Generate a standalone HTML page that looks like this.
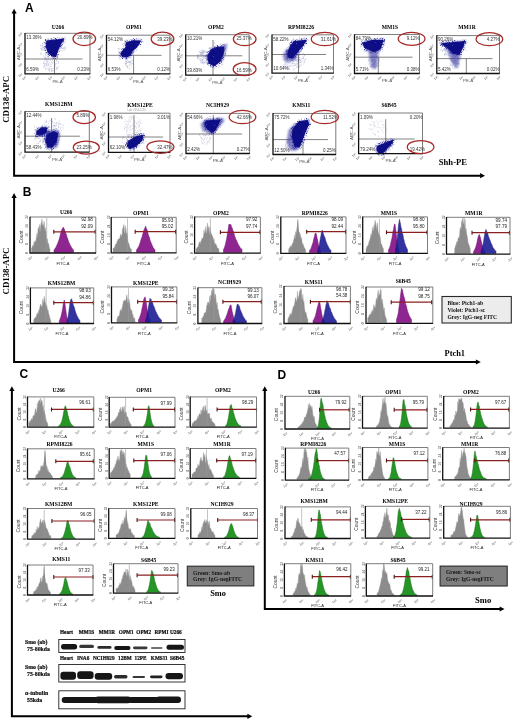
<!DOCTYPE html><html><head><meta charset="utf-8"><style>html,body{margin:0;padding:0;background:#fff;width:520px;height:720px;overflow:hidden}svg{display:block;filter:blur(0.4px)}</style></head><body><svg width="520" height="720" viewBox="0 0 520 720"><defs><filter id="b0" x="-20%" y="-20%" width="140%" height="140%"><feGaussianBlur stdDeviation="0.35"/></filter><filter id="spk1" x="-20%" y="-20%" width="140%" height="140%"><feTurbulence type="fractalNoise" baseFrequency="0.9" numOctaves="1" seed="4" result="n"/><feColorMatrix in="n" type="matrix" values="0 0 0 0 0  0 0 0 0 0  0 0 0 0 0  7 0 0 0 -3.6" result="m"/><feComposite in="SourceGraphic" in2="m" operator="in"/></filter><filter id="spk2" x="-20%" y="-20%" width="140%" height="140%"><feTurbulence type="fractalNoise" baseFrequency="0.9" numOctaves="1" seed="9" result="n"/><feColorMatrix in="n" type="matrix" values="0 0 0 0 0  0 0 0 0 0  0 0 0 0 0  7 0 0 0 -0.9" result="m"/><feComposite in="SourceGraphic" in2="m" operator="in"/></filter><filter id="b2" x="-30%" y="-50%" width="160%" height="200%"><feGaussianBlur stdDeviation="0.55"/></filter><filter id="b1" x="-30%" y="-30%" width="160%" height="160%"><feGaussianBlur stdDeviation="0.9"/></filter></defs><rect width="520" height="720" fill="#fff"/><text transform="translate(25.1 12.4) scale(1 1)" font-size="12" font-family="Liberation Sans" font-weight="bold">A</text><text transform="translate(22.8 195.5) scale(1 1)" font-size="12" font-family="Liberation Sans" font-weight="bold">B</text><text transform="translate(19.5 377.6) scale(1 1)" font-size="12" font-family="Liberation Sans" font-weight="bold">C</text><text transform="translate(277.4 378.7) scale(1 1)" font-size="12" font-family="Liberation Sans" font-weight="bold">D</text><path d="M14.1 12.7V175.7H481" fill="none" stroke="#000" stroke-width="2.0"/><path d="M11.5 13.6L14.1 8.7L16.7 13.6Z" fill="#000"/><path d="M480.1 173.1L485 175.7L480.1 178.3Z" fill="#000"/><path d="M14.1 197.1V362H476.8" fill="none" stroke="#000" stroke-width="2.0"/><path d="M11.5 198L14.1 193.1L16.7 198Z" fill="#000"/><path d="M475.9 359.4L480.8 362L475.9 364.6Z" fill="#000"/><path d="M11.9 390.2V716.3H248.3" fill="none" stroke="#000" stroke-width="2.0"/><path d="M9.3 391.1L11.9 386.2L14.5 391.1Z" fill="#000"/><path d="M247.4 713.7L252.3 716.3L247.4 718.9Z" fill="#000"/><path d="M264.8 390.2V609H500.5" fill="none" stroke="#000" stroke-width="2.0"/><path d="M262.2 391.1L264.8 386.2L267.4 391.1Z" fill="#000"/><path d="M499.6 606.4L504.5 609L499.6 611.6Z" fill="#000"/><text x="9.4" y="99.4" font-size="8.8" text-anchor="middle" font-family="Liberation Serif" font-weight="bold" fill="#000" transform="rotate(-90 9.4 99.4)">CD138-APC</text><text x="9.1" y="271" font-size="8.8" text-anchor="middle" font-family="Liberation Serif" font-weight="bold" fill="#000" transform="rotate(-90 9.1 271)">CD138-APC</text><text x="452.9" y="165.2" font-size="8.6" text-anchor="middle" font-family="Liberation Serif" font-weight="bold" fill="#000" >Shh-PE</text><text x="454.8" y="355.8" font-size="8.4" text-anchor="middle" font-family="Liberation Serif" font-weight="bold" fill="#000" >Ptch1</text><text x="218" y="595.8" font-size="8.3" text-anchor="middle" font-family="Liberation Serif" font-weight="bold" fill="#000" >Smo</text><text x="483.1" y="603" font-size="8.6" text-anchor="middle" font-family="Liberation Serif" font-weight="bold" fill="#000" >Smo</text><text x="58" y="28.7" font-size="5.6" text-anchor="middle" font-family="Liberation Serif" font-weight="bold" fill="#000" >U266</text><path d="M25 59H82.5M54.5 59V73.8" stroke="#5a5a5a" stroke-width="0.75" fill="none"/><path d="M48.2 58.4h0.01M53.4 57.2h0.01M51.6 61.9h0.01M43.9 64.1h0.01M43.6 62.9h0.01M49.8 69.2h0.01M45 59.6h0.01M53 71.2h0.01M52.2 62.3h0.01M56.7 60.6h0.01M47.9 69.1h0.01M45.9 65.3h0.01M53.2 62h0.01M51.8 57h0.01M53.9 62.8h0.01M48 65.4h0.01M50.3 60.8h0.01M55.7 67.2h0.01M46.9 65.2h0.01M51.4 70h0.01M54.7 60.6h0.01M49.7 68.1h0.01M45.4 63.8h0.01M43.6 66.7h0.01M55.2 65.2h0.01M57 61h0.01M54.1 65.5h0.01M52.3 63.3h0.01M50.6 66.6h0.01M44 67.2h0.01M56.2 60.6h0.01M49.2 66.7h0.01M43.4 63.4h0.01M45.1 60h0.01M49.3 69.9h0.01M44.3 63.2h0.01M51.8 70.1h0.01M56.1 69.8h0.01M47.5 62.6h0.01M48.7 70.1h0.01M45.8 59.7h0.01M46.7 63.8h0.01M52.4 60.2h0.01M48.9 65.1h0.01M58.2 67h0.01M51.2 65.9h0.01M53.8 56.9h0.01M57.4 68.5h0.01M57 68.8h0.01M49.3 62.4h0.01M44.7 66.1h0.01M46.3 58.6h0.01M48.4 56.8h0.01M44.6 61.8h0.01M52.8 58.4h0.01M47 61.6h0.01M48.8 58h0.01M50.5 63.7h0.01M48.5 60.2h0.01M56.3 58.6h0.01M51.5 58.3h0.01M51.7 56.4h0.01M51.4 71.7h0.01M56.8 67.1h0.01M47.2 61.9h0.01M45.7 68.4h0.01M51.5 68.5h0.01M48.3 59.6h0.01M56.6 68.9h0.01M56.1 67.8h0.01M46.6 64.3h0.01M48.7 56.5h0.01M47.1 67.1h0.01M58.3 63.2h0.01M58.3 61.8h0.01M46.5 59.6h0.01M46.1 59.3h0.01M53 70.4h0.01M56.4 63.7h0.01M53.4 68.8h0.01M44.4 66.6h0.01M57.6 68.5h0.01M55 63.6h0.01M45.9 68.6h0.01M48.3 68.8h0.01M58.5 62.3h0.01M49.4 71.1h0.01M54.6 58.7h0.01M45.3 69.2h0.01M48.6 64.8h0.01M58.5 66.4h0.01M51.4 70.9h0.01M49.9 69.9h0.01M56.2 59.4h0.01M47 60.7h0.01M46.8 65.4h0.01M47.1 62.7h0.01M48.7 63.3h0.01M52.3 70.5h0.01M49.7 70.7h0.01M51 64.5h0.01M51.4 56.3h0.01M50 58.9h0.01M45.8 63.6h0.01M54.6 64.9h0.01M48.2 64.3h0.01M51.9 68.5h0.01M44.7 65h0.01M47 60.4h0.01M55.4 64.1h0.01" stroke="#6a6aa8" stroke-width="0.7" stroke-linecap="round" opacity="0.5"/><path d="M45.6 54.7h0.01M49.1 49h0.01M46.1 50.1h0.01M45.1 53.5h0.01M44.5 50.6h0.01M44.8 57.9h0.01M47 56.8h0.01M45.6 58h0.01M48.4 43.5h0.01M41.2 49h0.01M40.7 45.3h0.01M40.7 53.1h0.01M47.8 57.1h0.01M41.5 53.9h0.01M46.6 43.6h0.01M44 49.8h0.01M41.6 48.8h0.01M45.2 47.1h0.01M42 46.7h0.01M45.5 48.9h0.01M46.2 50.2h0.01M41 45.8h0.01M42.7 43.3h0.01M44.2 57.4h0.01M48.2 45.7h0.01M45.7 53.6h0.01M46.9 48.7h0.01M46.3 55.4h0.01M44.5 47.1h0.01M45.5 57.7h0.01M42.7 43.3h0.01M45.3 45.3h0.01M43.1 46.5h0.01M47.6 46.2h0.01M45 44.2h0.01M47.3 50.9h0.01M41.9 49.5h0.01M48.2 48.8h0.01M45 56h0.01M43.9 50.1h0.01M43.4 56h0.01M47.1 52.4h0.01M44 47.3h0.01M40.7 54.3h0.01M42.6 43.9h0.01M48.7 53.1h0.01M42.8 45.4h0.01M42.9 49.3h0.01M41.6 49h0.01M49.7 50.8h0.01M43.1 47.4h0.01M44.7 50h0.01M42 50.1h0.01M40.9 48.2h0.01M43 45.2h0.01M45.9 50.5h0.01M47.5 52.8h0.01M47.2 56.8h0.01M43.9 46.9h0.01M47.2 52.6h0.01" stroke="#4a4aa0" stroke-width="0.7" stroke-linecap="round" opacity="0.45"/><path d="M65.7 47.5h0.01M63.8 49.7h0.01M56.7 46.3h0.01M61.1 50h0.01M64.7 49.9h0.01M62 50.7h0.01M63.2 48.3h0.01M56.6 44.3h0.01M61.7 47.5h0.01M62.5 48.2h0.01M60.9 40h0.01M64.6 49h0.01M61 46.4h0.01M62.9 40.8h0.01M63.8 43h0.01M55.9 43.2h0.01M63.8 42.5h0.01M60.9 44.6h0.01M60.7 48.2h0.01M64.2 47.4h0.01M62.7 40.9h0.01M56.8 43h0.01M63.9 43.7h0.01M61.8 40.1h0.01M55.7 43.2h0.01M63.1 48.3h0.01M63.1 43.5h0.01M61.2 45.6h0.01M60.6 41.4h0.01M65.7 42.4h0.01M55.2 45.5h0.01M60.4 43.2h0.01M57.5 47h0.01M56.7 46.3h0.01M64.8 46.1h0.01M65.6 48.4h0.01M57.8 50.8h0.01M60.8 40.3h0.01M55 45.9h0.01M60.4 43.6h0.01" stroke="#4a4aa0" stroke-width="0.7" stroke-linecap="round" opacity="0.45"/><path d="M47 41 L56 40 L63 39.4 L61 43 L58 49 L55.5 56.5 L52.5 56 L48.5 52.5 L46.5 47Z" fill="#3a3aa6" stroke="#3a3aa6" stroke-width="5" stroke-linejoin="round" filter="url(#spk1)"/><path d="M45.9 44h0.01M52.2 39.6h0.01M59.6 38.2h0.01M62.6 41.2h0.01M61.1 42.8h0.01M54.6 40.1h0.01M57.2 51.8h0.01M51.4 40.3h0.01M47 40.9h0.01M53.7 39.9h0.01M62.5 39h0.01M56.7 57.6h0.01M55.1 57.9h0.01M48.1 51.8h0.01M47.5 51.1h0.01M47.4 50.7h0.01M45.1 41.2h0.01M60.8 43.6h0.01M47.7 51h0.01M64.8 39h0.01M49.4 53.4h0.01M59.6 47.9h0.01M52.2 57.7h0.01M63.2 39.3h0.01M55.3 39.4h0.01M60.5 46.3h0.01M56.6 54.2h0.01M61.5 44.1h0.01M45.9 47.8h0.01M58.1 51.4h0.01M54.4 57.9h0.01M58.1 55.1h0.01M43.7 42.9h0.01M57.5 50.9h0.01M47.7 52.1h0.01M47.7 39.2h0.01M48.4 53.8h0.01M62.3 42.5h0.01M56.1 55.4h0.01M57.4 52.4h0.01M47.1 40.2h0.01M55.2 39.1h0.01M57 54.4h0.01M45.5 47.5h0.01M45.9 46.6h0.01M46 41h0.01M48.8 40.5h0.01M50.9 38.9h0.01M56.5 38.9h0.01M54.2 57.3h0.01M46.5 44.7h0.01M45.5 45.6h0.01M56.5 54.1h0.01M52.8 56.5h0.01M60.6 39.3h0.01M46.3 42.7h0.01M54.9 40.1h0.01M57.9 50.5h0.01M57.5 55.6h0.01M46.7 42.1h0.01M61.9 41.5h0.01M62.2 39.4h0.01M58.6 49.6h0.01M61.5 42.6h0.01M59.7 46.6h0.01M51.4 39.6h0.01M53.1 40.2h0.01M51.5 56.3h0.01M46.5 42.8h0.01M57.7 55.8h0.01M50.9 57.6h0.01M63.6 41.8h0.01M47 49.3h0.01M46.7 44.5h0.01M51.1 38.8h0.01M53 57.2h0.01M49.1 53.1h0.01M47.1 48.9h0.01M48.1 54.4h0.01M65.1 39.5h0.01M52.3 57.1h0.01M54.4 57.8h0.01M49.2 39.8h0.01M58.5 49.1h0.01M60.1 45.4h0.01M48.4 40.4h0.01M58.3 49.2h0.01M57.5 52.4h0.01M62.5 38.5h0.01M59.5 46.7h0.01M53.8 56.5h0.01M61.4 38.4h0.01M51.5 55.5h0.01M48.6 54h0.01M61.8 42.9h0.01M58.7 39.5h0.01M45.4 47.1h0.01M51.5 40.4h0.01M53.2 56.1h0.01M63 41.2h0.01M59.9 45.2h0.01M61.2 42.7h0.01M48.9 54.8h0.01M49.2 40.7h0.01M56.1 55.7h0.01M59.9 46.8h0.01M47.3 53.1h0.01M62.6 38.6h0.01M63.1 38.8h0.01M61.8 47h0.01M57.1 55.5h0.01M59.4 46.6h0.01M62 42.6h0.01M47.3 40.9h0.01M54.1 57.2h0.01M46.8 41.2h0.01M47.5 52h0.01M45.9 41.4h0.01M64.9 38h0.01M58.5 48.3h0.01M60.5 44.4h0.01M61.3 38.6h0.01M59.8 46.4h0.01M54.5 40.1h0.01M56.3 38.9h0.01M61.4 46.4h0.01M60.5 38.7h0.01M50.9 40.1h0.01M51.8 56.5h0.01M65.1 40.6h0.01M54 37.7h0.01M47.4 50.1h0.01M46.5 40.9h0.01M54.9 40h0.01M57 39h0.01M52.4 40h0.01M62.6 39.4h0.01M62.2 39.1h0.01M46.8 39.9h0.01M61.8 48.3h0.01M56.5 53.7h0.01M50.3 54.4h0.01M47.8 51.8h0.01M46 52.5h0.01M48.6 55.9h0.01M62.5 38.4h0.01M61.8 41.7h0.01M55.6 56.9h0.01M56.9 56.1h0.01M57.8 51.8h0.01M62.1 39.4h0.01M62.7 41.5h0.01M50.7 54.6h0.01M46.3 43.1h0.01M53.1 39.3h0.01M45.3 43.5h0.01M56.8 53.5h0.01M61.4 44.8h0.01M46.6 48.2h0.01M53.3 56.2h0.01M45.1 50.8h0.01M46.4 42.7h0.01M52 39.1h0.01M56.2 57.1h0.01M60.2 44.7h0.01M53.5 57.3h0.01M57.1 57.1h0.01M54.7 40.1h0.01M60.1 44.8h0.01M63.7 39.8h0.01M46.3 49.7h0.01M46.3 48.9h0.01M52.3 40.2h0.01M64.4 38.6h0.01M61.3 43.1h0.01M62.5 39.4h0.01M49.4 54h0.01M48.2 40.1h0.01M48.2 56.6h0.01M48.2 53.1h0.01M61.4 43.3h0.01M56.7 39.7h0.01M49.2 40.7h0.01M55.6 56.3h0.01M46.1 48.7h0.01M63.6 38.6h0.01M51.9 55.6h0.01M62.5 42.3h0.01M58.8 50h0.01M52.6 59.2h0.01M45.5 45.9h0.01M57.1 54.9h0.01M60.2 45.3h0.01M63 41.5h0.01M60 46.9h0.01M57.8 51.4h0.01M46.7 43.1h0.01M61.7 39.3h0.01M59.2 49h0.01M59.9 46.3h0.01M48.9 40.7h0.01M46.8 41.5h0.01M61.7 38.6h0.01M65.3 36.7h0.01M54.5 56.7h0.01M45.5 44.1h0.01M49.8 53.8h0.01M51 39h0.01M56.2 56.7h0.01M53.3 40h0.01M46.5 45.5h0.01M50.4 55.4h0.01M48 51.2h0.01M50.1 38.5h0.01M61.9 38.6h0.01M47.9 51.9h0.01M43 47.8h0.01M60.6 47.8h0.01M55.6 39.7h0.01M46.2 47.9h0.01M46.5 41.4h0.01M64 41.1h0.01M45.4 40.8h0.01M48 51.8h0.01M59.2 50.1h0.01M51.2 40.4h0.01M46.2 47h0.01M46.4 47.5h0.01M58.8 48.5h0.01M57.3 54h0.01M45.1 44.4h0.01M58.4 51.8h0.01M54.2 38.9h0.01M58.4 39.1h0.01M48.5 40h0.01M57.4 51.9h0.01M58.4 49.3h0.01M62.5 40.5h0.01M59.9 47.9h0.01M47.9 53h0.01M54.3 56.9h0.01M58.7 47.8h0.01M55 39.8h0.01M50.1 54.1h0.01M58.8 39.6h0.01M46.7 43.5h0.01M47.3 50.8h0.01M49.9 54.3h0.01M58 49.1h0.01M56.5 53.8h0.01M49.2 40h0.01M59.2 39.3h0.01M62.6 37.4h0.01M48.6 52.6h0.01M58.5 49.2h0.01M51.8 55.6h0.01M46.3 53.6h0.01M53.7 56.6h0.01M47.4 50.9h0.01M53.5 56.9h0.01" stroke="#3a3aa0" stroke-width="0.6" stroke-linecap="round" opacity="0.5"/><path d="M47 41 L56 40 L63 39.4 L61 43 L58 49 L55.5 56.5 L52.5 56 L48.5 52.5 L46.5 47Z" fill="#0c0c86" stroke="#0c0c86" stroke-width="1.2" stroke-linejoin="round" filter="url(#spk2)"/><path d="M25 33.3H90V73.8" fill="none" stroke="#6e6e6e" stroke-width="0.9"/><path d="M25 33V73.8H90.3" fill="none" stroke="#111" stroke-width="1.3"/><text x="22.8" y="74.8" font-size="2.9" text-anchor="end" font-family="Liberation Sans" fill="#3a3a3a" transform="rotate(-35 22.8 74.8)">10<tspan font-size="2" dy="-1.1">1</tspan></text><text x="22.8" y="64.7" font-size="2.9" text-anchor="end" font-family="Liberation Sans" fill="#3a3a3a" transform="rotate(-35 22.8 64.7)">10<tspan font-size="2" dy="-1.1">2</tspan></text><text x="22.8" y="54.5" font-size="2.9" text-anchor="end" font-family="Liberation Sans" fill="#3a3a3a" transform="rotate(-35 22.8 54.5)">10<tspan font-size="2" dy="-1.1">3</tspan></text><text x="22.8" y="44.4" font-size="2.9" text-anchor="end" font-family="Liberation Sans" fill="#3a3a3a" transform="rotate(-35 22.8 44.4)">10<tspan font-size="2" dy="-1.1">4</tspan></text><text x="22.8" y="34.3" font-size="2.9" text-anchor="end" font-family="Liberation Sans" fill="#3a3a3a" transform="rotate(-35 22.8 34.3)">10<tspan font-size="2" dy="-1.1">5</tspan></text><text x="26.6" y="78" font-size="2.9" text-anchor="end" font-family="Liberation Sans" fill="#3a3a3a" transform="rotate(-35 26.6 78)">10<tspan font-size="2" dy="-1.1">0</tspan></text><text x="39.6" y="78" font-size="2.9" text-anchor="end" font-family="Liberation Sans" fill="#3a3a3a" transform="rotate(-35 39.6 78)">10<tspan font-size="2" dy="-1.1">1</tspan></text><text x="52.6" y="78" font-size="2.9" text-anchor="end" font-family="Liberation Sans" fill="#3a3a3a" transform="rotate(-35 52.6 78)">10<tspan font-size="2" dy="-1.1">2</tspan></text><text x="65.6" y="78" font-size="2.9" text-anchor="end" font-family="Liberation Sans" fill="#3a3a3a" transform="rotate(-35 65.6 78)">10<tspan font-size="2" dy="-1.1">3</tspan></text><text x="78.6" y="78" font-size="2.9" text-anchor="end" font-family="Liberation Sans" fill="#3a3a3a" transform="rotate(-35 78.6 78)">10<tspan font-size="2" dy="-1.1">4</tspan></text><text x="91.6" y="78" font-size="2.9" text-anchor="end" font-family="Liberation Sans" fill="#3a3a3a" transform="rotate(-35 91.6 78)">10<tspan font-size="2" dy="-1.1">5</tspan></text><text x="19.8" y="53.5" font-size="4.4" text-anchor="middle" font-family="Liberation Sans" fill="#555" transform="rotate(-90 19.8 53.5)">APC-A</text><text x="57.5" y="82.6" font-size="4.4" text-anchor="middle" font-family="Liberation Sans" fill="#555">PE-A</text><text x="26.3" y="39" font-size="4.5" text-anchor="start" font-family="Liberation Sans" fill="#333" >13.36%</text><text x="77.2" y="39" font-size="4.5" text-anchor="start" font-family="Liberation Sans" fill="#333" >20.89%</text><text x="26.3" y="70.8" font-size="4.5" text-anchor="start" font-family="Liberation Sans" fill="#333" >6.59%</text><text x="77.2" y="70.8" font-size="4.5" text-anchor="start" font-family="Liberation Sans" fill="#333" >0.23%</text><ellipse cx="84.3" cy="38.8" rx="11.3" ry="6.7" fill="none" stroke="#a82828" stroke-width="1.25"/><text x="134" y="29" font-size="5.6" text-anchor="middle" font-family="Liberation Serif" font-weight="bold" fill="#000" >OPM1</text><path d="M106.5 55.3H161.5M133.6 55.3V73.8" stroke="#5a5a5a" stroke-width="0.75" fill="none"/><path d="M131.2 64.1h0.01M131.2 57.1h0.01M125.7 62.3h0.01M129.9 64.6h0.01M126.4 63h0.01M130.4 61.2h0.01M128.3 61.5h0.01M127.2 57.4h0.01M132.2 60.1h0.01M132 62.9h0.01M130.7 61.3h0.01M126.9 62.9h0.01M127.5 66.6h0.01M125.3 63.9h0.01M127.7 60.9h0.01M129.3 68.8h0.01M129.2 62.9h0.01M126.6 66h0.01M128.9 65.7h0.01M132.4 63.7h0.01M130.6 62.7h0.01M126 61.4h0.01M132.8 60.3h0.01M126.1 61.1h0.01M125.5 63.5h0.01M126.8 58h0.01M130.1 68h0.01M129.7 61.8h0.01M128.4 55.2h0.01M127.8 62.3h0.01M127.7 66.8h0.01M131.5 66.1h0.01M128.9 62h0.01M128.9 61.3h0.01M128.2 61.9h0.01M125.8 65.5h0.01M129.2 57.3h0.01M126.5 61.7h0.01M127.1 66.1h0.01M127.7 68h0.01M127.5 66.9h0.01M125.8 64.4h0.01M128.9 58.1h0.01M126 58.4h0.01M130.9 63.1h0.01M126 59h0.01M131 61.6h0.01M126.7 58.6h0.01M126.5 63.8h0.01M129.8 62.3h0.01" stroke="#4a4aa0" stroke-width="0.7" stroke-linecap="round" opacity="0.45"/><path d="M130.4 48.5h0.01M123 50.7h0.01M125.8 42.2h0.01M130 46.9h0.01M131.4 50.7h0.01M133.3 49.3h0.01M127.5 55.6h0.01M130.8 45.4h0.01M132.9 50.6h0.01M133.2 49.7h0.01M129.9 49.5h0.01M129.9 47.2h0.01M120 48.9h0.01M122.2 44.2h0.01M132 49.9h0.01M130 53.1h0.01M125 47.2h0.01M124.9 45.7h0.01M130.5 54.2h0.01M122.8 51.4h0.01M129 52.4h0.01M129.5 45.1h0.01M130.2 53.5h0.01M124.9 44.4h0.01M124 48.5h0.01M126.4 44.7h0.01M119 50.1h0.01M129.5 51.1h0.01M124.3 53.7h0.01M118.3 48.9h0.01M126.4 43.6h0.01M126.4 40.1h0.01M128.5 48.1h0.01M126.6 53.4h0.01M128.3 55.1h0.01M128.9 54.6h0.01M123.1 54.7h0.01M130.1 46.3h0.01M126.4 52.5h0.01M118.9 48.6h0.01M127.1 51.5h0.01M123.5 49.7h0.01M129.8 46.1h0.01M128.9 54.5h0.01M123.9 48.4h0.01M125.7 53.4h0.01M122.3 44.6h0.01M124.3 50.4h0.01M126 51.7h0.01M124.6 40.4h0.01" stroke="#4a4aa0" stroke-width="0.7" stroke-linecap="round" opacity="0.45"/><path d="M127 42.5 L133 41 L140 41 L138.5 44.5 L134.5 48.5 L132 51 L130 55 L126.5 57 L122.5 56.5 L121 53.5 L123.5 50 L126.5 47.5 L126 44.5Z" fill="#3a3aa6" stroke="#3a3aa6" stroke-width="5" stroke-linejoin="round" filter="url(#spk1)"/><path d="M140.9 40.4h0.01M118.8 51.8h0.01M138 46.1h0.01M137.3 47.1h0.01M128.1 57.3h0.01M137.2 46h0.01M125.4 43h0.01M136.5 40.2h0.01M135.6 40.9h0.01M134.7 48.9h0.01M130.1 41.5h0.01M140.6 44.8h0.01M121.5 52.4h0.01M120.2 52.8h0.01M126 58.1h0.01M132 51.3h0.01M126.1 45.9h0.01M136.3 47h0.01M131.7 53.4h0.01M140.7 39.1h0.01M140.9 44.7h0.01M137.4 46.3h0.01M124.8 42.1h0.01M126 58.3h0.01M128.9 41.8h0.01M134.1 49.3h0.01M124.7 56.9h0.01M142 40.8h0.01M126.3 47.4h0.01M124 48.5h0.01M141.7 42.5h0.01M121.4 55.3h0.01M131.1 55.5h0.01M141.9 41.8h0.01M131.9 52.7h0.01M127.5 58h0.01M126.5 42.6h0.01M131.9 41.1h0.01M126.5 41.4h0.01M137.2 45.9h0.01M135.5 47.6h0.01M129.2 55.7h0.01M137.2 46.2h0.01M129.5 56.2h0.01M127.4 42.1h0.01M131.6 53.1h0.01M143.5 42.1h0.01M126.3 58.8h0.01M134.1 40.4h0.01M140 41.5h0.01M132.8 51.5h0.01M129.5 56.5h0.01M131.3 41.3h0.01M134.1 51.8h0.01M127.4 42.1h0.01M121.6 54.9h0.01M139.4 40.4h0.01M123.3 48.9h0.01M125.1 48.6h0.01M128 56.3h0.01M128.8 56h0.01M129.8 40.6h0.01M130.8 53.6h0.01M126.8 42.6h0.01M135.7 47.5h0.01M137.9 45.3h0.01M139.2 38.6h0.01M128.5 41.8h0.01M121 55.9h0.01M131.4 54h0.01M125.4 59.9h0.01M121.3 52.3h0.01M134.2 50h0.01M122.7 50.4h0.01M136 48.2h0.01M136 47.1h0.01M137.8 40.7h0.01M135.1 40.6h0.01M133.7 49.5h0.01M126.8 42.4h0.01M125.5 45.1h0.01M127.2 41h0.01M123.7 57.4h0.01M136.2 38.8h0.01M125 57.7h0.01M137.4 40.9h0.01M134.7 40.1h0.01M136.6 40.6h0.01M131.9 51.3h0.01M133.2 38.6h0.01M120 59.3h0.01M125.8 42.6h0.01M125 57.5h0.01M130.7 57.4h0.01M136.6 50h0.01M120.1 53.6h0.01M137.1 40.8h0.01M140.5 41.6h0.01M125.3 45.2h0.01M122.6 48.8h0.01M135.8 40.5h0.01M126.8 42.3h0.01M136 47.3h0.01M133.2 40.1h0.01M131 55.6h0.01M135.5 40.4h0.01M119.4 53.8h0.01M124 48.4h0.01M118.4 54.1h0.01M131.8 53.8h0.01M124.1 58.7h0.01M127 57.7h0.01M135.1 40.4h0.01M121.6 57.9h0.01M132.5 53.5h0.01M119.7 56.4h0.01M136.9 46.6h0.01M130.5 41.5h0.01M126.3 47.5h0.01M130.1 56h0.01M128.4 41.3h0.01M125.9 43.7h0.01M135.6 40.2h0.01M121.1 53.7h0.01M126.4 57h0.01M126.1 45.3h0.01M139.9 41h0.01M131.4 40.3h0.01M133.2 54.2h0.01M120.6 55.6h0.01M128.1 41.8h0.01M122.4 50.8h0.01M139.3 42.9h0.01M129 41.5h0.01M139.8 42.5h0.01M122.1 51.8h0.01M131 55.2h0.01M122 48.7h0.01M138.5 44.8h0.01M133.6 49.7h0.01M137.6 45.6h0.01M135.7 41h0.01M120.3 53.6h0.01M123.2 50.4h0.01M127.5 59.2h0.01M134.4 49h0.01M125.4 46.8h0.01M126 44.8h0.01M132.6 40.6h0.01M137.1 40.2h0.01M137 40.9h0.01M126.1 43.6h0.01M135.5 48.1h0.01M121.6 49.8h0.01M136 48h0.01M134.2 40.6h0.01M130.6 57.3h0.01M119.8 58.6h0.01M127.7 42h0.01M129.3 57.2h0.01M126.2 43.8h0.01M121.6 54.9h0.01M128.7 41.7h0.01M135 51.4h0.01M134.5 40.2h0.01M126.3 57.4h0.01M121.1 53.9h0.01M120.1 52.6h0.01M131.8 55.4h0.01M139.2 44.3h0.01M119 57.4h0.01M130 40.9h0.01M125.8 58.4h0.01M129.6 40.6h0.01M140.1 40.3h0.01M128.8 56h0.01M126.1 57.7h0.01M127.7 42.1h0.01M134.4 48.9h0.01M138.3 41h0.01M130.6 54.6h0.01M139.9 40h0.01M123.2 44h0.01M139.8 42.7h0.01M139.2 44.5h0.01M132.5 53.7h0.01M126.4 43h0.01M135.4 47.8h0.01M125.5 47.3h0.01M128.6 56h0.01M132.2 50.8h0.01M127.8 56.8h0.01M126.2 43.8h0.01M135.6 40.8h0.01M138 45.7h0.01M124.4 49h0.01M134.9 41h0.01M132 54.7h0.01M138.9 45.2h0.01M131.3 53.7h0.01M140.1 40.8h0.01M120.8 55.7h0.01M131.5 40.2h0.01M133.6 40.6h0.01M131.2 53.3h0.01M119.9 53.6h0.01M121.8 51.8h0.01M122.7 57.6h0.01M136.2 46.8h0.01M132.7 39.6h0.01M130.5 41.4h0.01M122.2 56h0.01M130.5 55.4h0.01M122.9 49.1h0.01M126 41.3h0.01M133.6 51.7h0.01M132.5 40.9h0.01M140 41.4h0.01M121.6 56.1h0.01M140.7 40.8h0.01M132.6 51.4h0.01M136 39.8h0.01M128.7 41.9h0.01M121.6 55.5h0.01M126 40.3h0.01M133 40.7h0.01M125.2 47.2h0.01M120.6 54.4h0.01M124 49.1h0.01M125.4 46.9h0.01M126.5 57h0.01M132 51.9h0.01M120.4 54h0.01M125.3 45.8h0.01M127.3 56.6h0.01M125.9 57.3h0.01M120.6 54.5h0.01M125.6 43.9h0.01M140.5 40.4h0.01M126.1 57h0.01M133.5 52.5h0.01M125.4 44.2h0.01M127.2 42h0.01M133.7 50.5h0.01M124.8 48.3h0.01M129.9 56.2h0.01M132.3 52.6h0.01M135.9 47.1h0.01M132.9 39.5h0.01M120.7 53.7h0.01M133.5 49.7h0.01M135.4 49.1h0.01M136.9 39.9h0.01M125.8 46h0.01M133.6 40.6h0.01M132.9 50.2h0.01M120.9 52.4h0.01M140.3 40.3h0.01M137 47h0.01M132 54.1h0.01" stroke="#3a3aa0" stroke-width="0.6" stroke-linecap="round" opacity="0.5"/><path d="M127 42.5 L133 41 L140 41 L138.5 44.5 L134.5 48.5 L132 51 L130 55 L126.5 57 L122.5 56.5 L121 53.5 L123.5 50 L126.5 47.5 L126 44.5Z" fill="#0c0c86" stroke="#0c0c86" stroke-width="1.2" stroke-linejoin="round" filter="url(#spk2)"/><path d="M106.5 35.2H170V73.8" fill="none" stroke="#6e6e6e" stroke-width="0.9"/><path d="M106.5 34.9V73.8H170.3" fill="none" stroke="#111" stroke-width="1.3"/><text x="104.3" y="74.8" font-size="2.9" text-anchor="end" font-family="Liberation Sans" fill="#3a3a3a" transform="rotate(-35 104.3 74.8)">10<tspan font-size="2" dy="-1.1">1</tspan></text><text x="104.3" y="65.2" font-size="2.9" text-anchor="end" font-family="Liberation Sans" fill="#3a3a3a" transform="rotate(-35 104.3 65.2)">10<tspan font-size="2" dy="-1.1">2</tspan></text><text x="104.3" y="55.5" font-size="2.9" text-anchor="end" font-family="Liberation Sans" fill="#3a3a3a" transform="rotate(-35 104.3 55.5)">10<tspan font-size="2" dy="-1.1">3</tspan></text><text x="104.3" y="45.9" font-size="2.9" text-anchor="end" font-family="Liberation Sans" fill="#3a3a3a" transform="rotate(-35 104.3 45.9)">10<tspan font-size="2" dy="-1.1">4</tspan></text><text x="104.3" y="36.2" font-size="2.9" text-anchor="end" font-family="Liberation Sans" fill="#3a3a3a" transform="rotate(-35 104.3 36.2)">10<tspan font-size="2" dy="-1.1">5</tspan></text><text x="108.1" y="78" font-size="2.9" text-anchor="end" font-family="Liberation Sans" fill="#3a3a3a" transform="rotate(-35 108.1 78)">10<tspan font-size="2" dy="-1.1">0</tspan></text><text x="120.8" y="78" font-size="2.9" text-anchor="end" font-family="Liberation Sans" fill="#3a3a3a" transform="rotate(-35 120.8 78)">10<tspan font-size="2" dy="-1.1">1</tspan></text><text x="133.5" y="78" font-size="2.9" text-anchor="end" font-family="Liberation Sans" fill="#3a3a3a" transform="rotate(-35 133.5 78)">10<tspan font-size="2" dy="-1.1">2</tspan></text><text x="146.2" y="78" font-size="2.9" text-anchor="end" font-family="Liberation Sans" fill="#3a3a3a" transform="rotate(-35 146.2 78)">10<tspan font-size="2" dy="-1.1">3</tspan></text><text x="158.9" y="78" font-size="2.9" text-anchor="end" font-family="Liberation Sans" fill="#3a3a3a" transform="rotate(-35 158.9 78)">10<tspan font-size="2" dy="-1.1">4</tspan></text><text x="171.6" y="78" font-size="2.9" text-anchor="end" font-family="Liberation Sans" fill="#3a3a3a" transform="rotate(-35 171.6 78)">10<tspan font-size="2" dy="-1.1">5</tspan></text><text x="101.3" y="54.5" font-size="4.4" text-anchor="middle" font-family="Liberation Sans" fill="#555" transform="rotate(-90 101.3 54.5)">APC-A</text><text x="138.2" y="82.6" font-size="4.4" text-anchor="middle" font-family="Liberation Sans" fill="#555">PE-A</text><text x="107.8" y="40.9" font-size="4.5" text-anchor="start" font-family="Liberation Sans" fill="#333" >54.12%</text><text x="157.2" y="40.9" font-size="4.5" text-anchor="start" font-family="Liberation Sans" fill="#333" >39.23%</text><text x="107.8" y="70.8" font-size="4.5" text-anchor="start" font-family="Liberation Sans" fill="#333" >6.53%</text><text x="157.2" y="70.8" font-size="4.5" text-anchor="start" font-family="Liberation Sans" fill="#333" >0.12%</text><ellipse cx="162.5" cy="38.9" rx="11.3" ry="6.7" fill="none" stroke="#a82828" stroke-width="1.25"/><text x="216" y="28.7" font-size="5.6" text-anchor="middle" font-family="Liberation Serif" font-weight="bold" fill="#000" >OPM2</text><path d="M185.7 55.8H242.3M213 40V75.1" stroke="#5a5a5a" stroke-width="0.75" fill="none"/><path d="M201.6 54.5h0.01M197.1 56.1h0.01M203.3 57h0.01M205.7 56.3h0.01M202.7 52.5h0.01M201.9 53.2h0.01M202.2 59.2h0.01M202.8 53.2h0.01M206 51.9h0.01M199.4 52.5h0.01M203.7 50.5h0.01M203.1 56.9h0.01M206.5 52.6h0.01M206 51.1h0.01M203.2 55.9h0.01M201.5 56.8h0.01M201 59.9h0.01M202.1 54.2h0.01M204.9 61.6h0.01M206.4 62.6h0.01M208.1 57.7h0.01M202.2 51.7h0.01M202.9 52.2h0.01M200.5 52.5h0.01M206.9 58.2h0.01M202.1 55.3h0.01M200.6 52.7h0.01M206.8 54.5h0.01M201.9 62h0.01M204.1 50.6h0.01M204.4 51.4h0.01M203 53.4h0.01M206.3 57.9h0.01M202.4 60.6h0.01M207.9 55.8h0.01M205.4 52.1h0.01M204.8 55.4h0.01M201.8 52.1h0.01M203.3 63.9h0.01M206.1 62.3h0.01M202.5 52.6h0.01M197.5 57.9h0.01M201.9 59.5h0.01M200.7 54h0.01M204.6 62.7h0.01M202.4 60.8h0.01M197.3 57.1h0.01M206.3 56.1h0.01M198 58.9h0.01M208.7 55.2h0.01M198.6 57.4h0.01M204.6 56.7h0.01M197.9 55.2h0.01M202.8 54.2h0.01M202.7 59.5h0.01M204.5 57.7h0.01M201.5 53.4h0.01M205.4 56.7h0.01M199.5 51.4h0.01M207.5 61.3h0.01M202.2 62.8h0.01M197.8 56.4h0.01M207.4 57.5h0.01M206.6 60.9h0.01M203.7 55.8h0.01M203.8 62.6h0.01M201 50.9h0.01M203.5 51.4h0.01M201.3 52.5h0.01M197.6 55.7h0.01M199.8 54.8h0.01M201.1 61.2h0.01M201.9 52.3h0.01M204.1 56.8h0.01M197.9 56.6h0.01M200.5 53.6h0.01M202.9 62.5h0.01M202.1 62.1h0.01M203.1 54.3h0.01M200.8 62.6h0.01M208.1 53.4h0.01M204 54.7h0.01M199.9 60.2h0.01M206.3 52.1h0.01M200.9 54.5h0.01M200.4 60.7h0.01M202.2 63.6h0.01M206.4 58.7h0.01M201.9 50.4h0.01M202.8 50.1h0.01M198.1 57.2h0.01M207.8 55.6h0.01M203.1 51.8h0.01M204.4 62.7h0.01M199.9 56.5h0.01M202.7 62.8h0.01M205.6 58.3h0.01M199.1 59.4h0.01M203 59.6h0.01M200.9 55.7h0.01M203.1 61h0.01M203.3 52.9h0.01M202.8 58h0.01M197.6 58.2h0.01M203.7 59h0.01M205.1 60.6h0.01M198 54.4h0.01M200.3 58.9h0.01M207.7 55.1h0.01M200 57.6h0.01" stroke="#4a4aa0" stroke-width="0.7" stroke-linecap="round" opacity="0.45"/><path d="M222.9 62.1h0.01M210.4 66.6h0.01M208.2 58.7h0.01M209.1 48.4h0.01M211.4 61.4h0.01M218.8 49.5h0.01M212 67.3h0.01M216.9 64h0.01M221.3 52.9h0.01M221.2 61.3h0.01M211.7 61.2h0.01M220.8 57.2h0.01M215.8 50.4h0.01M221.2 65h0.01M214.3 48.4h0.01M223.3 57.9h0.01M216.7 61.9h0.01M216.3 59.4h0.01M211.9 58.5h0.01M209.3 61.4h0.01M219.2 56.8h0.01M220.1 57.7h0.01M209.1 52.8h0.01M211.3 54.1h0.01M211.8 50.3h0.01M207.4 56.5h0.01M206.4 55.8h0.01M207.8 56.5h0.01M207.6 51.4h0.01M215.1 64.1h0.01M220.3 49.1h0.01M211.1 58.4h0.01M219.6 66.2h0.01M215.8 49h0.01M205.7 58.6h0.01M222.5 51.6h0.01M218.9 62.5h0.01M214.8 51h0.01M207.1 60.3h0.01M208 59.6h0.01M209.9 48.2h0.01M214.5 63.2h0.01M220.2 52.9h0.01M211.5 57.9h0.01M215.8 47.7h0.01M219.8 47.9h0.01M216.1 49.1h0.01M207 57.3h0.01M214.9 55.7h0.01M219.6 58.3h0.01M213.4 65.3h0.01M209.2 57.6h0.01M209 58.5h0.01M219 47.8h0.01M206.8 57.1h0.01M217.2 50.3h0.01M211.8 66.7h0.01M217.9 49.8h0.01M217.3 51.9h0.01M209.7 62.1h0.01" stroke="#4a4aa0" stroke-width="0.7" stroke-linecap="round" opacity="0.45"/><path d="M223 46 L227 44 L225 52 L221 62Z" fill="#3a3aa2" stroke="#3a3aa2" stroke-width="1" stroke-linejoin="round" opacity="0.62" filter="url(#b1)"/><path d="M211 50 L217 47.5 L223.5 47 L223 54 L220 61 L214 65.5 L209 63 L208 56Z" fill="#3a3aa6" stroke="#3a3aa6" stroke-width="5" stroke-linejoin="round" filter="url(#spk1)"/><path d="M213.1 46.5h0.01M222.4 57.1h0.01M224.5 45.8h0.01M215.8 64.2h0.01M222 59.7h0.01M206.2 56.5h0.01M207.5 56.8h0.01M207.6 55.3h0.01M210.1 50.6h0.01M214.3 65.7h0.01M224.4 48.8h0.01M216.9 47.3h0.01M212.2 48.9h0.01M208.1 59.4h0.01M216.5 63.7h0.01M206.4 55h0.01M210.8 64.6h0.01M223.3 53.6h0.01M221.9 45.7h0.01M210.7 64.7h0.01M219.5 46.7h0.01M224 56h0.01M223.6 52.2h0.01M214.4 48h0.01M223.9 55.1h0.01M215.1 65.4h0.01M210.4 63.9h0.01M215.4 65.8h0.01M221.7 60.9h0.01M208.5 53.9h0.01M217.7 46.9h0.01M224.7 48h0.01M223.4 48.8h0.01M212.3 66.9h0.01M223.7 48.4h0.01M220.1 43.9h0.01M213.6 66.3h0.01M209.9 63.8h0.01M212.6 64.8h0.01M220.5 61.4h0.01M216.8 45.6h0.01M207.5 54.9h0.01M218.5 62.2h0.01M221.6 46.4h0.01M224.5 57.9h0.01M224.4 48.4h0.01M219.4 46.2h0.01M212 49.4h0.01M217.5 63.3h0.01M207.5 57.7h0.01M213.2 48.1h0.01M208.7 63.3h0.01M218.3 46.6h0.01M208.2 60.6h0.01M222.2 58.6h0.01M215.7 47.1h0.01M223.4 46.3h0.01M207.8 59.6h0.01M217.8 47.2h0.01M211 48.3h0.01M219.2 62.2h0.01M223.9 49h0.01M222.4 46.7h0.01M217.5 46.4h0.01M222 60h0.01M220.9 60.6h0.01M217.2 63.6h0.01M208.4 59.8h0.01M223.3 57h0.01M212.4 48.6h0.01M214.9 43.1h0.01M221.5 57.5h0.01M215.2 65.6h0.01M211.6 65.4h0.01M218.6 64.8h0.01M222.6 58.7h0.01M207.7 58.1h0.01M223.7 47.5h0.01M215.9 64.9h0.01M224 45.1h0.01M216.9 64.3h0.01M223.7 57.8h0.01M223.1 56.4h0.01M211.5 48.4h0.01M223.8 59.8h0.01M210.5 65.6h0.01M209.4 47.6h0.01M212.6 49.1h0.01M218 62.9h0.01M223.5 48.6h0.01M208.3 60.3h0.01M221.5 59h0.01M221.6 57.7h0.01M207.4 56.9h0.01M210.8 50.4h0.01M222.7 47h0.01M206.3 60.6h0.01M220.9 59.7h0.01M208.7 62.2h0.01M219.2 47.1h0.01M224.7 48.7h0.01M208.5 54.6h0.01M222.8 55h0.01M208.3 60.5h0.01M211.6 64.9h0.01M207.8 56h0.01M214.4 43.1h0.01M215.2 47h0.01M223.7 50.4h0.01M208.6 54.6h0.01M211.5 65.1h0.01M224.2 45.2h0.01M207.1 62.2h0.01M215.3 64.6h0.01M214.5 48.5h0.01M208.2 58.2h0.01M210.5 49.2h0.01M208.9 64h0.01M223.5 48.8h0.01M220.4 45h0.01M222.8 54.6h0.01M212.7 65.5h0.01M210 64h0.01M215.1 46.7h0.01M214 47.9h0.01M210.6 49.9h0.01M216.3 63.9h0.01M215.6 46.5h0.01M215 47.8h0.01M219.5 62.7h0.01M218.2 67.4h0.01M214.4 48.5h0.01M211 64.9h0.01M216.1 66.3h0.01M208.1 58.3h0.01M221.9 59.3h0.01M215.8 64.2h0.01M213.3 48.8h0.01M216.4 64.2h0.01M208.2 59.3h0.01M218.1 46.4h0.01M224.2 50.7h0.01M207.8 52.4h0.01M216.4 64h0.01M219.4 61.9h0.01M219 61.8h0.01M220.5 60.7h0.01M207.2 58.4h0.01M215.7 46.4h0.01M209.9 65.3h0.01M216.4 63.7h0.01M217.9 63.5h0.01M221.2 58.7h0.01M223.6 54.6h0.01M218.3 62.5h0.01M210.8 49.9h0.01M209.5 50.1h0.01M208.1 56.9h0.01M224.4 51h0.01M223.2 51.2h0.01M224.2 47.5h0.01M215.2 64.6h0.01M222.7 56.2h0.01M221.9 56.7h0.01M217.4 63.9h0.01M205.9 56.6h0.01M208.1 58h0.01M204.2 52.5h0.01M223.8 49.8h0.01M213 65.6h0.01M210.8 66.3h0.01M205.8 63.3h0.01M222.2 57.7h0.01M209.4 52.8h0.01M223.3 51.1h0.01M208.1 53.8h0.01M208.2 57.6h0.01M208.1 57.9h0.01M216.8 63.4h0.01M221 47.1h0.01M207.8 64.2h0.01M216.1 64.3h0.01M223.4 52.9h0.01M224.4 45h0.01M223.6 51.9h0.01M219.7 62.3h0.01M223.4 50.7h0.01M211.8 48.5h0.01M215 46.7h0.01M216.3 47.1h0.01M207.9 56.7h0.01M210.2 67h0.01M215.8 46.9h0.01M222 46.5h0.01M209.2 63.2h0.01M213.5 67h0.01M217.9 62.7h0.01M222.1 46.9h0.01M209.6 63.4h0.01M223.6 50.6h0.01M224 54.7h0.01M209.6 50.4h0.01M208.6 53.7h0.01M209.1 53.6h0.01M208.2 59.8h0.01M223.5 48.4h0.01M208.2 59.3h0.01M215.4 66.9h0.01M208.4 59.9h0.01M209.2 52.8h0.01M217.1 63.7h0.01M222.8 64.4h0.01M221.3 61.5h0.01M214 48.4h0.01M221.9 46.1h0.01M223.4 48.5h0.01M219.4 63.3h0.01M222.2 58.7h0.01M218 62.9h0.01M207.8 59.9h0.01M213.8 48h0.01M220.9 61.1h0.01M209.8 63.5h0.01M211.9 66.5h0.01M214.9 65.4h0.01M221.9 64.3h0.01M211.3 49.8h0.01M221.9 58.2h0.01M223.3 50.3h0.01M214.7 68.1h0.01M206.6 56.5h0.01M222.7 46.5h0.01M217.6 64.4h0.01M206.2 56.3h0.01M208.3 64.1h0.01M206.5 59.5h0.01M211.6 64.4h0.01M214.5 67.3h0.01M222 58.3h0.01M214.9 46.2h0.01M209.8 50.8h0.01M216.4 47.5h0.01M223.6 52h0.01M221.9 57.3h0.01M210.7 48.6h0.01M215.7 47.9h0.01M206.7 58h0.01M208.8 53.7h0.01M221.3 47h0.01M212.7 67.4h0.01M208 56.4h0.01M210.8 65.1h0.01M210.5 63.9h0.01M212.6 49.1h0.01M210.2 51.1h0.01M207.9 60.4h0.01M214.4 48.6h0.01M222.2 46.1h0.01M224.3 47.1h0.01M222 57h0.01" stroke="#3a3aa0" stroke-width="0.6" stroke-linecap="round" opacity="0.5"/><path d="M211 50 L217 47.5 L223.5 47 L223 54 L220 61 L214 65.5 L209 63 L208 56Z" fill="#0c0c86" stroke="#0c0c86" stroke-width="1.2" stroke-linejoin="round" filter="url(#spk2)"/><path d="M185.7 34.7H249.2V75.1" fill="none" stroke="#6e6e6e" stroke-width="0.9"/><path d="M185.7 34.4V75.1H249.5" fill="none" stroke="#111" stroke-width="1.3"/><text x="183.5" y="76.1" font-size="2.9" text-anchor="end" font-family="Liberation Sans" fill="#3a3a3a" transform="rotate(-35 183.5 76.1)">10<tspan font-size="2" dy="-1.1">1</tspan></text><text x="183.5" y="66" font-size="2.9" text-anchor="end" font-family="Liberation Sans" fill="#3a3a3a" transform="rotate(-35 183.5 66)">10<tspan font-size="2" dy="-1.1">2</tspan></text><text x="183.5" y="55.9" font-size="2.9" text-anchor="end" font-family="Liberation Sans" fill="#3a3a3a" transform="rotate(-35 183.5 55.9)">10<tspan font-size="2" dy="-1.1">3</tspan></text><text x="183.5" y="45.8" font-size="2.9" text-anchor="end" font-family="Liberation Sans" fill="#3a3a3a" transform="rotate(-35 183.5 45.8)">10<tspan font-size="2" dy="-1.1">4</tspan></text><text x="183.5" y="35.7" font-size="2.9" text-anchor="end" font-family="Liberation Sans" fill="#3a3a3a" transform="rotate(-35 183.5 35.7)">10<tspan font-size="2" dy="-1.1">5</tspan></text><text x="187.3" y="79.3" font-size="2.9" text-anchor="end" font-family="Liberation Sans" fill="#3a3a3a" transform="rotate(-35 187.3 79.3)">10<tspan font-size="2" dy="-1.1">0</tspan></text><text x="200" y="79.3" font-size="2.9" text-anchor="end" font-family="Liberation Sans" fill="#3a3a3a" transform="rotate(-35 200 79.3)">10<tspan font-size="2" dy="-1.1">1</tspan></text><text x="212.7" y="79.3" font-size="2.9" text-anchor="end" font-family="Liberation Sans" fill="#3a3a3a" transform="rotate(-35 212.7 79.3)">10<tspan font-size="2" dy="-1.1">2</tspan></text><text x="225.4" y="79.3" font-size="2.9" text-anchor="end" font-family="Liberation Sans" fill="#3a3a3a" transform="rotate(-35 225.4 79.3)">10<tspan font-size="2" dy="-1.1">3</tspan></text><text x="238.1" y="79.3" font-size="2.9" text-anchor="end" font-family="Liberation Sans" fill="#3a3a3a" transform="rotate(-35 238.1 79.3)">10<tspan font-size="2" dy="-1.1">4</tspan></text><text x="250.8" y="79.3" font-size="2.9" text-anchor="end" font-family="Liberation Sans" fill="#3a3a3a" transform="rotate(-35 250.8 79.3)">10<tspan font-size="2" dy="-1.1">5</tspan></text><text x="180.5" y="54.9" font-size="4.4" text-anchor="middle" font-family="Liberation Sans" fill="#555" transform="rotate(-90 180.5 54.9)">APC-A</text><text x="217.4" y="83.9" font-size="4.4" text-anchor="middle" font-family="Liberation Sans" fill="#555">PE-A</text><text x="187" y="40.4" font-size="4.5" text-anchor="start" font-family="Liberation Sans" fill="#333" >10.21%</text><text x="236.4" y="40.4" font-size="4.5" text-anchor="start" font-family="Liberation Sans" fill="#333" >25.37%</text><text x="187" y="72.1" font-size="4.5" text-anchor="start" font-family="Liberation Sans" fill="#333" >39.83%</text><text x="236.4" y="72.1" font-size="4.5" text-anchor="start" font-family="Liberation Sans" fill="#333" >16.59%</text><ellipse cx="244.7" cy="39" rx="11.3" ry="6.7" fill="none" stroke="#a82828" stroke-width="1.25"/><ellipse cx="244.6" cy="69.2" rx="11.4" ry="6.5" fill="none" stroke="#a82828" stroke-width="1.25"/><text x="301" y="28.7" font-size="5.6" text-anchor="middle" font-family="Liberation Serif" font-weight="bold" fill="#000" >RPMI8226</text><path d="M272 54.5H326M298.5 54.5V73.2" stroke="#5a5a5a" stroke-width="0.75" fill="none"/><path d="M289.9 65.9h0.01M292.4 54.6h0.01M289.2 68.2h0.01M288.5 62.9h0.01M296.4 57.5h0.01M284.9 59.4h0.01M296.3 59.2h0.01M296 63.7h0.01M289.8 62.7h0.01M293.5 56.6h0.01M282.9 59.8h0.01M293.6 57.2h0.01M298.5 57.1h0.01M293.3 61.3h0.01M295.9 64.2h0.01M290.1 60.1h0.01M289.8 69.7h0.01M293 69.5h0.01M296.5 67.1h0.01M289.6 56.3h0.01M291.3 58.1h0.01M294.3 58.2h0.01M288 64.7h0.01M284.5 67.1h0.01M294.5 65.3h0.01M292.8 60.3h0.01M285.4 66.5h0.01M290.2 66.3h0.01M294.4 56.9h0.01M298.6 67.3h0.01M300.1 64.6h0.01M285.2 57.1h0.01M288.8 67.2h0.01M287.2 61.5h0.01M296.3 55.8h0.01M288.7 58.2h0.01M285.7 63.9h0.01M294.6 68.9h0.01M283.4 64.3h0.01M288.9 54.8h0.01M295.8 60h0.01M298.6 56h0.01M292.3 63.2h0.01M298.1 60.2h0.01M299.9 59.5h0.01M298 59.9h0.01M287.1 67.7h0.01M288.2 56h0.01M286.2 64.6h0.01M294.4 55.2h0.01M300.6 62.5h0.01M294 58.8h0.01M286.5 56.7h0.01M298.4 61.9h0.01M297.1 59.4h0.01M299.9 65.9h0.01M287.8 62.2h0.01M285.9 67h0.01M286.2 58.2h0.01M292.4 57.8h0.01M297 60h0.01M286.2 65.9h0.01M298.9 59.7h0.01M300.1 59.7h0.01M286.3 63.7h0.01M293.4 63.6h0.01M297.1 64.5h0.01M284.4 61.9h0.01M298.1 57.8h0.01M294.2 63.8h0.01M292 64.9h0.01M295.1 65.2h0.01M292.8 54.6h0.01M298 65.9h0.01M286.9 56.8h0.01M299.1 59.9h0.01M292.4 58.6h0.01M287.4 56.1h0.01M292.9 66.8h0.01M298.3 68h0.01M295.7 57h0.01M295.7 60.4h0.01M287.9 57.2h0.01M287.8 68.2h0.01M291 65.2h0.01M285.8 58.8h0.01M289.5 57.5h0.01M292.7 60h0.01M302 62.2h0.01M291.2 58.7h0.01M291.4 59.2h0.01M299.5 66.3h0.01M290.2 61.3h0.01M287.7 66.6h0.01M295.2 65.6h0.01M297.5 65.9h0.01M294.5 59.4h0.01M292.6 63h0.01M295.7 55.3h0.01M298.3 60.4h0.01M296.8 67h0.01M291.1 63.7h0.01M290.3 62h0.01M294.7 56.6h0.01M299.5 67.2h0.01M288.9 66.3h0.01M283.9 59.5h0.01M295.7 57.5h0.01M295 58.8h0.01M291.2 57.1h0.01M289.1 69.3h0.01M293.4 65.9h0.01M295.6 56h0.01M299.3 60.9h0.01M299.6 57.8h0.01M284.3 65.1h0.01M296.5 55.5h0.01M297.2 63.1h0.01M299.2 57.6h0.01M286.7 68.8h0.01" stroke="#4a4aa0" stroke-width="0.7" stroke-linecap="round" opacity="0.45"/><path d="M300 60.8h0.01M299.6 57.3h0.01M299.8 63h0.01M304.3 55.8h0.01M295.4 58.9h0.01M297.2 61.1h0.01M299.4 62.9h0.01M303.1 58.2h0.01M296.7 61.1h0.01M299.5 54.5h0.01M298.4 59.9h0.01M303.7 53.2h0.01M297.8 51.8h0.01M305.4 59.7h0.01M302.9 58.7h0.01M297.3 63.3h0.01M304.3 62.3h0.01M303.9 60.7h0.01M297.4 57.9h0.01M301 51.2h0.01M296.1 57.7h0.01M296 60.3h0.01M301.1 65h0.01M300.6 60.5h0.01M303.2 57.4h0.01M303.7 64.1h0.01M302.4 54.1h0.01M298.8 52.6h0.01M304.5 55.1h0.01M303.2 57.1h0.01M297.9 61.6h0.01M301.2 61.5h0.01M305.5 59.4h0.01M299 59.5h0.01M304.5 61.6h0.01M301.5 59.1h0.01M299.8 59.2h0.01M299.4 55.1h0.01M303.8 58.2h0.01M305.1 59.3h0.01" stroke="#4a4aa0" stroke-width="0.7" stroke-linecap="round" opacity="0.45"/><path d="M286 50 L292 48 L299 52 L294 60 L286 62 L283 56Z" fill="#3a3aa2" stroke="#3a3aa2" stroke-width="1" stroke-linejoin="round" opacity="0.62" filter="url(#b1)"/><path d="M294 41.5 L306 40.5 L303 45 L298 51 L292 58 L288 57 L288 52 L291 46Z" fill="#3a3aa6" stroke="#3a3aa6" stroke-width="5" stroke-linejoin="round" filter="url(#spk1)"/><path d="M305.2 39.5h0.01M301.5 46.9h0.01M301.1 48.5h0.01M296.9 52.4h0.01M302.6 39.3h0.01M288.4 51.1h0.01M301.5 40.3h0.01M296 53.5h0.01M289.9 47.8h0.01M301.3 47.8h0.01M297.3 52.1h0.01M304.5 46.8h0.01M299 49.8h0.01M297 53.4h0.01M288.5 50.7h0.01M300.7 50.7h0.01M298.3 51.6h0.01M301.5 49h0.01M292.3 40h0.01M286.9 51.1h0.01M298.7 50.3h0.01M298.3 51.4h0.01M293.1 57h0.01M300.5 40h0.01M306.3 40.3h0.01M305.6 39.2h0.01M286.7 57.6h0.01M299.1 51.5h0.01M292.9 43.1h0.01M301.7 46.6h0.01M301.3 47.7h0.01M306.9 40.9h0.01M287.3 58.9h0.01M296.9 39.7h0.01M292.5 42.3h0.01M303.7 40.7h0.01M288 56.3h0.01M287.3 53.9h0.01M305.9 40.8h0.01M292.8 43.1h0.01M295 58.7h0.01M287.4 49.5h0.01M295.9 57.3h0.01M294.5 41.1h0.01M296.7 52.6h0.01M300.7 48.3h0.01M287 59h0.01M305.8 40.4h0.01M293.9 56.9h0.01M287 49.8h0.01M303.6 44.7h0.01M291.5 43.9h0.01M289 46.5h0.01M294.2 55.8h0.01M292.9 57.3h0.01M301.7 47.1h0.01M290.7 46h0.01M285.3 59.7h0.01M290.8 45.6h0.01M302 40.3h0.01M294.5 55.2h0.01M287.5 54.4h0.01M303.3 40.4h0.01M306.4 40.6h0.01M306.3 40.4h0.01M287.7 50.1h0.01M304.4 39.4h0.01M295 55.4h0.01M298.2 53.8h0.01M291.2 58.1h0.01M286.9 51.6h0.01M291.9 43.9h0.01M287.6 56.7h0.01M301.3 47h0.01M295.7 54.4h0.01M298.7 40.5h0.01M305.6 41.6h0.01M301.4 48.8h0.01M288.7 48.6h0.01M300.6 48h0.01M287.3 50.1h0.01M294 59.2h0.01M290.2 42.7h0.01M301.3 47.8h0.01M289.8 58h0.01M301.3 40.5h0.01M301.3 48.5h0.01M298 51.3h0.01M293.8 41.7h0.01M301.6 47h0.01M297.7 40.2h0.01M295.2 41.2h0.01M291 60.1h0.01M305.3 42.8h0.01M301.7 40.9h0.01M295.3 54.8h0.01M304.7 42.6h0.01M298.5 51.3h0.01M298.7 50.4h0.01M299.9 40.9h0.01M302.1 46.3h0.01M299.5 37.8h0.01M295.7 57.9h0.01M305 40.6h0.01M297.8 51.9h0.01M290 58.3h0.01M290.5 58.4h0.01M288.9 49.9h0.01M299.4 39.6h0.01M294.6 57.4h0.01M300 51.4h0.01M293.1 40.8h0.01M297.2 52.2h0.01M292.9 57.1h0.01M294.7 40.2h0.01M287.1 53.7h0.01M296.9 52.7h0.01M297.2 52h0.01M288.5 50.9h0.01M286.4 49.7h0.01M292.2 43h0.01M293.3 60.7h0.01M298.1 51.7h0.01M297.1 52.2h0.01M290.4 46.2h0.01M300 40.9h0.01M306.6 42.1h0.01M295.4 54.2h0.01M296.5 53.1h0.01M291.8 58.1h0.01M301.3 48.7h0.01M304.2 39.6h0.01M290.9 45.9h0.01M306 40.5h0.01M294.2 56h0.01M300.7 50h0.01M300.7 40.7h0.01M299 38.9h0.01M291.3 60.3h0.01M297.3 39.8h0.01M292.2 58.2h0.01M300 40.2h0.01M303.5 40.1h0.01M289 47h0.01M293.6 38.2h0.01M286.9 54.4h0.01M287.3 55.9h0.01M298.3 51.4h0.01M302.8 40.2h0.01M301.1 48.6h0.01M289.3 48.6h0.01M302.6 46.4h0.01M294.6 41.1h0.01M291 44.8h0.01M303.4 38.5h0.01M293.1 41.5h0.01M306 40.2h0.01M302.9 45.1h0.01M301 47.5h0.01M296.2 55.3h0.01M287.9 53.4h0.01M304.1 37.4h0.01M306.2 39.7h0.01M288 53.4h0.01M299.2 49.8h0.01M306.1 43.3h0.01M298.7 50.3h0.01M298.4 51.6h0.01M295.9 54.8h0.01M301.2 49.7h0.01M300.7 50.4h0.01M294.3 41.3h0.01M298.7 50.4h0.01M289.7 44.5h0.01M287.3 47.5h0.01M302.9 40.5h0.01M293.8 58.5h0.01M298.4 51.5h0.01M305 42.8h0.01M287.4 56.8h0.01M304.5 43h0.01M294.3 61.1h0.01M298.8 52h0.01M290 47.2h0.01M298.6 40.8h0.01M291.9 41.3h0.01M291.5 58h0.01M289.6 48.5h0.01M289.4 48.2h0.01M293 57h0.01M299.7 40.6h0.01M306.2 41h0.01M301.5 38.5h0.01M302.7 39.1h0.01M287.6 56.4h0.01M305.3 41.8h0.01M296.8 41h0.01M303.7 40.1h0.01M304.9 42.2h0.01M289.8 46.8h0.01M293.6 40.7h0.01M304.3 40.1h0.01M292.3 44h0.01M295 40.4h0.01M299.8 39.4h0.01M291.6 57.9h0.01M291.3 43.1h0.01M286.3 55.6h0.01M301.5 48.6h0.01M304.9 38.6h0.01M303.5 45.9h0.01M301 52h0.01M295.9 55.7h0.01M302.6 39.3h0.01M289.6 46.9h0.01M290.1 58.4h0.01M289.9 46.6h0.01M287.7 55.5h0.01M304.5 39.9h0.01M288.2 50.5h0.01M298.8 54.1h0.01M292.3 57.8h0.01M294.7 54.9h0.01M287.2 53.8h0.01M305.5 40.4h0.01M303.3 44.6h0.01M303.2 44.7h0.01M292.9 41h0.01M287.8 52.7h0.01M287.6 54.6h0.01M288.7 47h0.01M300.3 48.2h0.01M288.5 49.7h0.01M303 40.6h0.01M304.5 43.6h0.01M292.1 44.1h0.01M297.2 41.1h0.01M286.7 54h0.01M289.7 57.4h0.01M288.5 57.1h0.01M287.9 54.3h0.01M289.8 58.2h0.01M287.2 53.6h0.01M287.6 51.2h0.01M295.9 54h0.01M303.1 40.7h0.01M289.8 47.3h0.01M305.5 40.3h0.01M293.3 57h0.01M295.5 54.3h0.01M287.7 52.4h0.01M287.3 54.6h0.01M290.8 44.5h0.01M297.4 40.8h0.01M300.3 41h0.01M293 56.9h0.01M286.7 55.1h0.01M302.1 49.1h0.01M302.8 40.6h0.01M289.3 59h0.01" stroke="#3a3aa0" stroke-width="0.6" stroke-linecap="round" opacity="0.5"/><path d="M294 41.5 L306 40.5 L303 45 L298 51 L292 58 L288 57 L288 52 L291 46Z" fill="#0c0c86" stroke="#0c0c86" stroke-width="1.2" stroke-linejoin="round" filter="url(#spk2)"/><path d="M272 34.8H333.5V73.2" fill="none" stroke="#6e6e6e" stroke-width="0.9"/><path d="M272 34.5V73.2H333.8" fill="none" stroke="#111" stroke-width="1.3"/><text x="269.8" y="74.2" font-size="2.9" text-anchor="end" font-family="Liberation Sans" fill="#3a3a3a" transform="rotate(-35 269.8 74.2)">10<tspan font-size="2" dy="-1.1">1</tspan></text><text x="269.8" y="64.6" font-size="2.9" text-anchor="end" font-family="Liberation Sans" fill="#3a3a3a" transform="rotate(-35 269.8 64.6)">10<tspan font-size="2" dy="-1.1">2</tspan></text><text x="269.8" y="55" font-size="2.9" text-anchor="end" font-family="Liberation Sans" fill="#3a3a3a" transform="rotate(-35 269.8 55)">10<tspan font-size="2" dy="-1.1">3</tspan></text><text x="269.8" y="45.4" font-size="2.9" text-anchor="end" font-family="Liberation Sans" fill="#3a3a3a" transform="rotate(-35 269.8 45.4)">10<tspan font-size="2" dy="-1.1">4</tspan></text><text x="269.8" y="35.8" font-size="2.9" text-anchor="end" font-family="Liberation Sans" fill="#3a3a3a" transform="rotate(-35 269.8 35.8)">10<tspan font-size="2" dy="-1.1">5</tspan></text><text x="273.6" y="77.4" font-size="2.9" text-anchor="end" font-family="Liberation Sans" fill="#3a3a3a" transform="rotate(-35 273.6 77.4)">10<tspan font-size="2" dy="-1.1">0</tspan></text><text x="285.9" y="77.4" font-size="2.9" text-anchor="end" font-family="Liberation Sans" fill="#3a3a3a" transform="rotate(-35 285.9 77.4)">10<tspan font-size="2" dy="-1.1">1</tspan></text><text x="298.2" y="77.4" font-size="2.9" text-anchor="end" font-family="Liberation Sans" fill="#3a3a3a" transform="rotate(-35 298.2 77.4)">10<tspan font-size="2" dy="-1.1">2</tspan></text><text x="310.5" y="77.4" font-size="2.9" text-anchor="end" font-family="Liberation Sans" fill="#3a3a3a" transform="rotate(-35 310.5 77.4)">10<tspan font-size="2" dy="-1.1">3</tspan></text><text x="322.8" y="77.4" font-size="2.9" text-anchor="end" font-family="Liberation Sans" fill="#3a3a3a" transform="rotate(-35 322.8 77.4)">10<tspan font-size="2" dy="-1.1">4</tspan></text><text x="335.1" y="77.4" font-size="2.9" text-anchor="end" font-family="Liberation Sans" fill="#3a3a3a" transform="rotate(-35 335.1 77.4)">10<tspan font-size="2" dy="-1.1">5</tspan></text><text x="266.8" y="54" font-size="4.4" text-anchor="middle" font-family="Liberation Sans" fill="#555" transform="rotate(-90 266.8 54)">APC-A</text><text x="302.8" y="82" font-size="4.4" text-anchor="middle" font-family="Liberation Sans" fill="#555">PE-A</text><text x="273.3" y="40.5" font-size="4.5" text-anchor="start" font-family="Liberation Sans" fill="#333" >58.22%</text><text x="320.7" y="40.5" font-size="4.5" text-anchor="start" font-family="Liberation Sans" fill="#333" >31.61%</text><text x="273.3" y="70.2" font-size="4.5" text-anchor="start" font-family="Liberation Sans" fill="#333" >10.64%</text><text x="320.7" y="70.2" font-size="4.5" text-anchor="start" font-family="Liberation Sans" fill="#333" >1.34%</text><ellipse cx="324.8" cy="39" rx="13.5" ry="6.7" fill="none" stroke="#a82828" stroke-width="1.25"/><text x="390" y="28.7" font-size="5.6" text-anchor="middle" font-family="Liberation Serif" font-weight="bold" fill="#000" >MM1S</text><path d="M354.5 57.2H412.5M378.3 57.2V73.5" stroke="#5a5a5a" stroke-width="0.75" fill="none"/><path d="M378.3 65.7h0.01M379.9 62.2h0.01M376.2 63.9h0.01M377.1 62.8h0.01M371.5 56.2h0.01M369 60.3h0.01M372.9 56.3h0.01M376.6 56.4h0.01M376.6 57h0.01M375.3 55.3h0.01M372 66.4h0.01M375.6 61.9h0.01M378 57.2h0.01M371.6 60.4h0.01M368.2 60.9h0.01M379.3 65.3h0.01M374.8 60.2h0.01M369.1 59.2h0.01M373.7 61h0.01M372.4 66.5h0.01M373.6 59.8h0.01M375.4 68.4h0.01M369.2 64.2h0.01M375.5 62.2h0.01M379.3 59.1h0.01M377.3 66h0.01M371.9 57.4h0.01M368.9 59.1h0.01M377.1 62.7h0.01M372.4 60.5h0.01M376.5 60.6h0.01M371.5 59h0.01M375.8 60.6h0.01M374.5 57.8h0.01M373.4 63.4h0.01M373.2 56.9h0.01M374.9 57.1h0.01M375.2 66.3h0.01M377.3 56.6h0.01M376.2 57h0.01M372.2 64.5h0.01M374.2 67.7h0.01M370.8 66.7h0.01M373.4 55.9h0.01M371.3 64.6h0.01M369.4 64h0.01M370.6 57.6h0.01M374.7 60.8h0.01M375.2 67.2h0.01M378.2 63.6h0.01M374.4 59.4h0.01M379.3 59.3h0.01M374.8 57.7h0.01M369.2 61.9h0.01M374.4 62.8h0.01M377.2 65.6h0.01M371.3 61.5h0.01M375.1 64.6h0.01M369.9 66.3h0.01M373 64.4h0.01M377.7 58.6h0.01M374.4 62.7h0.01M376.5 64.6h0.01M378.5 61.2h0.01M370.4 65.7h0.01M376.3 55.9h0.01M373.6 65.8h0.01M379.2 60.7h0.01M371 66.9h0.01M376.6 66.6h0.01" stroke="#4a4aa0" stroke-width="0.7" stroke-linecap="round" opacity="0.45"/><path d="M366.9 48.9h0.01M367.7 41.4h0.01M366.4 51.7h0.01M370.9 48.9h0.01M368.2 41.5h0.01M365.2 50.5h0.01M362.6 43.3h0.01M368.6 49.5h0.01M360.5 46.8h0.01M366 51.3h0.01M366.2 49.3h0.01M365.4 45.9h0.01M369.9 45.1h0.01M361.8 49.8h0.01M371.6 47.4h0.01M361.8 44.1h0.01M363.7 46.7h0.01M370.7 46.8h0.01M364 47h0.01M367.7 46.2h0.01M362.9 45.4h0.01M361.3 44.8h0.01M365.1 43.7h0.01M369 46h0.01M365.6 51.3h0.01M365.6 50.3h0.01M366.3 49.6h0.01M367.5 43.9h0.01M364.8 51.2h0.01M370.6 44.2h0.01" stroke="#4a4aa0" stroke-width="0.7" stroke-linecap="round" opacity="0.45"/><path d="M368 48 L379 49 L377 60 L376 68 L372 68 L370 58Z" fill="#3a3aa2" stroke="#3a3aa2" stroke-width="1" stroke-linejoin="round" opacity="0.62" filter="url(#b1)"/><path d="M363 43 L372 40.5 L383 40.3 L380 49 L374 51.5 L365 47.5Z" fill="#3a3aa6" stroke="#3a3aa6" stroke-width="5" stroke-linejoin="round" filter="url(#spk1)"/><path d="M366.5 49.4h0.01M365.1 48.6h0.01M373.7 39.9h0.01M364.6 41.5h0.01M381.1 46.6h0.01M371.4 52h0.01M377.8 50.3h0.01M380.7 49.8h0.01M368.1 41.3h0.01M365.3 47.8h0.01M369.9 52.3h0.01M383.5 45.2h0.01M375.3 51h0.01M382.8 51.1h0.01M369.6 41.1h0.01M368.5 50.5h0.01M367.8 41.7h0.01M368.1 49.7h0.01M380.9 47.7h0.01M383.3 38.8h0.01M373.4 39.2h0.01M384.1 42.4h0.01M382.4 39.3h0.01M381.7 46.4h0.01M383.5 41.6h0.01M376.4 50.8h0.01M375.4 39.2h0.01M369.1 39.6h0.01M369.3 49.5h0.01M376 52.7h0.01M373.5 51.4h0.01M378 50h0.01M382.1 38.2h0.01M369.5 40.6h0.01M367 48.4h0.01M370.6 50.5h0.01M370.4 50.4h0.01M379 38.7h0.01M366.8 40.5h0.01M361.7 44.7h0.01M378.8 39.5h0.01M381 37.5h0.01M363.7 46.2h0.01M378.9 50.2h0.01M384.9 41.1h0.01M376.5 39.1h0.01M367.9 49.2h0.01M378.9 39.8h0.01M374.5 40.2h0.01M382.9 42.6h0.01M376.6 50.8h0.01M381.5 44.9h0.01M374.4 52.8h0.01M362.1 42.3h0.01M381.9 43.5h0.01M381.6 48.6h0.01M374.9 40.3h0.01M383.5 43.1h0.01M369.2 40.4h0.01M367.1 41.1h0.01M378.7 50.9h0.01M383.3 41.1h0.01M362.6 42.6h0.01M379.2 39.8h0.01M368 49.6h0.01M379.3 39.1h0.01M364.5 47.7h0.01M368.8 41.1h0.01M380 49.6h0.01M373.7 52.3h0.01M373.1 39.9h0.01M368.4 50.1h0.01M377.6 37.3h0.01M370.5 40.5h0.01M370.6 40.5h0.01M370.7 52.3h0.01M366.4 48.5h0.01M361.1 46.2h0.01M383.3 44h0.01M361.9 43.9h0.01M364.2 41.9h0.01M381.4 48.1h0.01M364.1 45.9h0.01M367.2 41.1h0.01M367.5 49.8h0.01M381.9 44.5h0.01M372.3 53.1h0.01M365 48.4h0.01M373.5 52.5h0.01M364.5 41.3h0.01M364.1 50.6h0.01M377.9 52.6h0.01M382.9 45.9h0.01M381.8 45.2h0.01M378.5 40.1h0.01M363.4 44.8h0.01M363.9 45.3h0.01M363.6 45.3h0.01M375.7 52.1h0.01M383.9 41.4h0.01M373.9 40.2h0.01M380.2 38.7h0.01M371.8 40.5h0.01M362.8 45.1h0.01M362.8 42.6h0.01M363.6 44.3h0.01M367.5 48.9h0.01M384.4 42.3h0.01M380.9 46.5h0.01M379.3 49.9h0.01M381.2 38.3h0.01M381.3 38.7h0.01M383.1 43.9h0.01M376.5 39.3h0.01M374.2 40.3h0.01M369.7 51.1h0.01M367.5 49.1h0.01M371.9 51.3h0.01M364.5 42.5h0.01M364.5 42h0.01M382.3 45.4h0.01M373.6 40.3h0.01M369.1 49.7h0.01M367.8 38h0.01M373.9 40.5h0.01M373.8 39.5h0.01M372 51.7h0.01M374.1 51.9h0.01M364.9 47.5h0.01M369.2 40.6h0.01M378.6 49.7h0.01M365.4 49h0.01M368.1 49h0.01M369.9 50h0.01M373.1 39.4h0.01M372.8 38.2h0.01M376.5 51.3h0.01M375.7 50.9h0.01M379.4 39.2h0.01M376.3 38.9h0.01M367.5 40.7h0.01M375.4 39.3h0.01M364.2 40.8h0.01M380.9 39.6h0.01M364.1 42.3h0.01M373 40.3h0.01M371.7 40.2h0.01M381.2 47.9h0.01M372.3 40.1h0.01M376.4 51.5h0.01M376.5 50.5h0.01M379.9 39.8h0.01M364.9 40.5h0.01M378.2 39.2h0.01M378.8 50.7h0.01M363.5 41.9h0.01M368.8 41.3h0.01M366.9 40.5h0.01M376.4 50.8h0.01M381.5 47.1h0.01M367.9 49.9h0.01M380.3 40.3h0.01M379.5 40.2h0.01M375.7 39.7h0.01M361.1 40.1h0.01M365.2 48.9h0.01M373.6 40h0.01M374.2 39.8h0.01M377.3 40.1h0.01M363.2 44.8h0.01M370.2 40.9h0.01M364.2 47.2h0.01M363.1 44.1h0.01M368.1 49.1h0.01M376.4 39.8h0.01M371.3 50.3h0.01M362.6 42.9h0.01M365.4 42.2h0.01M371.6 40.2h0.01M363.7 46.7h0.01M382.9 40.7h0.01M378.4 40.1h0.01M382.3 39h0.01M374.9 51.1h0.01M375.1 40.3h0.01M375.7 51.1h0.01M366.2 48.8h0.01M368.3 41.2h0.01M374.2 39.8h0.01M376.8 40.1h0.01M381.5 46.6h0.01M382.2 44.2h0.01M383.3 39h0.01M379.6 39.6h0.01M380.2 38.6h0.01M374.7 40.2h0.01M362.7 42.5h0.01M371.6 50.5h0.01M374.3 51.5h0.01M376.7 51.7h0.01M376.7 38.9h0.01M369.1 40.1h0.01M379.5 50h0.01M383.9 41.1h0.01M377.6 50.2h0.01M373.6 39.7h0.01M378.3 50.4h0.01M371.3 51.7h0.01M383 41.7h0.01M370.4 40.4h0.01M382.8 40.3h0.01M379 39.6h0.01M362.4 42.8h0.01M380.9 46.8h0.01M362 42.3h0.01M382 39.8h0.01M363.7 46.6h0.01M369.2 40.6h0.01M377 50.9h0.01M381.8 47.9h0.01M382.7 48.1h0.01M382.3 40.2h0.01M378.5 50.8h0.01M376 40.3h0.01M363.3 44h0.01M375.1 40.2h0.01M383.7 45.3h0.01M380 49.6h0.01M366.1 48.4h0.01M377.7 40h0.01M384.8 45.4h0.01M368.1 48.9h0.01M380.8 46.7h0.01M369.1 49.6h0.01M367.9 50.2h0.01M364.4 42.5h0.01M380.6 49h0.01M376 53.7h0.01M378.9 50.9h0.01M377.4 50.2h0.01M383.8 37.7h0.01M362.1 44.3h0.01M375.7 52h0.01M364 42.3h0.01M380.3 38.7h0.01M363.6 46.9h0.01M377 50.7h0.01M383 40.1h0.01M379.6 39.7h0.01M381.2 49.4h0.01M376.3 39.8h0.01M368.2 40.9h0.01M380.5 47.8h0.01M369.3 49.8h0.01M374 51.6h0.01M362.5 45.3h0.01M363.7 44.5h0.01M376.4 40.3h0.01M368.9 40.3h0.01M369.5 51.3h0.01" stroke="#3a3aa0" stroke-width="0.6" stroke-linecap="round" opacity="0.5"/><path d="M363 43 L372 40.5 L383 40.3 L380 49 L374 51.5 L365 47.5Z" fill="#0c0c86" stroke="#0c0c86" stroke-width="1.2" stroke-linejoin="round" filter="url(#spk2)"/><path d="M354.5 34.5H419.5V73.5" fill="none" stroke="#6e6e6e" stroke-width="0.9"/><path d="M354.5 34.2V73.5H419.8" fill="none" stroke="#111" stroke-width="1.3"/><text x="352.3" y="74.5" font-size="2.9" text-anchor="end" font-family="Liberation Sans" fill="#3a3a3a" transform="rotate(-35 352.3 74.5)">10<tspan font-size="2" dy="-1.1">1</tspan></text><text x="352.3" y="64.8" font-size="2.9" text-anchor="end" font-family="Liberation Sans" fill="#3a3a3a" transform="rotate(-35 352.3 64.8)">10<tspan font-size="2" dy="-1.1">2</tspan></text><text x="352.3" y="55" font-size="2.9" text-anchor="end" font-family="Liberation Sans" fill="#3a3a3a" transform="rotate(-35 352.3 55)">10<tspan font-size="2" dy="-1.1">3</tspan></text><text x="352.3" y="45.2" font-size="2.9" text-anchor="end" font-family="Liberation Sans" fill="#3a3a3a" transform="rotate(-35 352.3 45.2)">10<tspan font-size="2" dy="-1.1">4</tspan></text><text x="352.3" y="35.5" font-size="2.9" text-anchor="end" font-family="Liberation Sans" fill="#3a3a3a" transform="rotate(-35 352.3 35.5)">10<tspan font-size="2" dy="-1.1">5</tspan></text><text x="356.1" y="77.7" font-size="2.9" text-anchor="end" font-family="Liberation Sans" fill="#3a3a3a" transform="rotate(-35 356.1 77.7)">10<tspan font-size="2" dy="-1.1">0</tspan></text><text x="369.1" y="77.7" font-size="2.9" text-anchor="end" font-family="Liberation Sans" fill="#3a3a3a" transform="rotate(-35 369.1 77.7)">10<tspan font-size="2" dy="-1.1">1</tspan></text><text x="382.1" y="77.7" font-size="2.9" text-anchor="end" font-family="Liberation Sans" fill="#3a3a3a" transform="rotate(-35 382.1 77.7)">10<tspan font-size="2" dy="-1.1">2</tspan></text><text x="395.1" y="77.7" font-size="2.9" text-anchor="end" font-family="Liberation Sans" fill="#3a3a3a" transform="rotate(-35 395.1 77.7)">10<tspan font-size="2" dy="-1.1">3</tspan></text><text x="408.1" y="77.7" font-size="2.9" text-anchor="end" font-family="Liberation Sans" fill="#3a3a3a" transform="rotate(-35 408.1 77.7)">10<tspan font-size="2" dy="-1.1">4</tspan></text><text x="421.1" y="77.7" font-size="2.9" text-anchor="end" font-family="Liberation Sans" fill="#3a3a3a" transform="rotate(-35 421.1 77.7)">10<tspan font-size="2" dy="-1.1">5</tspan></text><text x="349.3" y="54" font-size="4.4" text-anchor="middle" font-family="Liberation Sans" fill="#555" transform="rotate(-90 349.3 54)">APC-A</text><text x="387" y="82.3" font-size="4.4" text-anchor="middle" font-family="Liberation Sans" fill="#555">PE-A</text><text x="355.8" y="40.2" font-size="4.5" text-anchor="start" font-family="Liberation Sans" fill="#333" >84.79%</text><text x="406.7" y="40.2" font-size="4.5" text-anchor="start" font-family="Liberation Sans" fill="#333" >9.12%</text><text x="355.8" y="70.5" font-size="4.5" text-anchor="start" font-family="Liberation Sans" fill="#333" >5.71%</text><text x="406.7" y="70.5" font-size="4.5" text-anchor="start" font-family="Liberation Sans" fill="#333" >0.38%</text><ellipse cx="411.6" cy="38.8" rx="13.4" ry="6.5" fill="none" stroke="#a82828" stroke-width="1.25"/><text x="467" y="29" font-size="5.6" text-anchor="middle" font-family="Liberation Serif" font-weight="bold" fill="#000" >MM1R</text><path d="M436.8 58.6H492.5M466.3 58.6V73.5" stroke="#5a5a5a" stroke-width="0.75" fill="none"/><path d="M455.3 65.9h0.01M453.5 58.1h0.01M451.9 58h0.01M454.6 63.6h0.01M458.6 60.2h0.01M452.1 65.2h0.01M454.1 65.2h0.01M458.7 63.9h0.01M452.2 67.7h0.01M455.5 60.4h0.01M454.1 68.5h0.01M453.5 63.9h0.01M451.2 59.5h0.01M457.1 63.6h0.01M453.7 58.8h0.01M452.8 62.4h0.01M455.3 62.4h0.01M454.1 68h0.01M458.6 64.4h0.01M454.8 60.9h0.01M455.2 66.5h0.01M454.8 57.3h0.01M450.8 65.4h0.01M458.2 63.6h0.01M456.8 63.7h0.01M454.4 60.9h0.01M452.8 61h0.01M452.7 58.8h0.01M451.3 61h0.01M456.7 67.6h0.01M457.8 62.2h0.01M451.9 61.3h0.01M450.3 59.7h0.01M455 56.9h0.01M458.1 57.5h0.01M457.1 55.9h0.01M453.3 62.3h0.01M455.8 60.4h0.01M454.2 60.2h0.01M452.1 65.6h0.01M450.5 64.1h0.01M452.1 66h0.01M456.3 55.3h0.01M459.6 63.8h0.01M452.5 55.9h0.01M453.1 60.9h0.01M451.1 61.4h0.01M458.3 58.6h0.01M451.3 60.8h0.01M452.7 56.3h0.01M456 61h0.01M458.5 63.3h0.01M453.5 61.3h0.01M459.1 65.9h0.01M456.1 63h0.01M457.7 67.6h0.01M455.4 55.7h0.01M454.4 66.8h0.01M455 55.8h0.01M455.3 68h0.01M454.8 55.4h0.01M453.6 56.6h0.01M452.1 60.6h0.01M458 58.5h0.01M454.7 55.5h0.01M457.9 60.1h0.01M458.5 63h0.01M454.8 57.3h0.01M457.7 57.4h0.01M451.5 59.3h0.01" stroke="#4a4aa0" stroke-width="0.7" stroke-linecap="round" opacity="0.45"/><path d="M451.2 49.8h0.01M447.1 46.2h0.01M448.7 55.1h0.01M441.5 49.2h0.01M448.9 46.6h0.01M447.7 48.4h0.01M445.8 51.4h0.01M443.8 49.9h0.01M450.5 51.9h0.01M445.3 54.6h0.01M445.9 53.7h0.01M446.8 46.6h0.01M447.5 48.5h0.01M442.5 51.1h0.01M447.1 44.9h0.01M449.5 50.2h0.01M442.9 50.8h0.01M449.5 49.9h0.01M448.6 45.1h0.01M441.4 47.4h0.01M444.8 54.4h0.01M448.1 45.9h0.01M448.8 48.8h0.01M445.4 50.3h0.01M446.8 45.4h0.01M449.7 50.8h0.01M444.3 45.5h0.01M450.8 52.7h0.01M445.4 53.1h0.01M446.7 54.7h0.01M442.9 50.3h0.01M445 50.5h0.01M444.7 55.8h0.01M440.5 50.4h0.01M448.5 45.6h0.01M447.9 45.6h0.01M446.5 48.9h0.01M444.6 54.6h0.01M444.6 46h0.01M444.6 49.5h0.01" stroke="#4a4aa0" stroke-width="0.7" stroke-linecap="round" opacity="0.45"/><path d="M445 44 L452 50 L460 52 L459 60 L457 68 L453 64 L449 55Z" fill="#3a3aa2" stroke="#3a3aa2" stroke-width="1" stroke-linejoin="round" opacity="0.62" filter="url(#b1)"/><path d="M442 43.8 L464.3 41.7 L462.3 47.8 L459 54.5 L453 53.2 L448 47.8Z" fill="#3a3aa6" stroke="#3a3aa6" stroke-width="5" stroke-linejoin="round" filter="url(#spk1)"/><path d="M461.7 49h0.01M451.7 53.8h0.01M463.6 41.4h0.01M459.8 53.6h0.01M462.5 41.4h0.01M454.4 57.8h0.01M462.4 48.4h0.01M455.5 41.6h0.01M441 42.6h0.01M464.6 42.8h0.01M464.2 42.4h0.01M442.8 41.8h0.01M455.7 41.1h0.01M454 53.5h0.01M463.5 41.3h0.01M457.5 42.3h0.01M466 50.4h0.01M448.8 51.1h0.01M453.1 41.5h0.01M455.8 40.4h0.01M463.8 44.7h0.01M464.2 47.4h0.01M444.3 39.2h0.01M463.2 48.3h0.01M446.1 43.3h0.01M446.4 47.3h0.01M464.2 41.1h0.01M442.9 43.2h0.01M449.3 43.1h0.01M462.6 47.7h0.01M460.2 41.3h0.01M449 50.5h0.01M448.1 47.9h0.01M451.9 42.1h0.01M451.2 51.5h0.01M454.1 53.7h0.01M443.9 49.4h0.01M456.9 58.2h0.01M453.9 54.1h0.01M459.9 41.9h0.01M452.6 41.7h0.01M464.3 40.2h0.01M441.3 43.1h0.01M454.7 42.2h0.01M449.2 42h0.01M463 41h0.01M445.6 46.4h0.01M464.6 45.3h0.01M442.7 46.6h0.01M465.7 41.9h0.01M444.6 42.5h0.01M451.1 51.5h0.01M459.8 41h0.01M453.9 53.5h0.01M462.2 48.4h0.01M456.8 41.9h0.01M460.3 54.6h0.01M443.8 46.3h0.01M464.2 41.5h0.01M460.3 52.1h0.01M460.4 40.5h0.01M463.3 41h0.01M441.1 43.3h0.01M453.1 53.6h0.01M463.1 46.1h0.01M453.8 41.7h0.01M450.2 51.7h0.01M455.6 42.3h0.01M449.8 41.9h0.01M455.9 42h0.01M463.8 46.1h0.01M463 46.1h0.01M443.1 42.2h0.01M448.9 42.5h0.01M459.4 54.7h0.01M462.5 47.8h0.01M446.9 42.7h0.01M458.3 40.8h0.01M463.2 45.2h0.01M457.8 40.9h0.01M462.1 51h0.01M447.9 41.1h0.01M453.4 41.2h0.01M462.1 40.8h0.01M456.6 54.9h0.01M456.5 54h0.01M454.8 42.6h0.01M459.7 41.4h0.01M461.2 57.3h0.01M441.4 44h0.01M467.3 42.1h0.01M463.4 41.3h0.01M456.1 42h0.01M461.9 48.9h0.01M447.2 42.7h0.01M461.8 40.4h0.01M442.6 42.6h0.01M452.4 42.8h0.01M448.9 50.8h0.01M464.1 42.6h0.01M466.2 42.5h0.01M461.6 51h0.01M464.1 43.4h0.01M455.8 41.4h0.01M463.9 45.5h0.01M453.6 42.5h0.01M463.2 46.2h0.01M446.8 48.5h0.01M446.4 42.5h0.01M445.2 42.2h0.01M452.6 53.1h0.01M459.3 41.9h0.01M450.7 41h0.01M447 43.3h0.01M448.9 40.3h0.01M440 43.2h0.01M440.7 43.3h0.01M446 46.8h0.01M448 48.4h0.01M444.3 46h0.01M443.3 44.7h0.01M457.7 55.2h0.01M450.4 50.7h0.01M464.3 42.5h0.01M441 44.2h0.01M459.3 54h0.01M445.9 42.4h0.01M451.3 52.1h0.01M464.7 43.8h0.01M446.6 47.5h0.01M450 50.1h0.01M463.9 49.2h0.01M461.5 51.4h0.01M452.1 52.3h0.01M459.4 55.4h0.01M457.3 54.3h0.01M445 46.2h0.01M464.1 42.3h0.01M441.5 45.7h0.01M445.5 42.3h0.01M464.7 43.6h0.01M456.3 55.4h0.01M442 43.5h0.01M461.4 52.8h0.01M461.8 41.8h0.01M453.2 54.3h0.01M453 42.5h0.01M452.3 54.4h0.01M465.1 46h0.01M460.3 52.3h0.01M453.7 42.4h0.01M462.1 48.2h0.01M442.9 46.3h0.01M453.8 42h0.01M444.1 45.9h0.01M464.3 49h0.01M452.8 53.9h0.01M461.6 41.5h0.01M450.9 51.6h0.01M451.2 51.5h0.01M449.4 41h0.01M445.8 46.5h0.01M462.4 49.5h0.01M445.9 42.5h0.01M462.2 48.1h0.01M461 52.1h0.01M455.1 54h0.01M464.3 43.8h0.01M464.1 41.2h0.01M462.5 47.2h0.01M452.2 52.7h0.01M455.8 55.6h0.01M452.1 42.1h0.01M445.6 47.9h0.01M452.8 53.6h0.01M443.7 44.9h0.01M449.4 40.4h0.01M466.4 41.1h0.01M440.4 43.4h0.01M465.8 42.6h0.01M456.4 55.4h0.01M464 43.2h0.01M463 40.9h0.01M449.9 42.5h0.01M462 49.3h0.01M451.9 53.5h0.01M461.5 51.8h0.01M463.1 46.2h0.01M464.2 43.8h0.01M448.2 49.7h0.01M447.4 47.6h0.01M456.7 41.8h0.01M457.4 54.4h0.01M445.7 42.6h0.01M464 40.8h0.01M444.5 46.1h0.01M446.5 42.6h0.01M463.7 43.8h0.01M448.4 48.9h0.01M443 41.2h0.01M459.2 55h0.01M463.3 47.5h0.01M465.1 49h0.01M460 54.4h0.01M453.5 42.1h0.01M455.6 54h0.01M450 49.9h0.01M452.5 42h0.01M455.7 54h0.01M444.1 43.2h0.01M443.3 45.4h0.01M448.3 41h0.01M459.8 55.2h0.01M453.4 41.7h0.01M453.8 42.7h0.01M458.3 42.2h0.01M464.2 43.5h0.01M464.3 44.1h0.01M445.5 42.6h0.01M454.7 53.7h0.01M462.4 39.5h0.01M462.5 41.8h0.01M452.9 42.3h0.01M441.8 45.1h0.01M448.4 48.7h0.01M464.5 42h0.01M450.9 41.5h0.01M448.7 50.6h0.01M456.4 54.8h0.01M446.6 41.8h0.01M445.4 43.1h0.01M445 42.8h0.01M442.4 44.4h0.01M458.3 41.2h0.01M442.7 45.3h0.01M461.7 50.2h0.01M460 41.9h0.01M461.7 49.6h0.01M462.4 48.2h0.01M447.5 47.7h0.01M444.5 43.4h0.01M444.7 43.4h0.01M445.6 43.3h0.01M465 44.6h0.01M460.5 51.7h0.01M457.7 55.7h0.01M454.3 40.4h0.01M460.2 41.9h0.01M455.7 56.2h0.01M463.7 45h0.01M449.5 52.5h0.01M451.6 53h0.01M465 47.8h0.01M464.9 40.3h0.01M457.2 54.4h0.01M456 41.7h0.01M447.3 47.7h0.01M452.7 41.9h0.01M439.8 42.3h0.01M443 45.2h0.01" stroke="#3a3aa0" stroke-width="0.6" stroke-linecap="round" opacity="0.5"/><path d="M442 43.8 L464.3 41.7 L462.3 47.8 L459 54.5 L453 53.2 L448 47.8Z" fill="#0c0c86" stroke="#0c0c86" stroke-width="1.2" stroke-linejoin="round" filter="url(#spk2)"/><path d="M436.8 35.6H499.5V73.5" fill="none" stroke="#6e6e6e" stroke-width="0.9"/><path d="M436.8 35.3V73.5H499.8" fill="none" stroke="#111" stroke-width="1.3"/><text x="434.6" y="74.5" font-size="2.9" text-anchor="end" font-family="Liberation Sans" fill="#3a3a3a" transform="rotate(-35 434.6 74.5)">10<tspan font-size="2" dy="-1.1">1</tspan></text><text x="434.6" y="65" font-size="2.9" text-anchor="end" font-family="Liberation Sans" fill="#3a3a3a" transform="rotate(-35 434.6 65)">10<tspan font-size="2" dy="-1.1">2</tspan></text><text x="434.6" y="55.5" font-size="2.9" text-anchor="end" font-family="Liberation Sans" fill="#3a3a3a" transform="rotate(-35 434.6 55.5)">10<tspan font-size="2" dy="-1.1">3</tspan></text><text x="434.6" y="46.1" font-size="2.9" text-anchor="end" font-family="Liberation Sans" fill="#3a3a3a" transform="rotate(-35 434.6 46.1)">10<tspan font-size="2" dy="-1.1">4</tspan></text><text x="434.6" y="36.6" font-size="2.9" text-anchor="end" font-family="Liberation Sans" fill="#3a3a3a" transform="rotate(-35 434.6 36.6)">10<tspan font-size="2" dy="-1.1">5</tspan></text><text x="438.4" y="77.7" font-size="2.9" text-anchor="end" font-family="Liberation Sans" fill="#3a3a3a" transform="rotate(-35 438.4 77.7)">10<tspan font-size="2" dy="-1.1">0</tspan></text><text x="450.9" y="77.7" font-size="2.9" text-anchor="end" font-family="Liberation Sans" fill="#3a3a3a" transform="rotate(-35 450.9 77.7)">10<tspan font-size="2" dy="-1.1">1</tspan></text><text x="463.5" y="77.7" font-size="2.9" text-anchor="end" font-family="Liberation Sans" fill="#3a3a3a" transform="rotate(-35 463.5 77.7)">10<tspan font-size="2" dy="-1.1">2</tspan></text><text x="476" y="77.7" font-size="2.9" text-anchor="end" font-family="Liberation Sans" fill="#3a3a3a" transform="rotate(-35 476 77.7)">10<tspan font-size="2" dy="-1.1">3</tspan></text><text x="488.6" y="77.7" font-size="2.9" text-anchor="end" font-family="Liberation Sans" fill="#3a3a3a" transform="rotate(-35 488.6 77.7)">10<tspan font-size="2" dy="-1.1">4</tspan></text><text x="501.1" y="77.7" font-size="2.9" text-anchor="end" font-family="Liberation Sans" fill="#3a3a3a" transform="rotate(-35 501.1 77.7)">10<tspan font-size="2" dy="-1.1">5</tspan></text><text x="431.6" y="54.5" font-size="4.4" text-anchor="middle" font-family="Liberation Sans" fill="#555" transform="rotate(-90 431.6 54.5)">APC-A</text><text x="468.1" y="82.3" font-size="4.4" text-anchor="middle" font-family="Liberation Sans" fill="#555">PE-A</text><text x="438.1" y="41.3" font-size="4.5" text-anchor="start" font-family="Liberation Sans" fill="#333" >90.26%</text><text x="486.7" y="41.3" font-size="4.5" text-anchor="start" font-family="Liberation Sans" fill="#333" >4.27%</text><text x="438.1" y="70.5" font-size="4.5" text-anchor="start" font-family="Liberation Sans" fill="#333" >5.42%</text><text x="486.7" y="70.5" font-size="4.5" text-anchor="start" font-family="Liberation Sans" fill="#333" >0.02%</text><ellipse cx="489.4" cy="39.2" rx="13.3" ry="6.5" fill="none" stroke="#a82828" stroke-width="1.25"/><text x="58.8" y="105.7" font-size="5.6" text-anchor="middle" font-family="Liberation Serif" font-weight="bold" fill="#000" >KMS12BM</text><path d="M25 136.2H80M51.6 118V152.2" stroke="#5a5a5a" stroke-width="0.75" fill="none"/><path d="M55 134.7h0.01M44.8 130.6h0.01M61.4 130.6h0.01M46 125.1h0.01M47.3 131.1h0.01M56.8 128.6h0.01M52.9 131.4h0.01M59.3 120.4h0.01M51.1 132.6h0.01M48.7 126.5h0.01M63.3 128.2h0.01M46.2 120.6h0.01M47 122.1h0.01M58.6 132.7h0.01M53.4 125.3h0.01M54.2 122.7h0.01M56.8 134h0.01M54.1 128.1h0.01M57.4 131.6h0.01M54.1 125.5h0.01M45.2 128.4h0.01M60 127.5h0.01M49.7 130h0.01M49.2 131.3h0.01M49.1 126.3h0.01M49.9 127.5h0.01M54 133.3h0.01M55 126.4h0.01M63.2 125.3h0.01M49 127.2h0.01M42.6 126.9h0.01M44.5 124.2h0.01M46.7 125.2h0.01M53 132.2h0.01M49.1 135.4h0.01M58.4 126.6h0.01M46.4 121.5h0.01M48.1 131.6h0.01M61.1 124.1h0.01M48.4 123.5h0.01M55.2 123.3h0.01M57.7 130.8h0.01M53.8 125.9h0.01M45.2 122.3h0.01M57.9 122.6h0.01M52.5 121.5h0.01M58.9 130.4h0.01M54.2 125.1h0.01M46.9 129.5h0.01M60.6 128.9h0.01M60.8 132.8h0.01M57.7 131.6h0.01M62.1 127h0.01M56.3 123.3h0.01M42.7 126h0.01M58.5 124.6h0.01M56.4 125.1h0.01M58.4 124h0.01M59 124.1h0.01M60.6 124.5h0.01M51.4 131.4h0.01M58.7 130.7h0.01M52.2 122.3h0.01M55.4 126h0.01M43.4 129.1h0.01M42.2 126h0.01M49.1 121.6h0.01M45.7 130.4h0.01M48.9 126.3h0.01M45.4 122.3h0.01M59.4 123h0.01M56.3 125.6h0.01M53.1 127.2h0.01M56.6 128.7h0.01M51.4 128h0.01M50.4 120.5h0.01M48.5 131.1h0.01M51.6 126h0.01M54.4 118.8h0.01M51.4 123.9h0.01M52.1 132h0.01M55.6 119.1h0.01M54.7 125.4h0.01M48.4 127h0.01M57.5 133.9h0.01M49.6 132.1h0.01M53.4 129.4h0.01M42.3 125.5h0.01M58.6 127.2h0.01M56.8 122.4h0.01" stroke="#4a4aa0" stroke-width="0.7" stroke-linecap="round" opacity="0.45"/><path d="M41.1 139h0.01M35.4 140h0.01M38.7 138.8h0.01M42.6 142h0.01M40.4 140.7h0.01M39.2 138.7h0.01M39 141.8h0.01M45.2 140.4h0.01M38 143.7h0.01M42.3 140.6h0.01M37 136.6h0.01M44.2 139.3h0.01M38.4 143.4h0.01M43.1 141.4h0.01M38.8 137.8h0.01M37.1 143.1h0.01M42.2 138.3h0.01M37.2 137.9h0.01M43.2 140.3h0.01M40.9 140h0.01M36.3 138.2h0.01M36.3 138.3h0.01M43.3 138.6h0.01M35.7 137.7h0.01M42.8 136.8h0.01M34.3 139.3h0.01M40.6 141.5h0.01M39.4 141.6h0.01M42.5 142.5h0.01M43.7 141.5h0.01" stroke="#4a4aa0" stroke-width="0.7" stroke-linecap="round" opacity="0.45"/><path d="M45 131 L58 130.5 L59 136 L57 147 L47 148Z" fill="#3a3aa2" stroke="#3a3aa2" stroke-width="1" stroke-linejoin="round" opacity="0.62" filter="url(#b1)"/><path d="M37 131.5 L42 127.8 L46.5 128.2 L46 132.5 L41 135 L37 134.5Z" fill="#3a3aa6" stroke="#3a3aa6" stroke-width="5" stroke-linejoin="round" filter="url(#spk1)"/><path d="M36 130.1h0.01M38.8 134.7h0.01M48.1 128.3h0.01M36.7 134.9h0.01M45.6 133h0.01M46.5 131.1h0.01M34.6 129.7h0.01M45.4 133.5h0.01M42.2 127.2h0.01M41.1 136.5h0.01M43.7 127.2h0.01M41.5 127h0.01M47.4 127.5h0.01M38.8 134.9h0.01M46.1 127.8h0.01M36.6 132.2h0.01M42.8 134.1h0.01M40.2 135.2h0.01M36.8 134.6h0.01M39.5 136.4h0.01M35.9 131.8h0.01M43.4 127.8h0.01M35.7 134.7h0.01M38.6 129.2h0.01M47 132.6h0.01M38.4 127.3h0.01M42.8 127.4h0.01M46.2 131.6h0.01M40.2 128.2h0.01M36.6 130.6h0.01M38.4 134.7h0.01M44.6 127h0.01M44.9 127.6h0.01M40 135h0.01M46.6 130.5h0.01M36.3 135.9h0.01M47 130.7h0.01M43.1 134h0.01M46.5 127.1h0.01M45.7 128h0.01M46.4 129.9h0.01M45.3 132.9h0.01M40.2 127.3h0.01M43.2 127.9h0.01M42.7 135h0.01M42.5 134.3h0.01M42.8 134.3h0.01M43 134.6h0.01M38.8 129.7h0.01M44.1 126h0.01M38.2 128.9h0.01M42.3 136.2h0.01M42.1 135.4h0.01M44.7 133.8h0.01M44 127.1h0.01M47.2 130.4h0.01M46.5 130.9h0.01M38.3 128.7h0.01M46 133.5h0.01M47.7 127.5h0.01M36.7 134.4h0.01M37.6 130.6h0.01M44.9 127.6h0.01M50 131.7h0.01M37 131h0.01M38.1 130.4h0.01M41.2 136h0.01M42.1 127.3h0.01M46.4 129.8h0.01M46.6 128.8h0.01M46.5 130.9h0.01M42.5 136.9h0.01M45.5 127.3h0.01M37.3 136.1h0.01M46.7 129h0.01M46.2 133.4h0.01M43.8 127.6h0.01M38.1 129.2h0.01M35.6 135.5h0.01M45 128h0.01M39.4 128.9h0.01M35.6 130.6h0.01M36.8 131.7h0.01M35.2 135.7h0.01M46 132.6h0.01M45.9 126.2h0.01M46.9 127.8h0.01M45.5 128.1h0.01M48.4 132.7h0.01M45.6 128h0.01M47.8 131.5h0.01M43.9 127.8h0.01M46.5 128.6h0.01M37.6 131h0.01M35.1 133h0.01M41.8 127.1h0.01M46.8 133.8h0.01M40.7 135.5h0.01M36.6 134.9h0.01M39.5 135h0.01M47 130.8h0.01M40.4 128.8h0.01M45.4 128.1h0.01M40.3 128.7h0.01M35.7 134.6h0.01M46.9 130.6h0.01M42.2 126.3h0.01M48.2 132h0.01M40 135.8h0.01M43.4 127.8h0.01M38.5 135.5h0.01M40.1 128.8h0.01M36.1 130.1h0.01M46.8 130.5h0.01M36.9 133.6h0.01M48.4 131.4h0.01M46.6 131.1h0.01M46.8 131.7h0.01M46.6 131.3h0.01M36 131.5h0.01M43.9 135.7h0.01M44.2 127.9h0.01M45.5 127.5h0.01M45.4 127.4h0.01M42.1 134.5h0.01M42.4 134.4h0.01M44.4 127.3h0.01M38.4 135h0.01M47.2 130.8h0.01M39 135.1h0.01M36.6 131.3h0.01M36.7 132.6h0.01M46.5 131.7h0.01M38.2 135.5h0.01M46.7 130.8h0.01M40.1 129h0.01M35.2 137.9h0.01M43.4 127.9h0.01M35.2 133.9h0.01M43.6 135h0.01M42 136.4h0.01M43.8 134.5h0.01M45.9 126.5h0.01M40.9 135h0.01M42.8 134.1h0.01M43.5 127.1h0.01M42.7 134.4h0.01M47.4 128.2h0.01M36.7 127.7h0.01M41.9 127.8h0.01M47 131.1h0.01M45.8 126.8h0.01M40.2 136.1h0.01M46.6 128.3h0.01M46.1 132.9h0.01M34.8 132.8h0.01M37.5 137.1h0.01M43.8 127.9h0.01M39.1 135.2h0.01M45.1 133.4h0.01M46.8 133.7h0.01M36.8 133.6h0.01M36.9 130.9h0.01M37.2 129.6h0.01M36.9 134.6h0.01M37 133.8h0.01M37 133.9h0.01M41.2 135.8h0.01M41.7 134.7h0.01M37.8 129.2h0.01M41.8 127.8h0.01M36.9 132.4h0.01M45.8 133.3h0.01M46.9 130.2h0.01M43.5 134.7h0.01M36.1 134.6h0.01M36.6 133.9h0.01M48.8 130.7h0.01M40.7 128.7h0.01M46.7 130.2h0.01M38 130.4h0.01M38.2 129.7h0.01M35.3 134.3h0.01M39 134.9h0.01M40.8 128.5h0.01M41.8 127.7h0.01M38.1 136.6h0.01M39.4 134.8h0.01M39.1 128.7h0.01M37.2 128.6h0.01M39.5 137h0.01M47.1 133.4h0.01M47.7 132.2h0.01M39.6 128.7h0.01M37.4 135.6h0.01M37.9 130.6h0.01M46.2 132.7h0.01M39.3 134.8h0.01M40.6 128.3h0.01M46.7 127.8h0.01M46.8 131.3h0.01M36.5 132.8h0.01M46.1 131.7h0.01M46.6 135.9h0.01M47 133.8h0.01M38.7 135.5h0.01M46.2 127.9h0.01M41.1 128h0.01M43.8 127.8h0.01M40.1 127.9h0.01M36.7 132.4h0.01M36.5 131.2h0.01M38.7 135.6h0.01M43.2 134.8h0.01M42.1 135h0.01M39.5 129.6h0.01M36.8 136.4h0.01M43.1 134.6h0.01M46.8 129.5h0.01M45.9 127.9h0.01M37 133.9h0.01M36.3 130.4h0.01M45.5 133.3h0.01M46.8 130.5h0.01M42.4 134.4h0.01M36.2 136.5h0.01M37.2 135.8h0.01M41.1 128.2h0.01M46.3 133.2h0.01M42.4 127.3h0.01M37.3 135.9h0.01M44.6 133.7h0.01M36.6 129.8h0.01M41.7 134.9h0.01M45.2 133.5h0.01M37.6 129h0.01M42 126.3h0.01M39.3 129h0.01M42.6 127.4h0.01M42 126.7h0.01M39 127.6h0.01M38.3 135.9h0.01M39.2 128.8h0.01M34.4 126.6h0.01M45.3 136h0.01M41.7 127.5h0.01M41.1 135h0.01M45 127.7h0.01M38.4 135h0.01M35.9 130.8h0.01M46.3 132.1h0.01M38.7 129.8h0.01M39.3 127.9h0.01M46.8 132.3h0.01M47.6 131.6h0.01M38.8 130h0.01M34.6 133.5h0.01M36.6 135.3h0.01M46.4 129.7h0.01M45 126.9h0.01" stroke="#3a3aa0" stroke-width="0.6" stroke-linecap="round" opacity="0.5"/><path d="M37 131.5 L42 127.8 L46.5 128.2 L46 132.5 L41 135 L37 134.5Z" fill="#0c0c86" stroke="#0c0c86" stroke-width="1.2" stroke-linejoin="round" filter="url(#spk2)"/><path d="M48 134 L54 132 L57.5 133.5 L56 142 L52 147 L48 147 L46 140Z" fill="#3a3aa6" stroke="#3a3aa6" stroke-width="5" stroke-linejoin="round" filter="url(#spk1)"/><path d="M58 136.8h0.01M46.8 135.5h0.01M47 135.7h0.01M49.7 133.2h0.01M46.2 142.9h0.01M57.1 136h0.01M46.2 138.6h0.01M47.6 133.3h0.01M47.8 146.4h0.01M46.5 143.9h0.01M46.6 143.2h0.01M45.2 139.7h0.01M47 135.9h0.01M56.5 142.1h0.01M46.8 137.1h0.01M59.1 136.9h0.01M49.9 147.6h0.01M43.7 140.2h0.01M54.3 129.9h0.01M57.2 140.2h0.01M48.7 147.2h0.01M49.1 133.1h0.01M46.4 143.7h0.01M43.6 144h0.01M46.9 143.5h0.01M57.9 132.7h0.01M45.3 138.8h0.01M49.9 133.3h0.01M49.3 147.9h0.01M49.9 132.3h0.01M57.7 133.8h0.01M47.4 146.9h0.01M52.1 132.1h0.01M53.4 146.7h0.01M46.9 143.3h0.01M46 138.5h0.01M58.6 135h0.01M57 143.2h0.01M48.9 132.3h0.01M56.3 140.7h0.01M45.3 141.7h0.01M47.7 133.5h0.01M45.3 136.2h0.01M46.5 134.4h0.01M56.2 142.3h0.01M45.7 141.1h0.01M47.6 147.5h0.01M52.9 146.1h0.01M54.2 148.1h0.01M57.5 137h0.01M58.2 144.3h0.01M50 132.3h0.01M56.2 132.7h0.01M55.4 145.6h0.01M49.6 133.4h0.01M46.2 141h0.01M55.1 144.6h0.01M56.9 138.7h0.01M56.6 139h0.01M56 145.6h0.01M57.3 138h0.01M46.8 146.1h0.01M57.9 140.4h0.01M46.6 136.7h0.01M47.2 147.8h0.01M46.1 139.4h0.01M53 145.7h0.01M47 143.8h0.01M49.7 149.2h0.01M46.7 147.7h0.01M52.1 149.7h0.01M56.7 139.1h0.01M48.6 149.4h0.01M48.3 147.2h0.01M47.8 133.6h0.01M56.6 139h0.01M57.5 136.7h0.01M45.3 140.4h0.01M57.7 137.7h0.01M45.7 139.4h0.01M55.1 131.9h0.01M57.1 143.2h0.01M47.2 131.5h0.01M48.4 131.8h0.01M46.5 145.4h0.01M51 148.6h0.01M47 133h0.01M56.3 141.4h0.01M51 132.9h0.01M48 134h0.01M47.6 147.5h0.01M52.3 147.2h0.01M58.6 133.7h0.01M47.6 133.4h0.01M56.6 131.5h0.01M57 143.3h0.01M47.7 134.8h0.01M55.7 143.2h0.01M45 141h0.01M48.2 147.1h0.01M50.8 132h0.01M56.1 132.8h0.01M45.4 141.6h0.01M57.9 134.6h0.01M51 147.7h0.01M57.6 135h0.01M53.1 145.7h0.01M56.2 143.2h0.01M54.3 145.3h0.01M58.1 135.7h0.01M46.2 143.1h0.01M46.8 145.2h0.01M59 140.9h0.01M46.1 144.7h0.01M51.7 132.6h0.01M46.8 135.3h0.01M50.4 133.1h0.01M56.2 141.8h0.01M44.8 148.6h0.01M45.2 138.9h0.01M57.4 134.6h0.01M58.2 136.9h0.01M54.2 131.8h0.01M47.1 146.8h0.01M46.1 137.1h0.01M45.8 138.7h0.01M56.7 143.6h0.01M55.3 144.1h0.01M59.1 135.1h0.01M44.3 139.6h0.01M54.2 144.5h0.01M56.6 143.1h0.01M54.6 144h0.01M46.7 144.6h0.01M56.5 141.4h0.01M58.3 134.3h0.01M53.2 132.1h0.01M57 142h0.01M51 147.2h0.01M56 143.1h0.01M57.1 133h0.01M56.7 138.4h0.01M60.6 136.1h0.01M54.8 132.2h0.01M56.7 141.7h0.01M45.5 146.2h0.01M52.7 148.7h0.01M52 132.1h0.01M55.3 143.6h0.01M48.7 147.7h0.01M54.7 131.3h0.01M45.8 137.9h0.01M55.3 143.2h0.01M57.7 137.9h0.01M52.3 149.2h0.01M46.7 143.7h0.01M59.3 138.9h0.01M45 140.4h0.01M46.5 146.6h0.01M48.4 147.5h0.01M44.4 144.3h0.01M45.9 145.9h0.01M50.9 147.9h0.01M50.6 147.3h0.01M46.3 132.8h0.01M45.2 141.6h0.01M56.3 143.6h0.01M58.7 133.1h0.01M44.4 137.6h0.01M46.9 147.2h0.01M56 142.5h0.01M53.5 145.7h0.01M46.4 149.4h0.01M46.3 138.4h0.01M53.4 147h0.01M46 142.3h0.01M49.3 148h0.01M48.6 129.4h0.01M50.7 132.2h0.01M50.6 148.4h0.01M56 142h0.01M45.4 139.1h0.01M54.8 132h0.01M47.4 134.9h0.01M58.4 136.7h0.01M53.5 146.3h0.01M49.5 133.1h0.01M51.7 132.3h0.01M58.9 139.3h0.01M44.4 139.4h0.01M57.5 139.1h0.01M45.7 140h0.01M57.1 141.9h0.01M57.5 132.3h0.01M43.6 142.4h0.01M56.5 140.7h0.01M46.2 141.4h0.01M55.8 142.4h0.01M51 147.5h0.01M45 139.2h0.01M56.1 129.6h0.01M45.9 139.1h0.01M56.3 142.1h0.01M50.4 148.2h0.01M59.1 134.9h0.01M57 138.6h0.01M58.8 131.4h0.01M45 139.6h0.01M47.1 144.5h0.01M53.2 147.3h0.01M57.5 131.6h0.01M56.3 143.5h0.01M47.1 145.4h0.01M51.5 147.9h0.01M56.1 143.2h0.01M57.7 134.1h0.01M54.1 130.7h0.01M55.3 131h0.01M52.7 146.7h0.01M55.9 142.8h0.01M58.2 136.4h0.01M47.4 135.4h0.01M44 139.3h0.01M49.4 132.8h0.01M53.2 131.4h0.01M51.2 147.9h0.01M59.2 139.2h0.01M50.3 148.1h0.01M47.8 146.6h0.01M47.7 134.6h0.01M49.3 131.2h0.01M55.4 128.2h0.01M48.5 147.5h0.01M53 149h0.01M50 133.2h0.01M47.5 131.6h0.01M56.1 132.8h0.01M47.5 131.6h0.01M49 147.7h0.01M47.7 147.2h0.01M49 132.8h0.01M46.1 139.6h0.01M46 137.6h0.01M47.4 132.9h0.01M57.8 137.2h0.01M52.9 147.2h0.01M58.3 133.4h0.01M56.8 137.6h0.01M44.4 140.1h0.01M58.1 132.3h0.01M49.7 150h0.01M47.6 147.3h0.01M46.2 139h0.01M45.8 137.8h0.01M54.9 132.1h0.01M47.2 135.9h0.01M46.3 137.2h0.01M45.7 143.3h0.01M57.7 133.6h0.01M53.5 148.6h0.01" stroke="#3a3aa0" stroke-width="0.6" stroke-linecap="round" opacity="0.5"/><path d="M48 134 L54 132 L57.5 133.5 L56 142 L52 147 L48 147 L46 140Z" fill="#0c0c86" stroke="#0c0c86" stroke-width="1.2" stroke-linejoin="round" filter="url(#spk2)"/><path d="M25 111.5H89.3V152.2" fill="none" stroke="#6e6e6e" stroke-width="0.9"/><path d="M25 111.2V152.2H89.6" fill="none" stroke="#111" stroke-width="1.3"/><text x="22.8" y="153.2" font-size="2.9" text-anchor="end" font-family="Liberation Sans" fill="#3a3a3a" transform="rotate(-35 22.8 153.2)">10<tspan font-size="2" dy="-1.1">1</tspan></text><text x="22.8" y="143" font-size="2.9" text-anchor="end" font-family="Liberation Sans" fill="#3a3a3a" transform="rotate(-35 22.8 143)">10<tspan font-size="2" dy="-1.1">2</tspan></text><text x="22.8" y="132.8" font-size="2.9" text-anchor="end" font-family="Liberation Sans" fill="#3a3a3a" transform="rotate(-35 22.8 132.8)">10<tspan font-size="2" dy="-1.1">3</tspan></text><text x="22.8" y="122.7" font-size="2.9" text-anchor="end" font-family="Liberation Sans" fill="#3a3a3a" transform="rotate(-35 22.8 122.7)">10<tspan font-size="2" dy="-1.1">4</tspan></text><text x="22.8" y="112.5" font-size="2.9" text-anchor="end" font-family="Liberation Sans" fill="#3a3a3a" transform="rotate(-35 22.8 112.5)">10<tspan font-size="2" dy="-1.1">5</tspan></text><text x="26.6" y="156.4" font-size="2.9" text-anchor="end" font-family="Liberation Sans" fill="#3a3a3a" transform="rotate(-35 26.6 156.4)">10<tspan font-size="2" dy="-1.1">0</tspan></text><text x="39.5" y="156.4" font-size="2.9" text-anchor="end" font-family="Liberation Sans" fill="#3a3a3a" transform="rotate(-35 39.5 156.4)">10<tspan font-size="2" dy="-1.1">1</tspan></text><text x="52.3" y="156.4" font-size="2.9" text-anchor="end" font-family="Liberation Sans" fill="#3a3a3a" transform="rotate(-35 52.3 156.4)">10<tspan font-size="2" dy="-1.1">2</tspan></text><text x="65.2" y="156.4" font-size="2.9" text-anchor="end" font-family="Liberation Sans" fill="#3a3a3a" transform="rotate(-35 65.2 156.4)">10<tspan font-size="2" dy="-1.1">3</tspan></text><text x="78" y="156.4" font-size="2.9" text-anchor="end" font-family="Liberation Sans" fill="#3a3a3a" transform="rotate(-35 78 156.4)">10<tspan font-size="2" dy="-1.1">4</tspan></text><text x="90.9" y="156.4" font-size="2.9" text-anchor="end" font-family="Liberation Sans" fill="#3a3a3a" transform="rotate(-35 90.9 156.4)">10<tspan font-size="2" dy="-1.1">5</tspan></text><text x="19.8" y="131.8" font-size="4.4" text-anchor="middle" font-family="Liberation Sans" fill="#555" transform="rotate(-90 19.8 131.8)">APC-A</text><text x="57.1" y="161" font-size="4.4" text-anchor="middle" font-family="Liberation Sans" fill="#555">PE-A</text><text x="26.3" y="117.2" font-size="4.5" text-anchor="start" font-family="Liberation Sans" fill="#333" >12.44%</text><text x="76.5" y="117.2" font-size="4.5" text-anchor="start" font-family="Liberation Sans" fill="#333" >5.89%</text><text x="26.3" y="149.2" font-size="4.5" text-anchor="start" font-family="Liberation Sans" fill="#333" >58.43%</text><text x="76.5" y="149.2" font-size="4.5" text-anchor="start" font-family="Liberation Sans" fill="#333" >23.25%</text><ellipse cx="84.2" cy="117.2" rx="11.2" ry="6.5" fill="none" stroke="#a82828" stroke-width="1.25"/><ellipse cx="86.3" cy="147.5" rx="13" ry="6.5" fill="none" stroke="#a82828" stroke-width="1.25"/><text x="140" y="106.8" font-size="5.6" text-anchor="middle" font-family="Liberation Serif" font-weight="bold" fill="#000" >KMS12PE</text><path d="M108.5 137H163M134 115V152.3" stroke="#5a5a5a" stroke-width="0.75" fill="none"/><path d="M131.1 116.8h0.01M127.4 127h0.01M135.5 134.9h0.01M133.2 118h0.01M130.3 130.5h0.01M133.9 127.7h0.01M124.1 126.5h0.01M126.7 131.6h0.01M141.1 123.3h0.01M136.8 132.1h0.01M137.7 122.3h0.01M139.3 125.4h0.01M140.8 121.9h0.01M137.2 117.9h0.01M139.4 124.5h0.01M137.9 130.2h0.01M124.9 122.2h0.01M127.3 125.6h0.01M131.7 119.7h0.01M128.7 123.5h0.01M136.8 134.3h0.01M132.6 118.1h0.01M136.6 132.7h0.01M135.1 122h0.01M136.2 135.1h0.01M133.4 117.4h0.01M126.9 121.3h0.01M136.8 123.8h0.01M137 133h0.01M134 126.4h0.01M134.5 130.7h0.01M138.9 133.5h0.01M135.5 132.5h0.01M141.1 128.6h0.01M135.8 126.6h0.01M140.5 131.1h0.01M138.4 125.9h0.01M136.2 132.1h0.01M133.4 128.4h0.01M131 118.7h0.01M127 128.1h0.01M133.3 135.3h0.01M140.5 130.5h0.01M138.6 127h0.01M137.4 132.3h0.01M139.3 126.8h0.01M137.9 130.3h0.01M138.5 127.4h0.01M124.6 129.1h0.01M127 124.5h0.01M127.2 130.4h0.01M129 129.1h0.01M128.7 121.6h0.01M126.2 129.7h0.01M140 132h0.01M138.6 121.7h0.01M139.9 129.6h0.01M132.4 129h0.01M139 122.7h0.01M130.4 127.1h0.01M129.8 122h0.01M134.5 134h0.01M140.6 123.3h0.01M131 125.7h0.01M128.9 119.4h0.01M126.3 126.5h0.01M139.8 120.4h0.01M128.2 127.8h0.01M132.5 133.7h0.01M125.8 120.1h0.01M124.6 128.5h0.01M135 135.5h0.01M136.6 134.3h0.01M136.5 128.3h0.01M125.5 124.6h0.01M139.9 119.7h0.01M140 130h0.01M135.5 130.2h0.01M126.1 127.4h0.01M129.8 134.6h0.01M132.9 133.2h0.01M132 117.7h0.01M132.3 125.7h0.01M131.6 135.6h0.01M133.9 122.3h0.01M129 120.9h0.01M138.5 131.3h0.01M130.5 125.9h0.01M130.4 129.3h0.01M128.4 124.8h0.01M126.8 132h0.01M134.7 125.5h0.01M124.7 128h0.01M129.9 116.8h0.01M129.6 117.9h0.01M134.4 120.3h0.01M127.8 129.7h0.01M126.5 123.8h0.01M137.5 124.1h0.01M127.4 121.7h0.01M136.6 123.5h0.01M132.7 128.5h0.01M125.1 127.2h0.01M129.6 126.8h0.01M138.9 121.9h0.01M130.3 121.3h0.01M136.6 126.9h0.01M131.4 116.4h0.01M133.7 124.2h0.01M135.5 126.9h0.01" stroke="#8a8ab0" stroke-width="0.7" stroke-linecap="round" opacity="0.5"/><path d="M128.7 140.7h0.01M127.6 144.2h0.01M132.8 140.8h0.01M132.7 138h0.01M132.2 138.8h0.01M122.9 137.8h0.01M126.3 138.5h0.01M126.9 143h0.01M129.8 134.7h0.01M129 136.9h0.01M133.3 138.8h0.01M124.1 143.1h0.01M128.3 137h0.01M133.7 141.5h0.01M129 145.8h0.01M129.3 144.5h0.01M126.3 134.4h0.01M127.7 135.6h0.01M130.7 144.9h0.01M129.2 135h0.01M126.7 138.9h0.01M122.5 142.1h0.01M128.5 141h0.01M133.2 139.4h0.01M133.1 140.7h0.01M128.1 141.7h0.01M132.3 139.2h0.01M127.9 134.3h0.01M126.7 142.5h0.01M129.7 143.6h0.01M128.5 136.8h0.01M123.3 137.3h0.01M130.3 135.9h0.01M128.4 135.3h0.01M130.9 144.9h0.01M128.2 137.3h0.01M122.7 138.7h0.01M127.5 141.3h0.01M131.4 135.1h0.01M133 138.8h0.01" stroke="#4a4aa0" stroke-width="0.7" stroke-linecap="round" opacity="0.45"/><path d="M129 141 L137 136.5 L142.5 135.5 L142 140 L135 146.5 L130 148.5 L127.5 146Z" fill="#3a3aa6" stroke="#3a3aa6" stroke-width="5" stroke-linejoin="round" filter="url(#spk1)"/><path d="M127.8 146.9h0.01M137.5 149.9h0.01M130.6 140h0.01M137.6 144.9h0.01M127.7 144.2h0.01M131.9 148.2h0.01M139.2 134.2h0.01M138.8 143.6h0.01M143.8 137.9h0.01M136.8 144.9h0.01M136.7 145.5h0.01M128.4 142.8h0.01M134.5 134.7h0.01M128.1 143.8h0.01M127.9 139.4h0.01M133.2 138h0.01M129.4 148.1h0.01M134.4 147.2h0.01M127.9 142.7h0.01M138.4 135.9h0.01M137.6 135.5h0.01M129.5 148.6h0.01M133.6 138.4h0.01M130.4 139.4h0.01M126.3 144.3h0.01M138.2 146h0.01M134.2 148.7h0.01M141.3 140.7h0.01M139.4 135.8h0.01M134.8 146.8h0.01M132.7 136.9h0.01M141.1 140.9h0.01M130.6 139.8h0.01M143.4 138.7h0.01M139.4 143.2h0.01M137.1 145.2h0.01M131.8 148h0.01M137.4 136h0.01M127.1 142.9h0.01M126.5 144.7h0.01M142.4 140.7h0.01M127.9 144h0.01M126.7 146.7h0.01M128 141.5h0.01M135 137h0.01M141.5 134.7h0.01M127.7 145.2h0.01M136.8 144.9h0.01M128.6 148.3h0.01M136.9 145.1h0.01M127.8 146.6h0.01M134.6 137.6h0.01M142.3 135h0.01M141.9 141.3h0.01M133.6 148.5h0.01M137 136h0.01M132.9 138.5h0.01M142.4 136.4h0.01M130 140.4h0.01M141.1 135.7h0.01M131.5 149.6h0.01M133.7 137.8h0.01M138.9 146.9h0.01M134.6 147.3h0.01M135.8 136h0.01M128 140.8h0.01M127.3 140.7h0.01M135.9 145.8h0.01M136.2 135.7h0.01M139.2 142.9h0.01M131.1 139.5h0.01M138.9 143.6h0.01M141.6 143.2h0.01M128.2 142.7h0.01M127 143.7h0.01M142.3 137.7h0.01M132.2 138.5h0.01M136.2 136.7h0.01M128.2 147.2h0.01M143 140.8h0.01M127.1 143.7h0.01M132.3 148.6h0.01M128.4 143h0.01M127.8 142.8h0.01M141.2 135.7h0.01M140.4 135.6h0.01M143.9 142.8h0.01M131.9 138.2h0.01M137.6 145.7h0.01M127.8 146.3h0.01M128.2 142.3h0.01M145.9 142h0.01M133.9 147.2h0.01M139.4 135.9h0.01M135.7 147.3h0.01M137.8 135.2h0.01M141.5 135.1h0.01M140.8 142h0.01M139.8 142.5h0.01M131.1 139.7h0.01M135.1 146.4h0.01M138 144.4h0.01M137.3 146.7h0.01M141 141h0.01M129.7 148.4h0.01M136.2 136.7h0.01M139.2 134.1h0.01M133.2 136.3h0.01M132.5 136.6h0.01M130.8 138.6h0.01M126.1 146.7h0.01M141.7 134.7h0.01M139 135.7h0.01M128.2 141.8h0.01M142.7 134.5h0.01M142.1 142h0.01M136.9 136.4h0.01M143.7 141.6h0.01M143.8 138.5h0.01M137.6 145.1h0.01M143.9 138.4h0.01M127.3 144.5h0.01M142 135.5h0.01M141.1 141h0.01M133.1 138.6h0.01M127.7 146.7h0.01M137.7 144.4h0.01M135.8 146h0.01M130.5 140h0.01M141.9 142.8h0.01M133.2 147.8h0.01M137.9 143.8h0.01M135.7 137h0.01M142.3 137.3h0.01M139.1 143.5h0.01M127.5 146.7h0.01M132 148.4h0.01M139.6 142.4h0.01M142 134.5h0.01M138.4 134.2h0.01M127.4 145.8h0.01M134.6 136.5h0.01M127.3 144.3h0.01M142 134.1h0.01M129.6 149.5h0.01M139.5 135.5h0.01M129.9 150.6h0.01M142.4 137.2h0.01M133.6 136.4h0.01M143.3 136.7h0.01M127.4 142.4h0.01M130.1 139.1h0.01M135.5 136.3h0.01M139.3 142.5h0.01M126.6 144.7h0.01M129.9 148.5h0.01M141.5 134.7h0.01M139 143.7h0.01M142.5 138.2h0.01M136.8 136.2h0.01M130.5 148.4h0.01M142.9 133.6h0.01M129.3 149.2h0.01M140.4 143.3h0.01M136.6 136.3h0.01M127.5 140.8h0.01M129.4 148.1h0.01M135.1 136.2h0.01M143.2 138.8h0.01M128.7 141.6h0.01M143.4 138.9h0.01M142.3 135h0.01M144.1 134.1h0.01M138.2 135.7h0.01M140.9 133.9h0.01M134.9 136.8h0.01M134.6 137.8h0.01M143.4 139.9h0.01M136.3 136.8h0.01M127.2 142.1h0.01M129.6 148.5h0.01M127.9 140.7h0.01M142.5 136.1h0.01M142.3 139.5h0.01M136.6 145.1h0.01M127.9 143.5h0.01M125.1 146.4h0.01M139.7 143.1h0.01M130.6 148.9h0.01M130 149.7h0.01M143.2 137.6h0.01M129.2 148.2h0.01M136.1 134.9h0.01M137.4 145.2h0.01M128.5 147.2h0.01M132.4 149.4h0.01M127.8 146.5h0.01M130 140.2h0.01M135.4 137.2h0.01M143.4 135.9h0.01M136 146.2h0.01M134.8 136.7h0.01M128.5 141.3h0.01M142.6 136.6h0.01M133.2 148h0.01M136.8 135.9h0.01M140.2 142h0.01M127.7 139.9h0.01M144.1 137h0.01M136.5 145.3h0.01M132.5 138.8h0.01M137.4 135.5h0.01M123.6 148h0.01M129.7 149.3h0.01M137 136.3h0.01M134 138.1h0.01M132.3 148.3h0.01M127.3 140.5h0.01M130.3 138h0.01M138.5 135.2h0.01M138.9 136.1h0.01M128.1 143.2h0.01M131.9 138.7h0.01M143.1 139.1h0.01M126.3 143.2h0.01M131.6 137.8h0.01M126.2 142.2h0.01M129.1 140.9h0.01M141.2 135.5h0.01M129.4 147.9h0.01M127.2 147.2h0.01M135.6 137h0.01M134.8 136.6h0.01M139 135.7h0.01M143.6 134.5h0.01M133 147.7h0.01M137.5 135.9h0.01M139.6 145.6h0.01M127.2 144.8h0.01M134.9 148.4h0.01M131.2 148h0.01M135.3 137.2h0.01M128.8 147.5h0.01M139.8 134.4h0.01M142.6 137.4h0.01M129.8 140.2h0.01M136 147.8h0.01M128.1 141.5h0.01M128.6 152.1h0.01M128.9 140.8h0.01M143.8 143.5h0.01M142.9 138h0.01M136.3 146.2h0.01M124.9 148.8h0.01M134.5 146.7h0.01M128 146.8h0.01M145.7 136.5h0.01M128 144.1h0.01M142.7 138.5h0.01M128.3 141.9h0.01" stroke="#3a3aa0" stroke-width="0.6" stroke-linecap="round" opacity="0.5"/><path d="M129 141 L137 136.5 L142.5 135.5 L142 140 L135 146.5 L130 148.5 L127.5 146Z" fill="#0c0c86" stroke="#0c0c86" stroke-width="1.2" stroke-linejoin="round" filter="url(#spk2)"/><path d="M108.5 113.2H170V152.3" fill="none" stroke="#6e6e6e" stroke-width="0.9"/><path d="M108.5 112.9V152.3H170.3" fill="none" stroke="#111" stroke-width="1.3"/><text x="106.3" y="153.3" font-size="2.9" text-anchor="end" font-family="Liberation Sans" fill="#3a3a3a" transform="rotate(-35 106.3 153.3)">10<tspan font-size="2" dy="-1.1">1</tspan></text><text x="106.3" y="143.5" font-size="2.9" text-anchor="end" font-family="Liberation Sans" fill="#3a3a3a" transform="rotate(-35 106.3 143.5)">10<tspan font-size="2" dy="-1.1">2</tspan></text><text x="106.3" y="133.8" font-size="2.9" text-anchor="end" font-family="Liberation Sans" fill="#3a3a3a" transform="rotate(-35 106.3 133.8)">10<tspan font-size="2" dy="-1.1">3</tspan></text><text x="106.3" y="124" font-size="2.9" text-anchor="end" font-family="Liberation Sans" fill="#3a3a3a" transform="rotate(-35 106.3 124)">10<tspan font-size="2" dy="-1.1">4</tspan></text><text x="106.3" y="114.2" font-size="2.9" text-anchor="end" font-family="Liberation Sans" fill="#3a3a3a" transform="rotate(-35 106.3 114.2)">10<tspan font-size="2" dy="-1.1">5</tspan></text><text x="110.1" y="156.5" font-size="2.9" text-anchor="end" font-family="Liberation Sans" fill="#3a3a3a" transform="rotate(-35 110.1 156.5)">10<tspan font-size="2" dy="-1.1">0</tspan></text><text x="122.4" y="156.5" font-size="2.9" text-anchor="end" font-family="Liberation Sans" fill="#3a3a3a" transform="rotate(-35 122.4 156.5)">10<tspan font-size="2" dy="-1.1">1</tspan></text><text x="134.7" y="156.5" font-size="2.9" text-anchor="end" font-family="Liberation Sans" fill="#3a3a3a" transform="rotate(-35 134.7 156.5)">10<tspan font-size="2" dy="-1.1">2</tspan></text><text x="147" y="156.5" font-size="2.9" text-anchor="end" font-family="Liberation Sans" fill="#3a3a3a" transform="rotate(-35 147 156.5)">10<tspan font-size="2" dy="-1.1">3</tspan></text><text x="159.3" y="156.5" font-size="2.9" text-anchor="end" font-family="Liberation Sans" fill="#3a3a3a" transform="rotate(-35 159.3 156.5)">10<tspan font-size="2" dy="-1.1">4</tspan></text><text x="171.6" y="156.5" font-size="2.9" text-anchor="end" font-family="Liberation Sans" fill="#3a3a3a" transform="rotate(-35 171.6 156.5)">10<tspan font-size="2" dy="-1.1">5</tspan></text><text x="103.3" y="132.8" font-size="4.4" text-anchor="middle" font-family="Liberation Sans" fill="#555" transform="rotate(-90 103.3 132.8)">APC-A</text><text x="139.2" y="161.1" font-size="4.4" text-anchor="middle" font-family="Liberation Sans" fill="#555">PE-A</text><text x="109.8" y="118.9" font-size="4.5" text-anchor="start" font-family="Liberation Sans" fill="#333" >1.96%</text><text x="157.2" y="118.9" font-size="4.5" text-anchor="start" font-family="Liberation Sans" fill="#333" >3.01%</text><text x="109.8" y="149.3" font-size="4.5" text-anchor="start" font-family="Liberation Sans" fill="#333" >62.10%</text><text x="157.2" y="149.3" font-size="4.5" text-anchor="start" font-family="Liberation Sans" fill="#333" >32.47%</text><ellipse cx="160.4" cy="147.1" rx="13.5" ry="6.3" fill="none" stroke="#a82828" stroke-width="1.25"/><text x="217.5" y="106.8" font-size="5.6" text-anchor="middle" font-family="Liberation Serif" font-weight="bold" fill="#000" >NCIH929</text><path d="M186 134H242.2M213.3 115V153.5" stroke="#5a5a5a" stroke-width="0.75" fill="none"/><path d="M203.4 140.4h0.01M206.7 132.6h0.01M206.3 132.1h0.01M205.1 135.3h0.01M204.4 131.1h0.01M203.1 134.1h0.01M204.4 131.5h0.01M202.2 130.3h0.01M208.7 141.3h0.01M204.5 138.9h0.01M202.2 143.1h0.01M206.4 139h0.01M205.1 130.7h0.01M206.8 135.4h0.01M203.9 138.9h0.01M201.4 139.4h0.01M209.8 138.1h0.01M207.2 132.1h0.01M203.2 143.8h0.01M201.5 141.2h0.01M209.6 140.2h0.01M204.3 142.4h0.01M206.4 131h0.01M204.6 135.9h0.01M209.8 133.1h0.01M205.7 135.6h0.01M202.5 143.8h0.01M209.2 142.6h0.01M205.5 137.6h0.01M201.8 138h0.01M207.5 142.2h0.01M199.9 135.4h0.01M207.5 137.6h0.01M206.4 144.1h0.01M205.1 134.4h0.01M206.7 134.1h0.01M201.3 137.4h0.01M200.7 137h0.01M207 143.8h0.01M199.2 135.7h0.01M209.9 137.9h0.01M203.3 132.2h0.01M202.1 133h0.01M210.3 139.6h0.01M201 137.9h0.01M207.5 134h0.01M202.6 130.2h0.01M209.3 133.1h0.01M202.1 131.3h0.01M205.9 142.3h0.01M208.6 135.5h0.01M203.6 135.6h0.01M210.8 137.3h0.01M209.9 138.8h0.01M202.7 139.2h0.01M199.7 133.6h0.01M202.9 134.6h0.01M207.5 131.4h0.01M205.5 135.3h0.01M207.9 141.6h0.01" stroke="#7a7aa8" stroke-width="0.7" stroke-linecap="round" opacity="0.5"/><path d="M201 124 L205 120 L223 118.5 L224 121 L212 134 L203 130Z" fill="#3a3aa2" stroke="#3a3aa2" stroke-width="1" stroke-linejoin="round" opacity="0.62" filter="url(#b1)"/><path d="M206.5 121 L220 120 L218 124 L215 130 L212 132.2 L207 128 L205 123.5Z" fill="#3a3aa6" stroke="#3a3aa6" stroke-width="5" stroke-linejoin="round" filter="url(#spk1)"/><path d="M204.4 128.1h0.01M217.9 125.6h0.01M217.6 127.3h0.01M205.5 120.9h0.01M205.4 125.3h0.01M219.5 121.5h0.01M203.3 125.1h0.01M219.5 121.1h0.01M220.6 126.8h0.01M210 120.2h0.01M219.1 117.7h0.01M213.2 120.1h0.01M213.7 120.1h0.01M215.3 130.4h0.01M205.3 121h0.01M215.7 130.9h0.01M209.7 120.6h0.01M219.6 123h0.01M219.3 119.6h0.01M214.8 131.4h0.01M206.7 128.6h0.01M215.4 131.2h0.01M204.6 130.7h0.01M205 121.7h0.01M209 131.3h0.01M209.3 120.5h0.01M206.7 129.1h0.01M204 124.8h0.01M210.6 119.4h0.01M205.6 121.8h0.01M219.8 123.9h0.01M218.2 124.8h0.01M217.4 128.9h0.01M213.9 130.9h0.01M211.1 120.3h0.01M209.5 133h0.01M217.7 119.4h0.01M220 120.2h0.01M220.4 120.6h0.01M205.7 126.1h0.01M214 132.8h0.01M215.6 131.9h0.01M206 121.2h0.01M206.2 127.1h0.01M211 133h0.01M209.9 116.4h0.01M205.9 120.6h0.01M208.3 119.4h0.01M215.7 120.1h0.01M212.2 120.1h0.01M203.9 123.3h0.01M209.7 120.7h0.01M220 120h0.01M219.4 121.2h0.01M209.3 120.3h0.01M215.1 130.9h0.01M213.2 120.3h0.01M213.6 131.6h0.01M210.7 120.6h0.01M210.9 120.3h0.01M214.7 130.6h0.01M221 120h0.01M214.9 120.3h0.01M214.7 130.4h0.01M209.4 130.5h0.01M205.2 125.7h0.01M216.2 129h0.01M204.8 123h0.01M218 118.9h0.01M206.9 129h0.01M206.5 120.8h0.01M209.2 120.7h0.01M216.9 129h0.01M209 130.2h0.01M219.6 118.2h0.01M209.1 130.3h0.01M209.2 131.2h0.01M210.9 120.5h0.01M213.8 132h0.01M219 122.9h0.01M216.8 127h0.01M205.1 122.3h0.01M204.3 124h0.01M216.7 128h0.01M216.3 128.8h0.01M217.1 126.8h0.01M216.1 120.3h0.01M218.7 123.4h0.01M217 126.2h0.01M219 119.3h0.01M209.4 130.9h0.01M217 118.9h0.01M206.1 120.7h0.01M208 130h0.01M208.1 120.6h0.01M211.8 133h0.01M209.8 118.7h0.01M215.4 130.1h0.01M219.9 123.3h0.01M219.4 122.4h0.01M213.1 120.4h0.01M215.7 129.3h0.01M216.2 128.1h0.01M205.2 124.9h0.01M216 130.5h0.01M220.2 119.5h0.01M218.6 120h0.01M220.2 122.8h0.01M221.7 122.1h0.01M219.7 122.1h0.01M212.2 133.6h0.01M212.4 132h0.01M218.9 122.1h0.01M213.9 131.6h0.01M208.6 119.2h0.01M220 119.8h0.01M206.9 120.3h0.01M219.8 125h0.01M206.1 120.5h0.01M217.8 119.3h0.01M207.5 117.6h0.01M220.2 120.1h0.01M206 128.3h0.01M218.6 127.6h0.01M210.9 132.3h0.01M205.1 122.6h0.01M221.2 118.9h0.01M216.9 126.2h0.01M204.8 122.8h0.01M222.3 121.9h0.01M212.7 120h0.01M206.7 127.8h0.01M220.6 120.5h0.01M220.8 119.4h0.01M221.8 119.7h0.01M209.9 130.5h0.01M212.8 132.3h0.01M220.5 118.9h0.01M204.8 124.7h0.01M214.6 120.4h0.01M215.7 119.6h0.01M203.5 122.5h0.01M215.2 129.8h0.01M216.8 127.5h0.01M216.9 120.1h0.01M204.9 119.9h0.01M218.9 119.9h0.01M219.3 124.6h0.01M213 133.5h0.01M216.7 118.4h0.01M213.2 132.2h0.01M213.2 120.1h0.01M209.2 129.9h0.01M216.6 128.9h0.01M216.9 127.1h0.01M205.7 126.8h0.01M217 118.7h0.01M216.6 129.5h0.01M211.7 120.4h0.01M219 122.7h0.01M206.6 129.2h0.01M208.9 129.7h0.01M209.2 129.9h0.01M210.2 116.3h0.01M214.9 130.6h0.01M214 120.2h0.01M212.1 132.2h0.01M217.2 125.6h0.01M217.5 125.8h0.01M213.4 119h0.01M205.6 126.6h0.01M218.1 126.3h0.01M206.9 128.6h0.01M203.8 123.1h0.01M204.2 124.2h0.01M209.6 131.7h0.01M205.2 126.5h0.01M205.7 122.1h0.01M219.3 124.8h0.01M205.8 126h0.01M205 125.2h0.01M209 130.8h0.01M216.1 128.3h0.01M211.9 132.1h0.01M213.9 119.9h0.01M208.1 132h0.01M206.8 129h0.01M215.4 130.3h0.01M204.3 120.7h0.01M211.5 132.4h0.01M212.2 118.8h0.01M206 125.8h0.01M218.7 118.5h0.01M219.9 125.2h0.01M217.4 119.5h0.01M216.8 127.7h0.01M221.6 118.9h0.01M215.7 129.4h0.01M209.3 134.1h0.01M206.9 128.1h0.01M217.3 117.9h0.01M204.9 126h0.01M205.7 119.8h0.01M214.5 119.8h0.01M206.2 127.4h0.01M213 119.7h0.01M218.6 120h0.01M213.5 120h0.01M219 123.9h0.01M218.7 122.6h0.01M217.5 126.6h0.01M205.5 126.9h0.01M215 119.9h0.01M212.7 119.7h0.01M212.6 120.3h0.01M215.6 119.8h0.01M209.1 120h0.01M213.2 119.9h0.01M213.8 131.4h0.01M212.6 120.1h0.01M215.4 129.4h0.01M206.9 119.4h0.01M215.2 120h0.01M213.3 118.2h0.01M205.2 125.5h0.01M205.4 127.8h0.01M212.5 132.2h0.01M205.5 128.6h0.01M218.7 126.1h0.01M216.4 128.5h0.01M205.8 127.8h0.01M205.6 125.4h0.01M220.3 122.2h0.01M212.9 134h0.01M207.1 120.8h0.01M207.9 128.9h0.01M212.4 132.1h0.01M220.9 122h0.01M215.8 129.1h0.01M205.3 120.9h0.01M210.9 120.4h0.01M219 123.9h0.01M213 132h0.01M219.2 121.6h0.01M206.8 128.6h0.01M205 122h0.01M209.4 130.3h0.01M205.6 121.2h0.01M204.6 122.2h0.01M204.1 122.1h0.01M221.3 119.4h0.01M207.8 129.3h0.01M212.5 133.4h0.01M217.2 126.1h0.01M216.5 130.4h0.01M219.4 122.2h0.01M213.1 132.6h0.01M216.1 129h0.01M204.5 123.3h0.01M219.2 118.9h0.01" stroke="#3a3aa0" stroke-width="0.6" stroke-linecap="round" opacity="0.5"/><path d="M206.5 121 L220 120 L218 124 L215 130 L212 132.2 L207 128 L205 123.5Z" fill="#0c0c86" stroke="#0c0c86" stroke-width="1.2" stroke-linejoin="round" filter="url(#spk2)"/><path d="M186 113.4H249.6V153.5" fill="none" stroke="#6e6e6e" stroke-width="0.9"/><path d="M186 113.1V153.5H249.9" fill="none" stroke="#111" stroke-width="1.3"/><text x="183.8" y="154.5" font-size="2.9" text-anchor="end" font-family="Liberation Sans" fill="#3a3a3a" transform="rotate(-35 183.8 154.5)">10<tspan font-size="2" dy="-1.1">1</tspan></text><text x="183.8" y="144.5" font-size="2.9" text-anchor="end" font-family="Liberation Sans" fill="#3a3a3a" transform="rotate(-35 183.8 144.5)">10<tspan font-size="2" dy="-1.1">2</tspan></text><text x="183.8" y="134.4" font-size="2.9" text-anchor="end" font-family="Liberation Sans" fill="#3a3a3a" transform="rotate(-35 183.8 134.4)">10<tspan font-size="2" dy="-1.1">3</tspan></text><text x="183.8" y="124.4" font-size="2.9" text-anchor="end" font-family="Liberation Sans" fill="#3a3a3a" transform="rotate(-35 183.8 124.4)">10<tspan font-size="2" dy="-1.1">4</tspan></text><text x="183.8" y="114.4" font-size="2.9" text-anchor="end" font-family="Liberation Sans" fill="#3a3a3a" transform="rotate(-35 183.8 114.4)">10<tspan font-size="2" dy="-1.1">5</tspan></text><text x="187.6" y="157.7" font-size="2.9" text-anchor="end" font-family="Liberation Sans" fill="#3a3a3a" transform="rotate(-35 187.6 157.7)">10<tspan font-size="2" dy="-1.1">0</tspan></text><text x="200.3" y="157.7" font-size="2.9" text-anchor="end" font-family="Liberation Sans" fill="#3a3a3a" transform="rotate(-35 200.3 157.7)">10<tspan font-size="2" dy="-1.1">1</tspan></text><text x="213" y="157.7" font-size="2.9" text-anchor="end" font-family="Liberation Sans" fill="#3a3a3a" transform="rotate(-35 213 157.7)">10<tspan font-size="2" dy="-1.1">2</tspan></text><text x="225.8" y="157.7" font-size="2.9" text-anchor="end" font-family="Liberation Sans" fill="#3a3a3a" transform="rotate(-35 225.8 157.7)">10<tspan font-size="2" dy="-1.1">3</tspan></text><text x="238.5" y="157.7" font-size="2.9" text-anchor="end" font-family="Liberation Sans" fill="#3a3a3a" transform="rotate(-35 238.5 157.7)">10<tspan font-size="2" dy="-1.1">4</tspan></text><text x="251.2" y="157.7" font-size="2.9" text-anchor="end" font-family="Liberation Sans" fill="#3a3a3a" transform="rotate(-35 251.2 157.7)">10<tspan font-size="2" dy="-1.1">5</tspan></text><text x="180.8" y="133.4" font-size="4.4" text-anchor="middle" font-family="Liberation Sans" fill="#555" transform="rotate(-90 180.8 133.4)">APC-A</text><text x="217.8" y="162.3" font-size="4.4" text-anchor="middle" font-family="Liberation Sans" fill="#555">PE-A</text><text x="187.3" y="119.1" font-size="4.5" text-anchor="start" font-family="Liberation Sans" fill="#333" >54.66%</text><text x="236.8" y="119.1" font-size="4.5" text-anchor="start" font-family="Liberation Sans" fill="#333" >42.66%</text><text x="187.3" y="150.5" font-size="4.5" text-anchor="start" font-family="Liberation Sans" fill="#333" >2.42%</text><text x="236.8" y="150.5" font-size="4.5" text-anchor="start" font-family="Liberation Sans" fill="#333" >0.27%</text><ellipse cx="242.5" cy="117" rx="13.3" ry="6.7" fill="none" stroke="#a82828" stroke-width="1.25"/><text x="301.3" y="106.8" font-size="5.6" text-anchor="middle" font-family="Liberation Serif" font-weight="bold" fill="#000" >KMS11</text><path d="M273 139.6H328M303 139.6V154.5" stroke="#5a5a5a" stroke-width="0.75" fill="none"/><path d="M294.1 144h0.01M292.3 141.4h0.01M294 149h0.01M289.8 149.7h0.01M295.4 148.9h0.01M295 138.3h0.01M296.8 143h0.01M293.3 144.8h0.01M293.9 142.3h0.01M295.1 148.6h0.01M287.3 142.8h0.01M288.8 143.1h0.01M286.4 147.6h0.01M295.9 144.8h0.01M285.5 145.4h0.01M291 142.7h0.01M289.4 145h0.01M286.2 143.9h0.01M290.1 142.4h0.01M288.9 142.4h0.01M285.3 144.8h0.01M288.6 138.9h0.01M289.4 142.8h0.01M294.4 145.7h0.01M294.1 149.2h0.01M288.6 139.6h0.01M296.8 148.9h0.01M291.1 140.5h0.01M297 140.4h0.01M292.6 149h0.01M298.6 145.3h0.01M287.7 147.4h0.01M289.8 141.3h0.01M292 147.6h0.01M290.8 145.6h0.01M290.7 144.6h0.01M287.7 140.2h0.01M291.2 149.2h0.01M288.3 149.1h0.01M291.2 138.9h0.01M286 146.4h0.01M296.1 144.8h0.01M293.3 149.8h0.01M296 140h0.01M295.4 142.5h0.01M289.2 146.1h0.01M292.3 142.5h0.01M288 139.7h0.01M289 145.3h0.01M288.3 141.2h0.01M288 145.6h0.01M297.9 144h0.01M288.4 141.2h0.01M294.4 143.3h0.01M289.5 144.6h0.01M287.6 141.4h0.01M297.9 140.2h0.01M293.7 147.6h0.01M297.4 146.4h0.01M293 147.3h0.01M287.6 142.8h0.01M292.3 146.1h0.01M294.6 139.8h0.01M293.9 145.7h0.01M297.7 145.8h0.01M291.2 138.8h0.01M290.8 142.1h0.01M286.9 141.9h0.01M292.2 142.6h0.01M296.2 139h0.01M287.7 147.6h0.01M290.3 138.2h0.01M289.2 140.9h0.01M291.1 137.2h0.01M292.8 143.7h0.01M295.9 144.8h0.01M292.2 147.9h0.01M295.7 143.4h0.01M294.1 146.8h0.01M285.8 146.7h0.01" stroke="#4a4aa0" stroke-width="0.7" stroke-linecap="round" opacity="0.45"/><path d="M289 130 L295 124 L300 140 L297 150 L290 150 L287 142Z" fill="#3a3aa2" stroke="#3a3aa2" stroke-width="1" stroke-linejoin="round" opacity="0.62" filter="url(#b1)"/><path d="M299.5 121.5 L307.5 120.5 L308.5 124 L305 132 L302 140 L299 147 L295 146.5 L292.5 137 L293 129.5Z" fill="#3a3aa6" stroke="#3a3aa6" stroke-width="5" stroke-linejoin="round" filter="url(#spk1)"/><path d="M306.6 132.3h0.01M301.8 118.7h0.01M304.6 118.9h0.01M304.9 135.8h0.01M308.8 122.4h0.01M300.2 146.6h0.01M306.8 127.9h0.01M310.9 123.6h0.01M291.9 133.7h0.01M298.4 147h0.01M303.8 135.3h0.01M295.2 147.7h0.01M298.8 148h0.01M301.4 144.8h0.01M293.5 127.4h0.01M295.1 125.6h0.01M302.5 138.9h0.01M292.2 138.4h0.01M292.6 133.9h0.01M296.7 147.7h0.01M309 124.5h0.01M292.2 131.8h0.01M303.2 142.5h0.01M292.8 138.5h0.01M292.6 130.3h0.01M291.8 137h0.01M298.7 122.3h0.01M308.2 130.8h0.01M301.7 120.5h0.01M293.5 145.4h0.01M299.6 146.8h0.01M293.7 142.3h0.01M292.2 137.6h0.01M298.6 122.1h0.01M293.6 128.3h0.01M304.3 135.3h0.01M304.7 137.1h0.01M297.6 122.7h0.01M293.7 144.3h0.01M307.5 127.4h0.01M291.8 133.6h0.01M303.5 137.6h0.01M297.4 147.3h0.01M306.3 130.9h0.01M305.7 131.4h0.01M297.8 149.7h0.01M304.2 138h0.01M294.1 144.2h0.01M294.1 126.7h0.01M300.2 146.8h0.01M293.1 123.8h0.01M303.3 120.9h0.01M309.5 120.7h0.01M306.7 119.2h0.01M295.4 123.3h0.01M292.8 139.7h0.01M298.4 147.3h0.01M291.3 135h0.01M301.6 141.4h0.01M297.3 124.2h0.01M300.7 144.3h0.01M301.2 143.6h0.01M302.6 141.2h0.01M292.7 147.1h0.01M300.8 145.2h0.01M304.1 134.9h0.01M299.3 121.4h0.01M308.8 119.5h0.01M294.3 150.1h0.01M305.1 133.9h0.01M303.4 137h0.01M305.1 134.2h0.01M304.6 133.2h0.01M308.9 125.2h0.01M295 126.8h0.01M295.8 147.2h0.01M298.4 147.2h0.01M299.4 121.3h0.01M309.4 123.2h0.01M302.9 120.9h0.01M292.3 131.8h0.01M307.2 128.3h0.01M291.7 134h0.01M300.7 144.9h0.01M308.1 120.5h0.01M300.5 144.5h0.01M306 135.5h0.01M308.9 123.2h0.01M301.4 148.2h0.01M297.4 122.9h0.01M306.9 128.7h0.01M298.3 122.3h0.01M306.3 133.2h0.01M297.9 122.5h0.01M292.1 134.8h0.01M299.8 121.3h0.01M304.6 136.8h0.01M307 127.6h0.01M294.1 126h0.01M309 122.2h0.01M295.7 124.9h0.01M292.3 139.1h0.01M305.4 131.3h0.01M304.4 134.1h0.01M299.4 119.9h0.01M300.6 144.9h0.01M297.6 146.9h0.01M292.2 130.6h0.01M299.7 147.2h0.01M293.4 148.6h0.01M297.5 146.9h0.01M308.7 128.5h0.01M292.9 127.9h0.01M307.9 120.8h0.01M291.7 135.7h0.01M301.5 143h0.01M295.8 147.4h0.01M293.2 129.1h0.01M304.1 135.7h0.01M309.6 122.1h0.01M302.2 139.9h0.01M295.6 126h0.01M296 125.6h0.01M293.9 144.8h0.01M306.2 119.2h0.01M293.9 144.9h0.01M306.2 130.8h0.01M296.5 124.5h0.01M291.1 136.7h0.01M292.6 132.4h0.01M302.5 138.6h0.01M303.7 120.9h0.01M290.1 131.2h0.01M306.4 128.9h0.01M292.4 137.8h0.01M300 145.7h0.01M304.2 137.5h0.01M291.5 128h0.01M292.2 138.2h0.01M301.1 143h0.01M299.3 148.6h0.01M293.7 126.7h0.01M308 126.2h0.01M292.4 135.9h0.01M301.4 145h0.01M298.8 122.1h0.01M307.9 129.2h0.01M308.9 128.2h0.01M292.8 132.2h0.01M308.1 121.2h0.01M299.3 146.4h0.01M304.9 134.7h0.01M292.6 133.2h0.01M300.3 145.8h0.01M303.2 137h0.01M307.1 130.3h0.01M292.4 131.8h0.01M292.7 138.9h0.01M300.7 148h0.01M309.5 125.1h0.01M306.5 128.7h0.01M304.1 142.4h0.01M292.4 137.8h0.01M299.5 145.8h0.01M307.1 127.5h0.01M301.3 146.6h0.01M307 136.7h0.01M308.5 123.9h0.01M304.1 120.8h0.01M297.3 147.6h0.01M302.6 138.7h0.01M309.3 121.4h0.01M292.9 140h0.01M291.1 136.7h0.01M292.1 132.7h0.01M292.7 134.5h0.01M302.4 140.4h0.01M304.1 141.8h0.01M300.2 149h0.01M299.3 146.7h0.01M307.5 120.3h0.01M304.7 134.4h0.01M298.1 147.1h0.01M310.6 124.8h0.01M300.1 145.5h0.01M298.9 121.7h0.01M308.9 122.7h0.01M292.6 129.6h0.01M305.6 131.4h0.01M302.8 138.5h0.01M300.9 143h0.01M299.3 147.1h0.01M293.9 128.2h0.01M298.2 122.4h0.01M305.2 120.5h0.01M291.5 128h0.01M305.4 131.6h0.01M300.8 121h0.01M309.7 123.3h0.01M307.1 128.3h0.01M292.9 139h0.01M292.6 129.5h0.01M303.4 136.7h0.01M307.1 129.1h0.01M292.2 135h0.01M300.5 144.5h0.01M306.7 118.4h0.01M290.5 138.4h0.01M292.6 138.9h0.01M301.5 145.6h0.01M299.9 148.5h0.01M308.6 121.1h0.01M306.7 119.1h0.01M290.1 135.1h0.01M290.8 128.4h0.01M300.1 121.1h0.01M307.8 121.1h0.01M295.1 125.6h0.01M305.5 120.7h0.01M302.9 140.4h0.01M308.7 128.3h0.01M308.6 128.3h0.01M300.8 146h0.01M293.5 141.2h0.01M310 119.6h0.01M310.5 123.7h0.01M292.7 133.1h0.01M293.1 146.7h0.01M304.1 135.3h0.01M308.3 121.3h0.01M307.8 119.5h0.01M300 146.6h0.01M292.7 139.2h0.01M307.2 119.2h0.01M292.7 133.3h0.01M302.3 142.6h0.01M292.3 145.4h0.01M298 123.1h0.01M292 137.8h0.01M298.4 122.5h0.01M291.7 137.4h0.01M294.1 147.6h0.01M294.6 146.1h0.01M306.3 133.2h0.01M301.5 147.8h0.01M304.1 138.2h0.01M300.3 144.2h0.01M305.9 132.7h0.01M304.7 132.8h0.01M304.2 135.3h0.01M304.7 119.5h0.01M291.4 128.8h0.01M308.9 123.8h0.01M307.3 130.6h0.01M297.6 123.4h0.01M291.3 138.1h0.01M291.5 131.4h0.01M299.5 121.4h0.01M294.5 145.9h0.01M300.3 144.2h0.01" stroke="#3a3aa0" stroke-width="0.6" stroke-linecap="round" opacity="0.5"/><path d="M299.5 121.5 L307.5 120.5 L308.5 124 L305 132 L302 140 L299 147 L295 146.5 L292.5 137 L293 129.5Z" fill="#0c0c86" stroke="#0c0c86" stroke-width="1.2" stroke-linejoin="round" filter="url(#spk2)"/><path d="M273 113.4H335.8V154.5" fill="none" stroke="#6e6e6e" stroke-width="0.9"/><path d="M273 113.1V154.5H336.1" fill="none" stroke="#111" stroke-width="1.3"/><text x="270.8" y="155.5" font-size="2.9" text-anchor="end" font-family="Liberation Sans" fill="#3a3a3a" transform="rotate(-35 270.8 155.5)">10<tspan font-size="2" dy="-1.1">1</tspan></text><text x="270.8" y="145.2" font-size="2.9" text-anchor="end" font-family="Liberation Sans" fill="#3a3a3a" transform="rotate(-35 270.8 145.2)">10<tspan font-size="2" dy="-1.1">2</tspan></text><text x="270.8" y="134.9" font-size="2.9" text-anchor="end" font-family="Liberation Sans" fill="#3a3a3a" transform="rotate(-35 270.8 134.9)">10<tspan font-size="2" dy="-1.1">3</tspan></text><text x="270.8" y="124.7" font-size="2.9" text-anchor="end" font-family="Liberation Sans" fill="#3a3a3a" transform="rotate(-35 270.8 124.7)">10<tspan font-size="2" dy="-1.1">4</tspan></text><text x="270.8" y="114.4" font-size="2.9" text-anchor="end" font-family="Liberation Sans" fill="#3a3a3a" transform="rotate(-35 270.8 114.4)">10<tspan font-size="2" dy="-1.1">5</tspan></text><text x="274.6" y="158.7" font-size="2.9" text-anchor="end" font-family="Liberation Sans" fill="#3a3a3a" transform="rotate(-35 274.6 158.7)">10<tspan font-size="2" dy="-1.1">0</tspan></text><text x="287.2" y="158.7" font-size="2.9" text-anchor="end" font-family="Liberation Sans" fill="#3a3a3a" transform="rotate(-35 287.2 158.7)">10<tspan font-size="2" dy="-1.1">1</tspan></text><text x="299.7" y="158.7" font-size="2.9" text-anchor="end" font-family="Liberation Sans" fill="#3a3a3a" transform="rotate(-35 299.7 158.7)">10<tspan font-size="2" dy="-1.1">2</tspan></text><text x="312.3" y="158.7" font-size="2.9" text-anchor="end" font-family="Liberation Sans" fill="#3a3a3a" transform="rotate(-35 312.3 158.7)">10<tspan font-size="2" dy="-1.1">3</tspan></text><text x="324.8" y="158.7" font-size="2.9" text-anchor="end" font-family="Liberation Sans" fill="#3a3a3a" transform="rotate(-35 324.8 158.7)">10<tspan font-size="2" dy="-1.1">4</tspan></text><text x="337.4" y="158.7" font-size="2.9" text-anchor="end" font-family="Liberation Sans" fill="#3a3a3a" transform="rotate(-35 337.4 158.7)">10<tspan font-size="2" dy="-1.1">5</tspan></text><text x="267.8" y="133.9" font-size="4.4" text-anchor="middle" font-family="Liberation Sans" fill="#555" transform="rotate(-90 267.8 133.9)">APC-A</text><text x="304.4" y="163.3" font-size="4.4" text-anchor="middle" font-family="Liberation Sans" fill="#555">PE-A</text><text x="274.3" y="119.1" font-size="4.5" text-anchor="start" font-family="Liberation Sans" fill="#333" >75.72%</text><text x="323" y="119.1" font-size="4.5" text-anchor="start" font-family="Liberation Sans" fill="#333" >11.52%</text><text x="274.3" y="151.5" font-size="4.5" text-anchor="start" font-family="Liberation Sans" fill="#333" >12.50%</text><text x="323" y="151.5" font-size="4.5" text-anchor="start" font-family="Liberation Sans" fill="#333" >0.25%</text><ellipse cx="324.8" cy="117" rx="13.6" ry="6.7" fill="none" stroke="#a82828" stroke-width="1.25"/><text x="389" y="106.8" font-size="5.6" text-anchor="middle" font-family="Liberation Serif" font-weight="bold" fill="#000" >S6B45</text><path d="M358.6 139H414.6M385.7 119.2V153.6" stroke="#5a5a5a" stroke-width="0.75" fill="none"/><path d="M373.8 122.4h0.01M377.1 127.3h0.01M382.6 124.7h0.01M370.8 125h0.01M369.2 128.8h0.01M371.1 125.2h0.01M383.7 132.5h0.01M385.8 130.6h0.01M383.6 127.9h0.01M374.5 127h0.01M381.1 120h0.01M371.8 130.3h0.01M369.9 124.5h0.01M386 131.7h0.01M374.9 134.3h0.01M369.8 129h0.01M375.1 125.8h0.01M372.9 128.8h0.01M382.4 130.8h0.01M384 125.1h0.01M375.1 135.6h0.01M386.4 128.9h0.01M377.8 131.5h0.01M385.8 124.2h0.01M372.2 121.4h0.01M381.3 130h0.01M379.4 127.7h0.01M385.4 126.8h0.01M374.9 125.8h0.01M378.4 125.7h0.01M377.9 127.4h0.01M382.4 121.7h0.01M378.5 122.4h0.01M378.1 131.4h0.01M376.7 120.9h0.01M383.6 125.2h0.01M371.3 129.4h0.01M374 134h0.01M373.2 124.5h0.01M377.4 123.6h0.01M374.8 121.9h0.01M380 121.4h0.01M385.2 126.6h0.01M372.5 133h0.01M378.5 136.3h0.01M378.2 132h0.01M374 125.4h0.01M374.4 123.4h0.01M382.2 127.8h0.01M375.2 134.6h0.01" stroke="#8a8ab0" stroke-width="0.7" stroke-linecap="round" opacity="0.5"/><path d="M389.8 146.6h0.01M391.6 146h0.01M388.2 149.2h0.01M387.7 146.6h0.01M386.7 147.8h0.01M390.7 143.4h0.01M390.6 142.5h0.01M388.7 143.5h0.01M383.5 148.8h0.01M390.1 144.9h0.01M391.2 143.3h0.01M391.9 145h0.01M387.1 144.2h0.01M394.2 144.7h0.01M385 149.5h0.01M388.6 145h0.01M387.4 147.6h0.01M384.6 148.8h0.01M386.5 143.7h0.01M383.2 146.8h0.01M387.4 143.2h0.01M388.5 146.1h0.01M382.7 147.1h0.01M389.3 148.5h0.01M385.2 143.7h0.01M391.4 145.8h0.01M386.6 144.6h0.01M388.4 149.9h0.01M388 143.6h0.01M391.6 146.6h0.01" stroke="#4a4aa0" stroke-width="0.7" stroke-linecap="round" opacity="0.45"/><path d="M377.5 146.5 L388 142 L392.5 140.5 L391 144 L385 150 L382.5 153 L379 153 L377 150Z" fill="#3a3aa6" stroke="#3a3aa6" stroke-width="5" stroke-linejoin="round" filter="url(#spk1)"/><path d="M393.3 144.5h0.01M376.2 147.9h0.01M384.7 152.3h0.01M377.3 151.1h0.01M392.1 141.9h0.01M379.4 153.1h0.01M390.6 141h0.01M388.4 140.6h0.01M376.3 150.9h0.01M382.1 144.4h0.01M378.9 145h0.01M378.8 154.7h0.01M380.9 153.1h0.01M376.5 147.1h0.01M374.7 147.8h0.01M392.6 141.5h0.01M375.6 149.5h0.01M380 153.7h0.01M384.3 155.5h0.01M385.6 149.8h0.01M388.6 149.1h0.01M388 141.7h0.01M393.1 140.8h0.01M388.9 149.3h0.01M383.9 151.8h0.01M390.9 145h0.01M376.8 143.1h0.01M380.9 155.4h0.01M392.1 142.3h0.01M380 145.1h0.01M388.8 147.5h0.01M379.4 153.5h0.01M375.4 145.3h0.01M383.1 141.4h0.01M387.2 140.3h0.01M376.9 145.9h0.01M389 146.2h0.01M377.3 146.5h0.01M382.2 144.1h0.01M375.5 146.2h0.01M378.6 152.9h0.01M376.6 148.7h0.01M387.4 140.7h0.01M379.6 145h0.01M382.7 153.4h0.01M384.2 141.6h0.01M390.4 138.7h0.01M392.8 140.1h0.01M394.7 139.7h0.01M385.5 151.7h0.01M376.6 148.9h0.01M385.3 142.5h0.01M379 145.8h0.01M385.6 151.8h0.01M388.4 141.4h0.01M392.7 144.9h0.01M390.1 140.4h0.01M389.2 149h0.01M385.8 142.8h0.01M389.8 140.9h0.01M392.1 138.9h0.01M377.1 152.1h0.01M385.4 141.4h0.01M388.1 149.4h0.01M390.4 144.8h0.01M391.9 140.6h0.01M384 143.7h0.01M385.9 150.7h0.01M376.7 147.2h0.01M375.5 146.8h0.01M380 142.2h0.01M379.5 143.9h0.01M375.1 150.7h0.01M384.4 151.8h0.01M375.2 144.9h0.01M385.7 142.9h0.01M378.4 146.1h0.01M378.5 144.3h0.01M383.3 152.4h0.01M382 153.3h0.01M385.1 149.9h0.01M392.7 139.6h0.01M383.5 141.2h0.01M388.4 139.9h0.01M377.3 145.3h0.01M375.6 150.9h0.01M392.9 140h0.01M381.6 153.1h0.01M386.7 141.5h0.01M383 142.3h0.01M386.8 148.3h0.01M381.5 153.3h0.01M381.6 154.1h0.01M381.1 153.6h0.01M386.5 148.7h0.01M377.3 153.9h0.01M376.2 148.7h0.01M383.6 153.3h0.01M380.4 143.7h0.01M376.2 146.1h0.01M377.1 151h0.01M385.4 142.1h0.01M394 142.7h0.01M386.2 142.2h0.01M385.1 143.2h0.01M386.7 142.1h0.01M377.2 148h0.01M378.1 145.5h0.01M385.1 143.1h0.01M392.4 141.2h0.01M388.6 146.6h0.01M385.8 153.6h0.01M385.6 142.8h0.01M376.2 151.9h0.01M392.4 147.8h0.01M384.8 150.5h0.01M379.7 144.5h0.01M376.6 148.2h0.01M390.7 145.7h0.01M383.1 152.6h0.01M385.5 140.8h0.01M387.1 140.7h0.01M387.3 148.8h0.01M387.4 141.7h0.01M380.2 154.6h0.01M382.3 154.6h0.01M388.2 141.8h0.01M378.6 153.5h0.01M381.4 144.4h0.01M384.6 154.8h0.01M393.2 142.1h0.01M391.6 140.6h0.01M382.8 143.9h0.01M392.2 140.5h0.01M389.7 141.4h0.01M384.9 150.5h0.01M383.4 154.2h0.01M396.4 139.9h0.01M382 154.7h0.01M377.4 146.1h0.01M386.2 142.6h0.01M380.3 145h0.01M389.7 145.7h0.01M383.7 153h0.01M381.5 143.8h0.01M392.6 141h0.01M392.2 141.3h0.01M387.4 148h0.01M384.2 152.5h0.01M376.9 153.8h0.01M386.5 151h0.01M382.1 144h0.01M385.9 150h0.01M393.4 140.3h0.01M384.1 153.9h0.01M389.7 141.4h0.01M392.2 140.5h0.01M382.7 155.4h0.01M391.6 143.4h0.01M389.3 146.7h0.01M382.5 153.3h0.01M377.9 151.8h0.01M390.5 144.9h0.01M386.6 149h0.01M376.7 151.9h0.01M381.6 143.6h0.01M383.4 143.9h0.01M377.7 153.4h0.01M392.1 144.9h0.01M378.9 153.1h0.01M377.9 152h0.01M381.1 143.5h0.01M381.3 142.6h0.01M379.9 144.9h0.01M376.2 151.9h0.01M375.2 149.3h0.01M378.2 152.6h0.01M391.6 138.5h0.01M392.8 141h0.01M381.5 155.3h0.01M382.1 142.4h0.01M392.5 142.3h0.01M376.7 148.1h0.01M385.4 142.6h0.01M390 141.1h0.01M387.8 148h0.01M377.9 154.5h0.01M385.2 152h0.01M389.9 145.3h0.01M383.4 154.5h0.01M382.7 144.1h0.01M377.8 146.1h0.01M390.9 140.4h0.01M376.4 146.3h0.01M374.8 146.1h0.01M376 150.6h0.01M383.9 151.3h0.01M380.4 142h0.01M383 152.7h0.01M378.1 144.4h0.01M382.4 153.8h0.01M378 146.1h0.01M379.8 144.4h0.01M386.7 138.6h0.01M376.9 150.3h0.01M377.3 152.1h0.01M377.3 147.1h0.01M379.4 153.2h0.01M389.1 141.4h0.01M377.9 153.9h0.01M392.3 143.2h0.01M389.5 145.5h0.01M388.4 147.1h0.01M390.3 140.4h0.01M377.1 150.2h0.01M390.5 141h0.01M385.3 142.2h0.01M387.8 141.7h0.01M394.2 140.7h0.01M377.4 146.2h0.01M380.7 144.8h0.01M390.9 140.8h0.01M385.6 149.9h0.01M379.5 153.7h0.01M377.1 150.5h0.01M385 141.9h0.01M388.3 147.1h0.01M391.4 140.8h0.01M386.3 142.5h0.01M387.6 147.5h0.01M384 151.2h0.01M391.2 139.9h0.01M387.5 148.5h0.01M391.7 142.7h0.01M390.1 150.2h0.01M376.2 148.4h0.01M377.1 149.1h0.01M383.9 141.5h0.01M385.2 142.8h0.01M391.1 146.5h0.01M388.5 147.2h0.01M386.1 142.1h0.01M383 144h0.01M392.3 141.1h0.01M387.2 148.6h0.01M386.4 142.5h0.01M385.1 142.9h0.01M383.3 155.8h0.01M376.7 148.8h0.01M377.3 146.8h0.01M385.5 151.3h0.01M377.5 152.7h0.01M387.1 141.5h0.01M382.2 142.1h0.01M385 142.7h0.01M380.5 145.1h0.01M388.7 140.7h0.01M386.2 142.7h0.01M388.6 148.5h0.01M388.8 147.1h0.01" stroke="#3a3aa0" stroke-width="0.6" stroke-linecap="round" opacity="0.5"/><path d="M377.5 146.5 L388 142 L392.5 140.5 L391 144 L385 150 L382.5 153 L379 153 L377 150Z" fill="#0c0c86" stroke="#0c0c86" stroke-width="1.2" stroke-linejoin="round" filter="url(#spk2)"/><path d="M358.6 113H422.5V153.6" fill="none" stroke="#6e6e6e" stroke-width="0.9"/><path d="M358.6 112.7V153.6H422.8" fill="none" stroke="#111" stroke-width="1.3"/><text x="356.4" y="154.6" font-size="2.9" text-anchor="end" font-family="Liberation Sans" fill="#3a3a3a" transform="rotate(-35 356.4 154.6)">10<tspan font-size="2" dy="-1.1">1</tspan></text><text x="356.4" y="144.4" font-size="2.9" text-anchor="end" font-family="Liberation Sans" fill="#3a3a3a" transform="rotate(-35 356.4 144.4)">10<tspan font-size="2" dy="-1.1">2</tspan></text><text x="356.4" y="134.3" font-size="2.9" text-anchor="end" font-family="Liberation Sans" fill="#3a3a3a" transform="rotate(-35 356.4 134.3)">10<tspan font-size="2" dy="-1.1">3</tspan></text><text x="356.4" y="124.2" font-size="2.9" text-anchor="end" font-family="Liberation Sans" fill="#3a3a3a" transform="rotate(-35 356.4 124.2)">10<tspan font-size="2" dy="-1.1">4</tspan></text><text x="356.4" y="114" font-size="2.9" text-anchor="end" font-family="Liberation Sans" fill="#3a3a3a" transform="rotate(-35 356.4 114)">10<tspan font-size="2" dy="-1.1">5</tspan></text><text x="360.2" y="157.8" font-size="2.9" text-anchor="end" font-family="Liberation Sans" fill="#3a3a3a" transform="rotate(-35 360.2 157.8)">10<tspan font-size="2" dy="-1.1">0</tspan></text><text x="373" y="157.8" font-size="2.9" text-anchor="end" font-family="Liberation Sans" fill="#3a3a3a" transform="rotate(-35 373 157.8)">10<tspan font-size="2" dy="-1.1">1</tspan></text><text x="385.8" y="157.8" font-size="2.9" text-anchor="end" font-family="Liberation Sans" fill="#3a3a3a" transform="rotate(-35 385.8 157.8)">10<tspan font-size="2" dy="-1.1">2</tspan></text><text x="398.5" y="157.8" font-size="2.9" text-anchor="end" font-family="Liberation Sans" fill="#3a3a3a" transform="rotate(-35 398.5 157.8)">10<tspan font-size="2" dy="-1.1">3</tspan></text><text x="411.3" y="157.8" font-size="2.9" text-anchor="end" font-family="Liberation Sans" fill="#3a3a3a" transform="rotate(-35 411.3 157.8)">10<tspan font-size="2" dy="-1.1">4</tspan></text><text x="424.1" y="157.8" font-size="2.9" text-anchor="end" font-family="Liberation Sans" fill="#3a3a3a" transform="rotate(-35 424.1 157.8)">10<tspan font-size="2" dy="-1.1">5</tspan></text><text x="353.4" y="133.3" font-size="4.4" text-anchor="middle" font-family="Liberation Sans" fill="#555" transform="rotate(-90 353.4 133.3)">APC-A</text><text x="390.6" y="162.4" font-size="4.4" text-anchor="middle" font-family="Liberation Sans" fill="#555">PE-A</text><text x="359.9" y="118.7" font-size="4.5" text-anchor="start" font-family="Liberation Sans" fill="#333" >1.09%</text><text x="409.7" y="118.7" font-size="4.5" text-anchor="start" font-family="Liberation Sans" fill="#333" >0.20%</text><text x="359.9" y="150.6" font-size="4.5" text-anchor="start" font-family="Liberation Sans" fill="#333" >79.24%</text><text x="409.7" y="150.6" font-size="4.5" text-anchor="start" font-family="Liberation Sans" fill="#333" >19.42%</text><ellipse cx="420.6" cy="147" rx="13.3" ry="6.5" fill="none" stroke="#a82828" stroke-width="1.25"/><text x="127.6" y="110.6" font-size="2.6" text-anchor="start" font-family="Liberation Sans" fill="#9a9a9a" >Lab: 2014-1120</text><text x="66.2" y="214.4" font-size="5.6" text-anchor="middle" font-family="Liberation Serif" font-weight="bold" fill="#000" >U266</text><path d="M31.5 252.4 L31.5 248 L32 247.7 L32.5 245.4 L33 245.4 L33.5 246.2 L34 241.7 L34.5 242.9 L35 240.7 L35.5 242.3 L36 239.8 L36.5 236.6 L37 233.1 L37.5 236.9 L38 229.6 L38.5 227.8 L39 227 L39.5 224.5 L40 231.9 L40.5 227 L41 223.5 L41.5 221.9 L42 219 L42.5 225.4 L43 224.4 L43.5 226.8 L44 221.2 L44.5 224.8 L45 231.5 L45.5 227.7 L46 231.7 L46.5 238 L47 241.1 L47.5 238.7 L48 244.2 L48.5 243.1 L49 245.5 L49.5 248.3 L50 249.4 L50 252.4Z" fill="#8c8c8c" stroke="#a0a0a0" stroke-width="0.4" stroke-linejoin="round"/><path d="M46.7 218V252.4" stroke="#9a9a9a" stroke-width="0.6"/><path d="M54 252.4 L54 249.9 L54.5 249.4 L55 248.6 L55.5 247.8 L56 247.2 L56.5 245.9 L57 244.8 L57.5 244.1 L58 242.4 L58.5 241.2 L59 239.8 L59.5 238 L60 236.2 L60.5 233.6 L61 232.4 L61.5 229.9 L62 229.3 L62.5 228.9 L63 227.3 L63.5 227.6 L64 228.3 L64.5 229.8 L65 231 L65.5 232.5 L66 233.7 L66.5 234.7 L67 237.2 L67.5 238.3 L68 239.6 L68.5 241.4 L69 242.6 L69.5 243.3 L70 244.9 L70.5 245.4 L71 246.5 L71.5 247.5 L72 248 L72.5 248.9 L73 249.5 L73.5 249.8 L73.5 252.4Z" fill="#8a1a8c" stroke="#6a006a" stroke-width="0.5" opacity="0.95"/><path d="M53.8 231.8H95.2" stroke="#8b2020" stroke-width="1.2"/><path d="M53.8 229.8V233.8M95.2 229.8V233.8" stroke="#5a1010" stroke-width="1.1"/><path d="M30 217H95.8V253" fill="none" stroke="#6e6e6e" stroke-width="0.9"/><path d="M30 216.7V253H96.1" fill="none" stroke="#111" stroke-width="1.3"/><text x="28.4" y="253" font-size="3.2" text-anchor="middle" font-family="Liberation Sans" fill="#444" transform="rotate(-90 28.4 253)">0</text><text x="28.4" y="244" font-size="3.2" text-anchor="middle" font-family="Liberation Sans" fill="#444" transform="rotate(-90 28.4 244)">8</text><text x="28.4" y="235" font-size="3.2" text-anchor="middle" font-family="Liberation Sans" fill="#444" transform="rotate(-90 28.4 235)">16</text><text x="28.4" y="226" font-size="3.2" text-anchor="middle" font-family="Liberation Sans" fill="#444" transform="rotate(-90 28.4 226)">24</text><text x="28.4" y="217" font-size="3.2" text-anchor="middle" font-family="Liberation Sans" fill="#444" transform="rotate(-90 28.4 217)">32</text><text x="30.6" y="259.4" font-size="3.1" text-anchor="middle" font-family="Liberation Sans" fill="#444" transform="rotate(-20 30.6 259.4)">10<tspan font-size="2.2" dy="-1.2">0</tspan></text><text x="47.1" y="259.4" font-size="3.1" text-anchor="middle" font-family="Liberation Sans" fill="#444" transform="rotate(-20 47.1 259.4)">10<tspan font-size="2.2" dy="-1.2">1</tspan></text><text x="63.5" y="259.4" font-size="3.1" text-anchor="middle" font-family="Liberation Sans" fill="#444" transform="rotate(-20 63.5 259.4)">10<tspan font-size="2.2" dy="-1.2">2</tspan></text><text x="79.9" y="259.4" font-size="3.1" text-anchor="middle" font-family="Liberation Sans" fill="#444" transform="rotate(-20 79.9 259.4)">10<tspan font-size="2.2" dy="-1.2">3</tspan></text><text x="96.4" y="259.4" font-size="3.1" text-anchor="middle" font-family="Liberation Sans" fill="#444" transform="rotate(-20 96.4 259.4)">10<tspan font-size="2.2" dy="-1.2">4</tspan></text><text x="23" y="237" font-size="4.9" text-anchor="middle" font-family="Liberation Sans" fill="#333" transform="rotate(-90 23 237)">Count</text><text x="62.9" y="264.6" font-size="4" text-anchor="middle" font-family="Liberation Sans" fill="#222">FITC-A</text><text x="92.8" y="221.3" font-size="4.6" text-anchor="end" font-family="Liberation Sans" fill="#222" >92.98</text><text x="92.8" y="227.7" font-size="4.6" text-anchor="end" font-family="Liberation Sans" fill="#222" >92.09</text><text x="141" y="215.4" font-size="5.6" text-anchor="middle" font-family="Liberation Serif" font-weight="bold" fill="#000" >OPM1</text><path d="M113 252.3 L113 248.5 L113.5 248 L114 248.6 L114.5 246.4 L115 247.1 L115.5 244.1 L116 244 L116.5 243.8 L117 241.2 L117.5 241.1 L118 239 L118.5 239.3 L119 238.9 L119.5 238.3 L120 237.2 L120.5 234.2 L121 234.5 L121.5 236.7 L122 234.4 L122.5 228.6 L123 228.3 L123.5 225.7 L124 224.5 L124.5 232.8 L125 232.7 L125.5 225.8 L126 229 L126.5 234.7 L127 232.7 L127.5 236 L128 242.3 L128.5 242.8 L129 243.7 L129.5 246.1 L130 247.5 L130.5 248.4 L131 249.1 L131.5 249.4 L131.5 252.3Z" fill="#8c8c8c" stroke="#a0a0a0" stroke-width="0.4" stroke-linejoin="round"/><path d="M127.5 218.3V252.3" stroke="#9a9a9a" stroke-width="0.6"/><path d="M136.5 252.3 L136.5 249.8 L137 249.2 L137.5 248.6 L138 247.7 L138.5 247 L139 245.7 L139.5 244.7 L140 242.9 L140.5 241.6 L141 239.8 L141.5 238 L142 237.2 L142.5 235.1 L143 233.4 L143.5 231.1 L144 229.9 L144.5 228.8 L145 227.7 L145.5 226.2 L146 227.3 L146.5 229 L147 229.6 L147.5 231.4 L148 233.6 L148.5 235.6 L149 236.6 L149.5 237.6 L150 240.4 L150.5 241 L151 242.7 L151.5 243.7 L152 245 L152.5 246.1 L153 247.3 L153.5 248.1 L154 248.8 L154.5 249.2 L155 249.9 L155 252.3Z" fill="#8a1a8c" stroke="#6a006a" stroke-width="0.5" opacity="0.95"/><path d="M135.2 231.7H175.6" stroke="#8b2020" stroke-width="1.2"/><path d="M135.2 229.7V233.7M175.6 229.7V233.7" stroke="#5a1010" stroke-width="1.1"/><path d="M111.2 217.3H176.2V252.9" fill="none" stroke="#6e6e6e" stroke-width="0.9"/><path d="M111.2 217V252.9H176.5" fill="none" stroke="#111" stroke-width="1.3"/><text x="109.6" y="252.9" font-size="3.2" text-anchor="middle" font-family="Liberation Sans" fill="#444" transform="rotate(-90 109.6 252.9)">0</text><text x="109.6" y="244" font-size="3.2" text-anchor="middle" font-family="Liberation Sans" fill="#444" transform="rotate(-90 109.6 244)">8</text><text x="109.6" y="235.1" font-size="3.2" text-anchor="middle" font-family="Liberation Sans" fill="#444" transform="rotate(-90 109.6 235.1)">16</text><text x="109.6" y="226.2" font-size="3.2" text-anchor="middle" font-family="Liberation Sans" fill="#444" transform="rotate(-90 109.6 226.2)">24</text><text x="109.6" y="217.3" font-size="3.2" text-anchor="middle" font-family="Liberation Sans" fill="#444" transform="rotate(-90 109.6 217.3)">32</text><text x="111.8" y="259.3" font-size="3.1" text-anchor="middle" font-family="Liberation Sans" fill="#444" transform="rotate(-20 111.8 259.3)">10<tspan font-size="2.2" dy="-1.2">0</tspan></text><text x="128.1" y="259.3" font-size="3.1" text-anchor="middle" font-family="Liberation Sans" fill="#444" transform="rotate(-20 128.1 259.3)">10<tspan font-size="2.2" dy="-1.2">1</tspan></text><text x="144.3" y="259.3" font-size="3.1" text-anchor="middle" font-family="Liberation Sans" fill="#444" transform="rotate(-20 144.3 259.3)">10<tspan font-size="2.2" dy="-1.2">2</tspan></text><text x="160.5" y="259.3" font-size="3.1" text-anchor="middle" font-family="Liberation Sans" fill="#444" transform="rotate(-20 160.5 259.3)">10<tspan font-size="2.2" dy="-1.2">3</tspan></text><text x="176.8" y="259.3" font-size="3.1" text-anchor="middle" font-family="Liberation Sans" fill="#444" transform="rotate(-20 176.8 259.3)">10<tspan font-size="2.2" dy="-1.2">4</tspan></text><text x="104.2" y="237.1" font-size="4.9" text-anchor="middle" font-family="Liberation Sans" fill="#333" transform="rotate(-90 104.2 237.1)">Count</text><text x="143.7" y="264.5" font-size="4" text-anchor="middle" font-family="Liberation Sans" fill="#222">FITC-A</text><text x="173.2" y="221.6" font-size="4.6" text-anchor="end" font-family="Liberation Sans" fill="#222" >95.93</text><text x="173.2" y="228" font-size="4.6" text-anchor="end" font-family="Liberation Sans" fill="#222" >95.02</text><text x="221" y="214.9" font-size="5.6" text-anchor="middle" font-family="Liberation Serif" font-weight="bold" fill="#000" >OPM2</text><path d="M196 252.5 L196 248.6 L196.5 248.9 L197 247.6 L197.5 247.1 L198 247.3 L198.5 245.3 L199 243.3 L199.5 242.1 L200 241.5 L200.5 243.9 L201 240.6 L201.5 240.7 L202 237.8 L202.5 238.6 L203 238.2 L203.5 235.5 L204 229.9 L204.5 233.3 L205 232.3 L205.5 226.7 L206 233.1 L206.5 232.9 L207 226.4 L207.5 222.9 L208 231.3 L208.5 226.3 L209 228 L209.5 234.9 L210 227 L210.5 231.3 L211 233.3 L211.5 234.1 L212 234.8 L212.5 236.5 L213 237.2 L213.5 240.6 L214 238.7 L214.5 242.4 L215 244.4 L215.5 243.4 L216 244.3 L216.5 245.2 L217 247.1 L217.5 248.1 L218 248.1 L218.5 248.6 L219 250 L219 252.5Z" fill="#8c8c8c" stroke="#a0a0a0" stroke-width="0.4" stroke-linejoin="round"/><path d="M210.4 218.3V252.5" stroke="#9a9a9a" stroke-width="0.6"/><path d="M223.5 252.5 L223.5 249.4 L224 248.5 L224.5 247.3 L225 245.8 L225.5 244 L226 241.7 L226.5 239.4 L227 236.6 L227.5 233.1 L228 231.1 L228.5 226.9 L229 224.1 L229.5 224.4 L230 224.5 L230.5 224.5 L231 224.7 L231.5 227.2 L232 227.4 L232.5 229.3 L233 230.5 L233.5 231.4 L234 233.5 L234.5 235.5 L235 236.9 L235.5 238.2 L236 239.5 L236.5 240.2 L237 241.4 L237.5 242.8 L238 244 L238.5 244.6 L239 245.8 L239.5 246.3 L240 247.4 L240.5 247.9 L241 248.4 L241.5 248.9 L242 249.5 L242 252.5Z" fill="#8a1a8c" stroke="#6a006a" stroke-width="0.5" opacity="0.95"/><path d="M220.4 232.3H260" stroke="#8b2020" stroke-width="1.2"/><path d="M220.4 230.3V234.3M260 230.3V234.3" stroke="#5a1010" stroke-width="1.1"/><path d="M194.6 216.9H260.4V253.1" fill="none" stroke="#6e6e6e" stroke-width="0.9"/><path d="M194.6 216.6V253.1H260.7" fill="none" stroke="#111" stroke-width="1.3"/><text x="193" y="253.1" font-size="3.2" text-anchor="middle" font-family="Liberation Sans" fill="#444" transform="rotate(-90 193 253.1)">0</text><text x="193" y="244.1" font-size="3.2" text-anchor="middle" font-family="Liberation Sans" fill="#444" transform="rotate(-90 193 244.1)">8</text><text x="193" y="235" font-size="3.2" text-anchor="middle" font-family="Liberation Sans" fill="#444" transform="rotate(-90 193 235)">16</text><text x="193" y="225.9" font-size="3.2" text-anchor="middle" font-family="Liberation Sans" fill="#444" transform="rotate(-90 193 225.9)">24</text><text x="193" y="216.9" font-size="3.2" text-anchor="middle" font-family="Liberation Sans" fill="#444" transform="rotate(-90 193 216.9)">32</text><text x="195.2" y="259.5" font-size="3.1" text-anchor="middle" font-family="Liberation Sans" fill="#444" transform="rotate(-20 195.2 259.5)">10<tspan font-size="2.2" dy="-1.2">0</tspan></text><text x="211.6" y="259.5" font-size="3.1" text-anchor="middle" font-family="Liberation Sans" fill="#444" transform="rotate(-20 211.6 259.5)">10<tspan font-size="2.2" dy="-1.2">1</tspan></text><text x="228.1" y="259.5" font-size="3.1" text-anchor="middle" font-family="Liberation Sans" fill="#444" transform="rotate(-20 228.1 259.5)">10<tspan font-size="2.2" dy="-1.2">2</tspan></text><text x="244.5" y="259.5" font-size="3.1" text-anchor="middle" font-family="Liberation Sans" fill="#444" transform="rotate(-20 244.5 259.5)">10<tspan font-size="2.2" dy="-1.2">3</tspan></text><text x="261" y="259.5" font-size="3.1" text-anchor="middle" font-family="Liberation Sans" fill="#444" transform="rotate(-20 261 259.5)">10<tspan font-size="2.2" dy="-1.2">4</tspan></text><text x="187.6" y="237" font-size="4.9" text-anchor="middle" font-family="Liberation Sans" fill="#333" transform="rotate(-90 187.6 237)">Count</text><text x="227.5" y="264.7" font-size="4" text-anchor="middle" font-family="Liberation Sans" fill="#222">FITC-A</text><text x="257.4" y="221.2" font-size="4.6" text-anchor="end" font-family="Liberation Sans" fill="#222" >97.92</text><text x="257.4" y="227.6" font-size="4.6" text-anchor="end" font-family="Liberation Sans" fill="#222" >97.74</text><text x="314.8" y="214.9" font-size="5.6" text-anchor="middle" font-family="Liberation Serif" font-weight="bold" fill="#000" >RPMI8226</text><path d="M288.6 252.7 L288.6 249.6 L289.1 248.5 L289.6 247.5 L290.1 247.2 L290.6 245.6 L291.1 246.4 L291.6 246.2 L292.1 244.3 L292.6 243 L293.1 242.7 L293.6 240.2 L294.1 238.4 L294.6 235 L295.1 238.9 L295.6 231.6 L296.1 233.8 L296.6 232.1 L297.1 226.9 L297.6 228 L298.1 229.4 L298.6 230.5 L299.1 232.9 L299.6 232 L300.1 237.9 L300.6 234 L301.1 239.8 L301.6 237.6 L302.1 241.9 L302.6 244.4 L303.1 243.8 L303.6 245.8 L304.1 247.5 L304.6 247.8 L305.1 248.8 L305.6 249.8 L305.8 252.7Z" fill="#8c8c8c" stroke="#a0a0a0" stroke-width="0.4" stroke-linejoin="round"/><path d="M295.6 252.7L297.4 219.5L298.2 219.5L300 252.7Z" fill="#8c8c8c"/><path d="M309.5 252.7 L309.5 250.7 L310 249.9 L310.5 249.2 L311 248.4 L311.5 247 L312 245.3 L312.5 244 L313 242.6 L313.5 240 L314 238.1 L314.5 236.2 L315 233.8 L315.5 233.1 L316 233.2 L316.5 235 L317 237.6 L317.5 239.6 L318 242.3 L318.5 245.2 L319 246.7 L319.5 248.4 L320 249.9 L320.5 250.7 L320.5 252.7Z" fill="#8a1a8c" stroke="#6a006a" stroke-width="0.5" opacity="0.95"/><path d="M317.5 252.7 L317.5 250.5 L318 249.4 L318.5 248.1 L319 245.9 L319.5 243.8 L320 240.6 L320.5 237.5 L321 235.4 L321.5 232.1 L322 230.4 L322.5 230.4 L323 232.4 L323.5 234.3 L324 235.5 L324.5 237.1 L325 237.4 L325.5 240.1 L326 241.4 L326.5 242.7 L327 244 L327.5 245.2 L328 245.9 L328.5 246.9 L329 247.9 L329.5 248.9 L330 249.6 L330.5 249.9 L331 250.5 L331 252.7Z" fill="#1c1c96" stroke="#101070" stroke-width="0.5" opacity="0.9"/><path d="M306.7 231.7H345.6" stroke="#8b2020" stroke-width="1.2"/><path d="M306.7 229.7V233.7M345.6 229.7V233.7" stroke="#5a1010" stroke-width="1.1"/><path d="M280.8 216.9H346V253.3" fill="none" stroke="#6e6e6e" stroke-width="0.9"/><path d="M280.8 216.6V253.3H346.3" fill="none" stroke="#111" stroke-width="1.3"/><text x="279.2" y="253.3" font-size="3.2" text-anchor="middle" font-family="Liberation Sans" fill="#444" transform="rotate(-90 279.2 253.3)">0</text><text x="279.2" y="244.2" font-size="3.2" text-anchor="middle" font-family="Liberation Sans" fill="#444" transform="rotate(-90 279.2 244.2)">8</text><text x="279.2" y="235.1" font-size="3.2" text-anchor="middle" font-family="Liberation Sans" fill="#444" transform="rotate(-90 279.2 235.1)">16</text><text x="279.2" y="226" font-size="3.2" text-anchor="middle" font-family="Liberation Sans" fill="#444" transform="rotate(-90 279.2 226)">24</text><text x="279.2" y="216.9" font-size="3.2" text-anchor="middle" font-family="Liberation Sans" fill="#444" transform="rotate(-90 279.2 216.9)">32</text><text x="281.4" y="259.7" font-size="3.1" text-anchor="middle" font-family="Liberation Sans" fill="#444" transform="rotate(-20 281.4 259.7)">10<tspan font-size="2.2" dy="-1.2">0</tspan></text><text x="297.7" y="259.7" font-size="3.1" text-anchor="middle" font-family="Liberation Sans" fill="#444" transform="rotate(-20 297.7 259.7)">10<tspan font-size="2.2" dy="-1.2">1</tspan></text><text x="314" y="259.7" font-size="3.1" text-anchor="middle" font-family="Liberation Sans" fill="#444" transform="rotate(-20 314 259.7)">10<tspan font-size="2.2" dy="-1.2">2</tspan></text><text x="330.3" y="259.7" font-size="3.1" text-anchor="middle" font-family="Liberation Sans" fill="#444" transform="rotate(-20 330.3 259.7)">10<tspan font-size="2.2" dy="-1.2">3</tspan></text><text x="346.6" y="259.7" font-size="3.1" text-anchor="middle" font-family="Liberation Sans" fill="#444" transform="rotate(-20 346.6 259.7)">10<tspan font-size="2.2" dy="-1.2">4</tspan></text><text x="273.8" y="237.1" font-size="4.9" text-anchor="middle" font-family="Liberation Sans" fill="#333" transform="rotate(-90 273.8 237.1)">Count</text><text x="313.4" y="264.9" font-size="4" text-anchor="middle" font-family="Liberation Sans" fill="#222">FITC-A</text><text x="343" y="221.2" font-size="4.6" text-anchor="end" font-family="Liberation Sans" fill="#222" >98.09</text><text x="343" y="227.6" font-size="4.6" text-anchor="end" font-family="Liberation Sans" fill="#222" >92.44</text><text x="389" y="214.9" font-size="5.6" text-anchor="middle" font-family="Liberation Serif" font-weight="bold" fill="#000" >MM1S</text><path d="M366 252.7 L366 249.2 L366.5 247.8 L367 246 L367.5 246.4 L368 244.8 L368.5 244.6 L369 241.2 L369.5 241 L370 238.8 L370.5 237.3 L371 233.6 L371.5 236.2 L372 232.1 L372.5 227.2 L373 231.4 L373.5 229.5 L374 224.8 L374.5 228 L375 220.2 L375.5 222 L376 224.5 L376.5 229.6 L377 224.4 L377.5 222.6 L378 230.5 L378.5 233 L379 234.4 L379.5 235.6 L380 235.7 L380.5 238.8 L381 243.5 L381.5 244.1 L382 245.3 L382.5 247.2 L383 247.8 L383.5 249.3 L383.5 252.7Z" fill="#8c8c8c" stroke="#a0a0a0" stroke-width="0.4" stroke-linejoin="round"/><path d="M379.5 219V252.7" stroke="#9a9a9a" stroke-width="0.6"/><path d="M388.5 252.7 L388.5 249.8 L389 248.9 L389.5 247.8 L390 246.5 L390.5 244.5 L391 241.9 L391.5 240 L392 238 L392.5 234.8 L393 231.3 L393.5 229.6 L394 226.4 L394.5 224.2 L395 223.9 L395.5 228 L396 231.9 L396.5 236.2 L397 240.7 L397.5 243.9 L398 246.6 L398.5 248.5 L399 249.8 L399 252.7Z" fill="#8a1a8c" stroke="#6a006a" stroke-width="0.5" opacity="0.95"/><path d="M395.5 252.7 L395.5 249.5 L396 247.3 L396.5 244.3 L397 240.7 L397.5 236 L398 230.9 L398.5 224.9 L399 222.4 L399.5 219.3 L400 221.9 L400.5 223.7 L401 227.3 L401.5 228.4 L402 232.1 L402.5 233.5 L403 235.1 L403.5 238.5 L404 239.9 L404.5 242.5 L405 243.7 L405.5 245.4 L406 246.6 L406.5 247.5 L407 248.7 L407.5 249.5 L407.5 252.7Z" fill="#1c1c96" stroke="#101070" stroke-width="0.5" opacity="0.9"/><path d="M386.5 232.3H427" stroke="#8b2020" stroke-width="1.2"/><path d="M386.5 230.3V234.3M427 230.3V234.3" stroke="#5a1010" stroke-width="1.1"/><path d="M362.7 216.9H427.5V253.3" fill="none" stroke="#6e6e6e" stroke-width="0.9"/><path d="M362.7 216.6V253.3H427.8" fill="none" stroke="#111" stroke-width="1.3"/><text x="361.1" y="253.3" font-size="3.2" text-anchor="middle" font-family="Liberation Sans" fill="#444" transform="rotate(-90 361.1 253.3)">0</text><text x="361.1" y="244.2" font-size="3.2" text-anchor="middle" font-family="Liberation Sans" fill="#444" transform="rotate(-90 361.1 244.2)">8</text><text x="361.1" y="235.1" font-size="3.2" text-anchor="middle" font-family="Liberation Sans" fill="#444" transform="rotate(-90 361.1 235.1)">16</text><text x="361.1" y="226" font-size="3.2" text-anchor="middle" font-family="Liberation Sans" fill="#444" transform="rotate(-90 361.1 226)">24</text><text x="361.1" y="216.9" font-size="3.2" text-anchor="middle" font-family="Liberation Sans" fill="#444" transform="rotate(-90 361.1 216.9)">32</text><text x="363.3" y="259.7" font-size="3.1" text-anchor="middle" font-family="Liberation Sans" fill="#444" transform="rotate(-20 363.3 259.7)">10<tspan font-size="2.2" dy="-1.2">0</tspan></text><text x="379.5" y="259.7" font-size="3.1" text-anchor="middle" font-family="Liberation Sans" fill="#444" transform="rotate(-20 379.5 259.7)">10<tspan font-size="2.2" dy="-1.2">1</tspan></text><text x="395.7" y="259.7" font-size="3.1" text-anchor="middle" font-family="Liberation Sans" fill="#444" transform="rotate(-20 395.7 259.7)">10<tspan font-size="2.2" dy="-1.2">2</tspan></text><text x="411.9" y="259.7" font-size="3.1" text-anchor="middle" font-family="Liberation Sans" fill="#444" transform="rotate(-20 411.9 259.7)">10<tspan font-size="2.2" dy="-1.2">3</tspan></text><text x="428.1" y="259.7" font-size="3.1" text-anchor="middle" font-family="Liberation Sans" fill="#444" transform="rotate(-20 428.1 259.7)">10<tspan font-size="2.2" dy="-1.2">4</tspan></text><text x="355.7" y="237.1" font-size="4.9" text-anchor="middle" font-family="Liberation Sans" fill="#333" transform="rotate(-90 355.7 237.1)">Count</text><text x="395.1" y="264.9" font-size="4" text-anchor="middle" font-family="Liberation Sans" fill="#222">FITC-A</text><text x="424.5" y="221.2" font-size="4.6" text-anchor="end" font-family="Liberation Sans" fill="#222" >98.80</text><text x="424.5" y="227.6" font-size="4.6" text-anchor="end" font-family="Liberation Sans" fill="#222" >95.80</text><text x="473.8" y="215.4" font-size="5.6" text-anchor="middle" font-family="Liberation Serif" font-weight="bold" fill="#000" >MM1R</text><path d="M454.6 253.6 L454.6 249 L455.1 247.3 L455.6 245.2 L456.1 245.4 L456.6 241.7 L457.1 242.1 L457.6 242.1 L458.1 238.1 L458.6 237.8 L459.1 237.7 L459.6 234.7 L460.1 227.9 L460.6 227.3 L461.1 229.8 L461.6 220.5 L462.1 223.6 L462.6 217.7 L463.1 222.5 L463.6 223.9 L464.1 217.3 L464.6 227.8 L465.1 219.5 L465.6 230.7 L466.1 228.4 L466.6 233.3 L467.1 235.7 L467.6 238.3 L468.1 242.7 L468.6 244.1 L469.1 244.9 L469.6 246.9 L470.1 247.9 L470.5 253.6Z" fill="#8c8c8c" stroke="#a0a0a0" stroke-width="0.4" stroke-linejoin="round"/><path d="M473.5 253.6 L473.5 251.7 L474 250.9 L474.5 250 L475 248.8 L475.5 247.8 L476 246.2 L476.5 244.2 L477 242.5 L477.5 239.6 L478 237.6 L478.5 236.1 L479 234.5 L479.5 234.8 L480 236.3 L480.5 238 L481 240.3 L481.5 242.3 L482 244.7 L482.5 245.8 L483 247.5 L483.5 249.3 L484 250.1 L484.5 250.9 L485 251.8 L485 253.6Z" fill="#8a1a8c" stroke="#6a006a" stroke-width="0.5" opacity="0.95"/><path d="M481 253.6 L481 251.3 L481.5 250.2 L482 248.8 L482.5 246.6 L483 244.5 L483.5 242.1 L484 238.3 L484.5 235.6 L485 232.6 L485.5 230.7 L486 229.4 L486.5 230.7 L487 232.2 L487.5 232.3 L488 234.7 L488.5 236.3 L489 237.7 L489.5 239.1 L490 240 L490.5 241.8 L491 243 L491.5 244.1 L492 244.8 L492.5 246.5 L493 247.6 L493.5 248.1 L494 249.1 L494.5 249.6 L495 250.4 L495.5 250.7 L496 251.2 L496 253.6Z" fill="#1c1c96" stroke="#101070" stroke-width="0.5" opacity="0.9"/><path d="M472 232.7H509.4" stroke="#8b2020" stroke-width="1.2"/><path d="M472 230.7V234.7M509.4 230.7V234.7" stroke="#5a1010" stroke-width="1.1"/><path d="M446.5 217.3H510V254.2" fill="none" stroke="#6e6e6e" stroke-width="0.9"/><path d="M446.5 217V254.2H510.3" fill="none" stroke="#111" stroke-width="1.3"/><text x="444.9" y="254.2" font-size="3.2" text-anchor="middle" font-family="Liberation Sans" fill="#444" transform="rotate(-90 444.9 254.2)">0</text><text x="444.9" y="245" font-size="3.2" text-anchor="middle" font-family="Liberation Sans" fill="#444" transform="rotate(-90 444.9 245)">8</text><text x="444.9" y="235.8" font-size="3.2" text-anchor="middle" font-family="Liberation Sans" fill="#444" transform="rotate(-90 444.9 235.8)">16</text><text x="444.9" y="226.5" font-size="3.2" text-anchor="middle" font-family="Liberation Sans" fill="#444" transform="rotate(-90 444.9 226.5)">24</text><text x="444.9" y="217.3" font-size="3.2" text-anchor="middle" font-family="Liberation Sans" fill="#444" transform="rotate(-90 444.9 217.3)">32</text><text x="447.1" y="260.6" font-size="3.1" text-anchor="middle" font-family="Liberation Sans" fill="#444" transform="rotate(-20 447.1 260.6)">10<tspan font-size="2.2" dy="-1.2">0</tspan></text><text x="463" y="260.6" font-size="3.1" text-anchor="middle" font-family="Liberation Sans" fill="#444" transform="rotate(-20 463 260.6)">10<tspan font-size="2.2" dy="-1.2">1</tspan></text><text x="478.9" y="260.6" font-size="3.1" text-anchor="middle" font-family="Liberation Sans" fill="#444" transform="rotate(-20 478.9 260.6)">10<tspan font-size="2.2" dy="-1.2">2</tspan></text><text x="494.7" y="260.6" font-size="3.1" text-anchor="middle" font-family="Liberation Sans" fill="#444" transform="rotate(-20 494.7 260.6)">10<tspan font-size="2.2" dy="-1.2">3</tspan></text><text x="510.6" y="260.6" font-size="3.1" text-anchor="middle" font-family="Liberation Sans" fill="#444" transform="rotate(-20 510.6 260.6)">10<tspan font-size="2.2" dy="-1.2">4</tspan></text><text x="439.5" y="237.8" font-size="4.9" text-anchor="middle" font-family="Liberation Sans" fill="#333" transform="rotate(-90 439.5 237.8)">Count</text><text x="478.2" y="265.8" font-size="4" text-anchor="middle" font-family="Liberation Sans" fill="#222">FITC-A</text><text x="507" y="221.6" font-size="4.6" text-anchor="end" font-family="Liberation Sans" fill="#222" >99.74</text><text x="507" y="228" font-size="4.6" text-anchor="end" font-family="Liberation Sans" fill="#222" >97.79</text><text x="61.5" y="284.9" font-size="5.6" text-anchor="middle" font-family="Liberation Serif" font-weight="bold" fill="#000" >KMS12BM</text><path d="M33.7 322.9 L33.7 320 L34.2 318.7 L34.7 318.4 L35.2 317.3 L35.7 317.6 L36.2 316.8 L36.7 313.9 L37.2 315.1 L37.7 312.5 L38.2 314.1 L38.7 310.4 L39.2 310.2 L39.7 307.9 L40.2 305.1 L40.7 304 L41.2 305.9 L41.7 306.3 L42.2 306.5 L42.7 299.1 L43.2 303.5 L43.7 301.5 L44.2 296.2 L44.7 299 L45.2 302.1 L45.7 303.7 L46.2 307.4 L46.7 304.7 L47.2 307.7 L47.7 310.4 L48.2 310.3 L48.7 313.9 L49.2 314.7 L49.7 317.4 L50.2 319.1 L50.7 320.3 L51 322.9Z" fill="#8c8c8c" stroke="#a0a0a0" stroke-width="0.4" stroke-linejoin="round"/><path d="M46.2 288.8V322.9" stroke="#9a9a9a" stroke-width="0.6"/><path d="M59.3 322.9 L59.3 320.7 L59.8 319.7 L60.3 318.3 L60.8 317.2 L61.3 315.1 L61.8 312.9 L62.3 310.4 L62.8 307.7 L63.3 303.7 L63.8 302 L64.3 300.1 L64.8 302.7 L65.3 306.5 L65.8 309.9 L66.3 313.9 L66.8 316.8 L67.3 319 L67.8 320.7 L67.8 322.9Z" fill="#8a1a8c" stroke="#6a006a" stroke-width="0.5" opacity="0.95"/><path d="M67 322.9 L67 320.5 L67.5 319 L68 317.2 L68.5 314 L69 310.6 L69.5 306.6 L70 302.7 L70.5 300.4 L71 299.3 L71.5 298.7 L72 300.4 L72.5 301.4 L73 303.9 L73.5 305.9 L74 306.3 L74.5 308 L75 310.3 L75.5 311.8 L76 313.5 L76.5 314.3 L77 315.9 L77.5 316.5 L78 317.7 L78.5 318.8 L79 319.5 L79.5 320 L80 320.4 L80 322.9Z" fill="#1c1c96" stroke="#101070" stroke-width="0.5" opacity="0.9"/><path d="M53.8 302.7H93.3" stroke="#8b2020" stroke-width="1.2"/><path d="M53.8 300.7V304.7M93.3 300.7V304.7" stroke="#5a1010" stroke-width="1.1"/><path d="M30.4 287.9H93.7V323.5" fill="none" stroke="#6e6e6e" stroke-width="0.9"/><path d="M30.4 287.6V323.5H94" fill="none" stroke="#111" stroke-width="1.3"/><text x="28.8" y="323.5" font-size="3.2" text-anchor="middle" font-family="Liberation Sans" fill="#444" transform="rotate(-90 28.8 323.5)">0</text><text x="28.8" y="314.6" font-size="3.2" text-anchor="middle" font-family="Liberation Sans" fill="#444" transform="rotate(-90 28.8 314.6)">8</text><text x="28.8" y="305.7" font-size="3.2" text-anchor="middle" font-family="Liberation Sans" fill="#444" transform="rotate(-90 28.8 305.7)">16</text><text x="28.8" y="296.8" font-size="3.2" text-anchor="middle" font-family="Liberation Sans" fill="#444" transform="rotate(-90 28.8 296.8)">24</text><text x="28.8" y="287.9" font-size="3.2" text-anchor="middle" font-family="Liberation Sans" fill="#444" transform="rotate(-90 28.8 287.9)">32</text><text x="31" y="329.9" font-size="3.1" text-anchor="middle" font-family="Liberation Sans" fill="#444" transform="rotate(-20 31 329.9)">10<tspan font-size="2.2" dy="-1.2">0</tspan></text><text x="46.8" y="329.9" font-size="3.1" text-anchor="middle" font-family="Liberation Sans" fill="#444" transform="rotate(-20 46.8 329.9)">10<tspan font-size="2.2" dy="-1.2">1</tspan></text><text x="62.6" y="329.9" font-size="3.1" text-anchor="middle" font-family="Liberation Sans" fill="#444" transform="rotate(-20 62.6 329.9)">10<tspan font-size="2.2" dy="-1.2">2</tspan></text><text x="78.5" y="329.9" font-size="3.1" text-anchor="middle" font-family="Liberation Sans" fill="#444" transform="rotate(-20 78.5 329.9)">10<tspan font-size="2.2" dy="-1.2">3</tspan></text><text x="94.3" y="329.9" font-size="3.1" text-anchor="middle" font-family="Liberation Sans" fill="#444" transform="rotate(-20 94.3 329.9)">10<tspan font-size="2.2" dy="-1.2">4</tspan></text><text x="23.4" y="307.7" font-size="4.9" text-anchor="middle" font-family="Liberation Sans" fill="#333" transform="rotate(-90 23.4 307.7)">Count</text><text x="62" y="335.1" font-size="4" text-anchor="middle" font-family="Liberation Sans" fill="#222">FITC-A</text><text x="90.7" y="292.2" font-size="4.6" text-anchor="end" font-family="Liberation Sans" fill="#222" >98.93</text><text x="90.7" y="298.6" font-size="4.6" text-anchor="end" font-family="Liberation Sans" fill="#222" >94.86</text><text x="145.8" y="284.9" font-size="5.6" text-anchor="middle" font-family="Liberation Serif" font-weight="bold" fill="#000" >KMS12PE</text><path d="M116.9 322.3 L116.9 319.3 L117.4 317.9 L117.9 316.2 L118.4 315.7 L118.9 316.5 L119.4 315 L119.9 311.5 L120.4 309.9 L120.9 309.5 L121.4 311.5 L121.9 308.3 L122.4 306.7 L122.9 303.9 L123.4 301 L123.9 301 L124.4 299.7 L124.9 301.6 L125.4 300.2 L125.9 300.3 L126.4 296.6 L126.9 294.7 L127.4 299 L127.9 303.1 L128.4 301.5 L128.9 299 L129.4 301.3 L129.9 303.8 L130.4 309.5 L130.9 308.9 L131.4 311.1 L131.9 310.3 L132.4 314.9 L132.9 314.1 L133.4 317.5 L133.9 318.4 L134.4 317.6 L134.9 319.4 L135.2 322.3Z" fill="#8c8c8c" stroke="#a0a0a0" stroke-width="0.4" stroke-linejoin="round"/><path d="M128.5 288.3V322.3" stroke="#9a9a9a" stroke-width="0.6"/><path d="M138.5 322.3 L138.5 319.8 L139 319 L139.5 317.9 L140 316.4 L140.5 315 L141 313.6 L141.5 311.6 L142 308.5 L142.5 306.6 L143 303.8 L143.5 300.8 L144 298.7 L144.5 298 L145 296.8 L145.5 298.7 L146 301.5 L146.5 304.2 L147 308.6 L147.5 311.4 L148 313.5 L148.5 315.6 L149 317.2 L149.5 318.6 L150 319.8 L150 322.3Z" fill="#8a1a8c" stroke="#6a006a" stroke-width="0.5" opacity="0.95"/><path d="M145.5 322.3 L145.5 320 L146 318.9 L146.5 317.5 L147 315.6 L147.5 312.3 L148 310 L148.5 306.2 L149 304 L149.5 300.7 L150 298.3 L150.5 299.4 L151 298.9 L151.5 301.3 L152 301.9 L152.5 302.3 L153 304.2 L153.5 306.3 L154 306.3 L154.5 308 L155 309.3 L155.5 311.3 L156 311.5 L156.5 312.9 L157 314 L157.5 314.7 L158 315.8 L158.5 316.7 L159 317.5 L159.5 318.1 L160 318.6 L160.5 319.2 L161 319.6 L161.5 320 L161.5 322.3Z" fill="#1c1c96" stroke="#101070" stroke-width="0.5" opacity="0.9"/><path d="M137.7 301.7H176.5" stroke="#8b2020" stroke-width="1.2"/><path d="M137.7 299.7V303.7M176.5 299.7V303.7" stroke="#5a1010" stroke-width="1.1"/><path d="M111.5 286.9H176.9V322.9" fill="none" stroke="#6e6e6e" stroke-width="0.9"/><path d="M111.5 286.6V322.9H177.2" fill="none" stroke="#111" stroke-width="1.3"/><text x="109.9" y="322.9" font-size="3.2" text-anchor="middle" font-family="Liberation Sans" fill="#444" transform="rotate(-90 109.9 322.9)">0</text><text x="109.9" y="313.9" font-size="3.2" text-anchor="middle" font-family="Liberation Sans" fill="#444" transform="rotate(-90 109.9 313.9)">8</text><text x="109.9" y="304.9" font-size="3.2" text-anchor="middle" font-family="Liberation Sans" fill="#444" transform="rotate(-90 109.9 304.9)">16</text><text x="109.9" y="295.9" font-size="3.2" text-anchor="middle" font-family="Liberation Sans" fill="#444" transform="rotate(-90 109.9 295.9)">24</text><text x="109.9" y="286.9" font-size="3.2" text-anchor="middle" font-family="Liberation Sans" fill="#444" transform="rotate(-90 109.9 286.9)">32</text><text x="112.1" y="329.3" font-size="3.1" text-anchor="middle" font-family="Liberation Sans" fill="#444" transform="rotate(-20 112.1 329.3)">10<tspan font-size="2.2" dy="-1.2">0</tspan></text><text x="128.4" y="329.3" font-size="3.1" text-anchor="middle" font-family="Liberation Sans" fill="#444" transform="rotate(-20 128.4 329.3)">10<tspan font-size="2.2" dy="-1.2">1</tspan></text><text x="144.8" y="329.3" font-size="3.1" text-anchor="middle" font-family="Liberation Sans" fill="#444" transform="rotate(-20 144.8 329.3)">10<tspan font-size="2.2" dy="-1.2">2</tspan></text><text x="161.2" y="329.3" font-size="3.1" text-anchor="middle" font-family="Liberation Sans" fill="#444" transform="rotate(-20 161.2 329.3)">10<tspan font-size="2.2" dy="-1.2">3</tspan></text><text x="177.5" y="329.3" font-size="3.1" text-anchor="middle" font-family="Liberation Sans" fill="#444" transform="rotate(-20 177.5 329.3)">10<tspan font-size="2.2" dy="-1.2">4</tspan></text><text x="104.5" y="306.9" font-size="4.9" text-anchor="middle" font-family="Liberation Sans" fill="#333" transform="rotate(-90 104.5 306.9)">Count</text><text x="144.2" y="334.5" font-size="4" text-anchor="middle" font-family="Liberation Sans" fill="#222">FITC-A</text><text x="173.9" y="291.2" font-size="4.6" text-anchor="end" font-family="Liberation Sans" fill="#222" >99.15</text><text x="173.9" y="297.6" font-size="4.6" text-anchor="end" font-family="Liberation Sans" fill="#222" >95.84</text><text x="229.6" y="283.9" font-size="5.6" text-anchor="middle" font-family="Liberation Serif" font-weight="bold" fill="#000" >NCIH929</text><path d="M201.7 322.9 L201.7 318.1 L202.2 318.6 L202.7 317.5 L203.2 315.6 L203.7 316.8 L204.2 312.8 L204.7 313.3 L205.2 312.3 L205.7 313 L206.2 309.8 L206.7 305.6 L207.2 304.7 L207.7 302 L208.2 303.1 L208.7 301.9 L209.2 305.3 L209.7 296.2 L210.2 301.7 L210.7 295 L211.2 296.1 L211.7 290 L212.2 292.6 L212.7 287.7 L213.2 288.7 L213.7 288.2 L214.2 298.8 L214.7 294.5 L215.2 293.9 L215.7 295.1 L216.2 300.8 L216.7 305.3 L217.2 302.5 L217.7 309.6 L218.2 309.3 L218.7 312.2 L219.2 315.3 L219.7 317 L220.2 318.6 L220.7 319.7 L221 322.9Z" fill="#8c8c8c" stroke="#a0a0a0" stroke-width="0.4" stroke-linejoin="round"/><path d="M214.2 289.2V322.9" stroke="#9a9a9a" stroke-width="0.6"/><path d="M223.5 322.9 L223.5 321.2 L224 320.5 L224.5 319.8 L225 319 L225.5 318.2 L226 316.9 L226.5 315.6 L227 314.6 L227.5 312.9 L228 311.1 L228.5 309.4 L229 308.4 L229.5 306.9 L230 305.5 L230.5 304.9 L231 304.9 L231.5 307.7 L232 310.8 L232.5 313 L233 315 L233.5 317.1 L234 318.8 L234.5 320.1 L235 321.1 L235 322.9Z" fill="#8a1a8c" stroke="#6a006a" stroke-width="0.5" opacity="0.95"/><path d="M233 322.9 L233 321 L233.5 320.2 L234 319.1 L234.5 317.1 L235 315.2 L235.5 313.6 L236 310.2 L236.5 308.2 L237 305 L237.5 304.1 L238 304.3 L238.5 304.9 L239 306.3 L239.5 306.4 L240 309 L240.5 310.2 L241 311.3 L241.5 312.7 L242 313.4 L242.5 315.2 L243 316 L243.5 316.9 L244 317.9 L244.5 318.6 L245 319.3 L245.5 320 L246 320.6 L246.5 321 L246.5 322.9Z" fill="#1c1c96" stroke="#101070" stroke-width="0.5" opacity="0.9"/><path d="M222.9 301.7H261.3" stroke="#8b2020" stroke-width="1.2"/><path d="M222.9 299.7V303.7M261.3 299.7V303.7" stroke="#5a1010" stroke-width="1.1"/><path d="M197.9 287.7H261.9V323.5" fill="none" stroke="#6e6e6e" stroke-width="0.9"/><path d="M197.9 287.4V323.5H262.2" fill="none" stroke="#111" stroke-width="1.3"/><text x="196.3" y="323.5" font-size="3.2" text-anchor="middle" font-family="Liberation Sans" fill="#444" transform="rotate(-90 196.3 323.5)">0</text><text x="196.3" y="314.6" font-size="3.2" text-anchor="middle" font-family="Liberation Sans" fill="#444" transform="rotate(-90 196.3 314.6)">8</text><text x="196.3" y="305.6" font-size="3.2" text-anchor="middle" font-family="Liberation Sans" fill="#444" transform="rotate(-90 196.3 305.6)">16</text><text x="196.3" y="296.6" font-size="3.2" text-anchor="middle" font-family="Liberation Sans" fill="#444" transform="rotate(-90 196.3 296.6)">24</text><text x="196.3" y="287.7" font-size="3.2" text-anchor="middle" font-family="Liberation Sans" fill="#444" transform="rotate(-90 196.3 287.7)">32</text><text x="198.5" y="329.9" font-size="3.1" text-anchor="middle" font-family="Liberation Sans" fill="#444" transform="rotate(-20 198.5 329.9)">10<tspan font-size="2.2" dy="-1.2">0</tspan></text><text x="214.5" y="329.9" font-size="3.1" text-anchor="middle" font-family="Liberation Sans" fill="#444" transform="rotate(-20 214.5 329.9)">10<tspan font-size="2.2" dy="-1.2">1</tspan></text><text x="230.5" y="329.9" font-size="3.1" text-anchor="middle" font-family="Liberation Sans" fill="#444" transform="rotate(-20 230.5 329.9)">10<tspan font-size="2.2" dy="-1.2">2</tspan></text><text x="246.5" y="329.9" font-size="3.1" text-anchor="middle" font-family="Liberation Sans" fill="#444" transform="rotate(-20 246.5 329.9)">10<tspan font-size="2.2" dy="-1.2">3</tspan></text><text x="262.5" y="329.9" font-size="3.1" text-anchor="middle" font-family="Liberation Sans" fill="#444" transform="rotate(-20 262.5 329.9)">10<tspan font-size="2.2" dy="-1.2">4</tspan></text><text x="190.9" y="307.6" font-size="4.9" text-anchor="middle" font-family="Liberation Sans" fill="#333" transform="rotate(-90 190.9 307.6)">Count</text><text x="229.9" y="335.1" font-size="4" text-anchor="middle" font-family="Liberation Sans" fill="#222">FITC-A</text><text x="258.9" y="292" font-size="4.6" text-anchor="end" font-family="Liberation Sans" fill="#222" >99.13</text><text x="258.9" y="298.4" font-size="4.6" text-anchor="end" font-family="Liberation Sans" fill="#222" >96.07</text><text x="313.8" y="283.9" font-size="5.6" text-anchor="middle" font-family="Liberation Serif" font-weight="bold" fill="#000" >KMS11</text><path d="M287.9 322.9 L287.9 318.9 L288.4 317.6 L288.9 317.4 L289.4 314.7 L289.9 316.5 L290.4 313.1 L290.9 314.9 L291.4 314.2 L291.9 312.3 L292.4 309.9 L292.9 307.9 L293.4 306.3 L293.9 306.5 L294.4 304.8 L294.9 301.9 L295.4 297.6 L295.9 298.4 L296.4 302.1 L296.9 300.1 L297.4 291.3 L297.9 299.3 L298.4 296.9 L298.9 295.7 L299.4 291.7 L299.9 290.3 L300.4 290.8 L300.9 288.7 L301.4 290.1 L301.9 299.1 L302.4 299.2 L302.9 294.4 L303.4 302.1 L303.9 301 L304.4 307 L304.9 310.5 L305.4 313.1 L305.9 312 L306.4 314.2 L306.9 316.5 L307.4 318.6 L307.9 319.5 L308 322.9Z" fill="#8c8c8c" stroke="#a0a0a0" stroke-width="0.4" stroke-linejoin="round"/><path d="M301 288.3V322.9" stroke="#9a9a9a" stroke-width="0.6"/><path d="M313 322.9 L313 320.8 L313.5 320 L314 319.2 L314.5 318 L315 316.9 L315.5 315.5 L316 313.4 L316.5 311.2 L317 308.8 L317.5 307.1 L318 305.3 L318.5 303.2 L319 301.6 L319.5 301.8 L320 303.4 L320.5 307 L321 309.4 L321.5 312.3 L322 315.2 L322.5 317.2 L323 318.4 L323.5 319.8 L324 320.7 L324 322.9Z" fill="#8a1a8c" stroke="#6a006a" stroke-width="0.5" opacity="0.95"/><path d="M322 322.9 L322 320.8 L322.5 319.8 L323 318.6 L323.5 317.2 L324 315.1 L324.5 313.1 L325 309.9 L325.5 308 L326 304.7 L326.5 303.3 L327 300.7 L327.5 301.8 L328 303 L328.5 303.2 L329 305.5 L329.5 307.4 L330 307.8 L330.5 309.1 L331 311.6 L331.5 312 L332 313.3 L332.5 314.6 L333 315.8 L333.5 316.9 L334 317.5 L334.5 318.7 L335 319.2 L335.5 319.9 L336 320.3 L336.5 320.9 L336.5 322.9Z" fill="#1c1c96" stroke="#101070" stroke-width="0.5" opacity="0.9"/><path d="M310.4 301.7H350.4" stroke="#8b2020" stroke-width="1.2"/><path d="M310.4 299.7V303.7M350.4 299.7V303.7" stroke="#5a1010" stroke-width="1.1"/><path d="M284 286.3H350.4V323.5" fill="none" stroke="#6e6e6e" stroke-width="0.9"/><path d="M284 286V323.5H350.7" fill="none" stroke="#111" stroke-width="1.3"/><text x="282.4" y="323.5" font-size="3.2" text-anchor="middle" font-family="Liberation Sans" fill="#444" transform="rotate(-90 282.4 323.5)">0</text><text x="282.4" y="314.2" font-size="3.2" text-anchor="middle" font-family="Liberation Sans" fill="#444" transform="rotate(-90 282.4 314.2)">8</text><text x="282.4" y="304.9" font-size="3.2" text-anchor="middle" font-family="Liberation Sans" fill="#444" transform="rotate(-90 282.4 304.9)">16</text><text x="282.4" y="295.6" font-size="3.2" text-anchor="middle" font-family="Liberation Sans" fill="#444" transform="rotate(-90 282.4 295.6)">24</text><text x="282.4" y="286.3" font-size="3.2" text-anchor="middle" font-family="Liberation Sans" fill="#444" transform="rotate(-90 282.4 286.3)">32</text><text x="284.6" y="329.9" font-size="3.1" text-anchor="middle" font-family="Liberation Sans" fill="#444" transform="rotate(-20 284.6 329.9)">10<tspan font-size="2.2" dy="-1.2">0</tspan></text><text x="301.2" y="329.9" font-size="3.1" text-anchor="middle" font-family="Liberation Sans" fill="#444" transform="rotate(-20 301.2 329.9)">10<tspan font-size="2.2" dy="-1.2">1</tspan></text><text x="317.8" y="329.9" font-size="3.1" text-anchor="middle" font-family="Liberation Sans" fill="#444" transform="rotate(-20 317.8 329.9)">10<tspan font-size="2.2" dy="-1.2">2</tspan></text><text x="334.4" y="329.9" font-size="3.1" text-anchor="middle" font-family="Liberation Sans" fill="#444" transform="rotate(-20 334.4 329.9)">10<tspan font-size="2.2" dy="-1.2">3</tspan></text><text x="351" y="329.9" font-size="3.1" text-anchor="middle" font-family="Liberation Sans" fill="#444" transform="rotate(-20 351 329.9)">10<tspan font-size="2.2" dy="-1.2">4</tspan></text><text x="277" y="306.9" font-size="4.9" text-anchor="middle" font-family="Liberation Sans" fill="#333" transform="rotate(-90 277 306.9)">Count</text><text x="317.2" y="335.1" font-size="4" text-anchor="middle" font-family="Liberation Sans" fill="#222">FITC-A</text><text x="347.4" y="290.6" font-size="4.6" text-anchor="end" font-family="Liberation Sans" fill="#222" >98.78</text><text x="347.4" y="297" font-size="4.6" text-anchor="end" font-family="Liberation Sans" fill="#222" >54.38</text><text x="403.3" y="283.4" font-size="5.6" text-anchor="middle" font-family="Liberation Serif" font-weight="bold" fill="#000" >S6B45</text><path d="M367.7 322.7 L367.7 318.2 L368.2 317.3 L368.7 317.1 L369.2 315.3 L369.7 314.3 L370.2 314.6 L370.7 314.5 L371.2 311.4 L371.7 313.4 L372.2 309.7 L372.7 312.4 L373.2 310.3 L373.7 304.6 L374.2 305.8 L374.7 307.8 L375.2 307.2 L375.7 304.3 L376.2 298.7 L376.7 298.3 L377.2 300.9 L377.7 292.9 L378.2 290 L378.7 296.4 L379.2 294 L379.7 294.5 L380.2 290.7 L380.7 288.8 L381.2 299.4 L381.7 300.5 L382.2 298.9 L382.7 302.7 L383.2 306.4 L383.7 310.5 L384.2 307.7 L384.7 312.6 L385.2 316.3 L385.7 316.7 L386.2 318.8 L386.7 319.5 L386.7 322.7Z" fill="#8c8c8c" stroke="#a0a0a0" stroke-width="0.4" stroke-linejoin="round"/><path d="M381 290V322.7" stroke="#9a9a9a" stroke-width="0.6"/><path d="M396.5 322.7 L396.5 319.5 L397 318 L397.5 316.3 L398 314.2 L398.5 311.5 L399 307.2 L399.5 303 L400 299.9 L400.5 295.4 L401 291.9 L401.5 288.2 L402 290.6 L402.5 289.6 L403 293.2 L403.5 295.2 L404 296.9 L404.5 298.2 L405 300.5 L405.5 303.9 L406 304.7 L406.5 306.8 L407 309.1 L407.5 311 L408 312.4 L408.5 313.4 L409 315.2 L409.5 316.1 L410 317.2 L410.5 318.1 L411 318.7 L411.5 319.5 L411.5 322.7Z" fill="#8a1a8c" stroke="#6a006a" stroke-width="0.5" opacity="0.95"/><path d="M391.2 302.2H431.7" stroke="#8b2020" stroke-width="1.2"/><path d="M391.2 300.2V304.2M431.7 300.2V304.2" stroke="#5a1010" stroke-width="1.1"/><path d="M366 287H432.8V323.3" fill="none" stroke="#6e6e6e" stroke-width="0.9"/><path d="M366 286.7V323.3H433.1" fill="none" stroke="#111" stroke-width="1.3"/><text x="364.4" y="323.3" font-size="3.2" text-anchor="middle" font-family="Liberation Sans" fill="#444" transform="rotate(-90 364.4 323.3)">0</text><text x="364.4" y="314.2" font-size="3.2" text-anchor="middle" font-family="Liberation Sans" fill="#444" transform="rotate(-90 364.4 314.2)">8</text><text x="364.4" y="305.1" font-size="3.2" text-anchor="middle" font-family="Liberation Sans" fill="#444" transform="rotate(-90 364.4 305.1)">16</text><text x="364.4" y="296.1" font-size="3.2" text-anchor="middle" font-family="Liberation Sans" fill="#444" transform="rotate(-90 364.4 296.1)">24</text><text x="364.4" y="287" font-size="3.2" text-anchor="middle" font-family="Liberation Sans" fill="#444" transform="rotate(-90 364.4 287)">32</text><text x="366.6" y="329.7" font-size="3.1" text-anchor="middle" font-family="Liberation Sans" fill="#444" transform="rotate(-20 366.6 329.7)">10<tspan font-size="2.2" dy="-1.2">0</tspan></text><text x="383.3" y="329.7" font-size="3.1" text-anchor="middle" font-family="Liberation Sans" fill="#444" transform="rotate(-20 383.3 329.7)">10<tspan font-size="2.2" dy="-1.2">1</tspan></text><text x="400" y="329.7" font-size="3.1" text-anchor="middle" font-family="Liberation Sans" fill="#444" transform="rotate(-20 400 329.7)">10<tspan font-size="2.2" dy="-1.2">2</tspan></text><text x="416.7" y="329.7" font-size="3.1" text-anchor="middle" font-family="Liberation Sans" fill="#444" transform="rotate(-20 416.7 329.7)">10<tspan font-size="2.2" dy="-1.2">3</tspan></text><text x="433.4" y="329.7" font-size="3.1" text-anchor="middle" font-family="Liberation Sans" fill="#444" transform="rotate(-20 433.4 329.7)">10<tspan font-size="2.2" dy="-1.2">4</tspan></text><text x="359" y="307.1" font-size="4.9" text-anchor="middle" font-family="Liberation Sans" fill="#333" transform="rotate(-90 359 307.1)">Count</text><text x="399.4" y="334.9" font-size="4" text-anchor="middle" font-family="Liberation Sans" fill="#222">FITC-A</text><text x="429.8" y="291.3" font-size="4.6" text-anchor="end" font-family="Liberation Sans" fill="#222" >99.12</text><text x="429.8" y="297.7" font-size="4.6" text-anchor="end" font-family="Liberation Sans" fill="#222" >98.75</text><text x="58.6" y="391.7" font-size="5.6" text-anchor="middle" font-family="Liberation Serif" font-weight="bold" fill="#000" >U266</text><path d="M28.8 426.5 L28.8 422.4 L29.3 422.9 L29.8 420.7 L30.3 420.6 L30.8 421.6 L31.3 418.4 L31.8 419.2 L32.3 419.9 L32.8 416.5 L33.3 416.2 L33.8 415.1 L34.3 415.8 L34.8 413.2 L35.3 408.7 L35.8 408.8 L36.3 412.8 L36.8 412 L37.3 403 L37.8 408.1 L38.3 401.3 L38.8 401.5 L39.3 400.4 L39.8 399.6 L40.3 404.1 L40.8 397.9 L41.3 401.7 L41.8 400.2 L42.3 402 L42.8 406.8 L43.3 405.7 L43.8 412.7 L44.3 409.9 L44.8 413.3 L45.3 415.1 L45.8 418.7 L46.3 420.8 L46.8 421.9 L47.3 422.7 L47.8 423.9 L48 426.5Z" fill="#8c8c8c" stroke="#a0a0a0" stroke-width="0.4" stroke-linejoin="round"/><path d="M44.2 397.5V426.5" stroke="#9a9a9a" stroke-width="0.6"/><path d="M58.5 426.5 L58.5 426 L59 425.7 L59.5 425.3 L60 424.7 L60.5 424.1 L61 422.9 L61.5 421.8 L62 420.2 L62.5 418.2 L63 416.1 L63.5 413.1 L64 410.6 L64.5 408.2 L65 406.2 L65.5 405.8 L66 407.3 L66.5 409.2 L67 410.9 L67.5 412.9 L68 415.6 L68.5 417.1 L69 419.2 L69.5 420.7 L70 421.9 L70.5 422.7 L71 423.7 L71.5 424.4 L72 425 L72.5 425.4 L73 425.8 L73.5 426 L73.5 426.5Z" fill="#0e8a0e" stroke="#006000" stroke-width="0.5" opacity="0.9"/><path d="M51.5 409.4H93.3" stroke="#8b2020" stroke-width="1.2"/><path d="M51.5 407.4V411.4M93.3 407.4V411.4" stroke="#5a1010" stroke-width="1.1"/><path d="M27.5 396.9H93.8V427.1" fill="none" stroke="#6e6e6e" stroke-width="0.9"/><path d="M27.5 396.6V427.1H94.1" fill="none" stroke="#111" stroke-width="1.3"/><text x="25.9" y="427.1" font-size="3.2" text-anchor="middle" font-family="Liberation Sans" fill="#444" transform="rotate(-90 25.9 427.1)">0</text><text x="25.9" y="419.6" font-size="3.2" text-anchor="middle" font-family="Liberation Sans" fill="#444" transform="rotate(-90 25.9 419.6)">8</text><text x="25.9" y="412" font-size="3.2" text-anchor="middle" font-family="Liberation Sans" fill="#444" transform="rotate(-90 25.9 412)">16</text><text x="25.9" y="404.4" font-size="3.2" text-anchor="middle" font-family="Liberation Sans" fill="#444" transform="rotate(-90 25.9 404.4)">24</text><text x="25.9" y="396.9" font-size="3.2" text-anchor="middle" font-family="Liberation Sans" fill="#444" transform="rotate(-90 25.9 396.9)">32</text><text x="28.1" y="433.5" font-size="3.1" text-anchor="middle" font-family="Liberation Sans" fill="#444" transform="rotate(-20 28.1 433.5)">10<tspan font-size="2.2" dy="-1.2">0</tspan></text><text x="44.7" y="433.5" font-size="3.1" text-anchor="middle" font-family="Liberation Sans" fill="#444" transform="rotate(-20 44.7 433.5)">10<tspan font-size="2.2" dy="-1.2">1</tspan></text><text x="61.2" y="433.5" font-size="3.1" text-anchor="middle" font-family="Liberation Sans" fill="#444" transform="rotate(-20 61.2 433.5)">10<tspan font-size="2.2" dy="-1.2">2</tspan></text><text x="77.8" y="433.5" font-size="3.1" text-anchor="middle" font-family="Liberation Sans" fill="#444" transform="rotate(-20 77.8 433.5)">10<tspan font-size="2.2" dy="-1.2">3</tspan></text><text x="94.4" y="433.5" font-size="3.1" text-anchor="middle" font-family="Liberation Sans" fill="#444" transform="rotate(-20 94.4 433.5)">10<tspan font-size="2.2" dy="-1.2">4</tspan></text><text x="20.5" y="414" font-size="4.9" text-anchor="middle" font-family="Liberation Sans" fill="#333" transform="rotate(-90 20.5 414)">Count</text><text x="60.6" y="438.1" font-size="4" text-anchor="middle" font-family="Liberation Sans" fill="#222">FITC-A</text><text x="90.6" y="404.2" font-size="4.5" text-anchor="end" font-family="Liberation Sans" fill="#222" >96.61</text><text x="144.2" y="391.5" font-size="5.6" text-anchor="middle" font-family="Liberation Serif" font-weight="bold" fill="#000" >OPM1</text><path d="M110.2 426.5 L110.2 423.7 L110.7 423.3 L111.2 423.4 L111.7 422.3 L112.2 421.3 L112.7 421.4 L113.2 421.3 L113.7 420.7 L114.2 420.3 L114.7 420.3 L115.2 419.2 L115.7 418.8 L116.2 417.6 L116.7 417.8 L117.2 415.8 L117.7 416.8 L118.2 413.5 L118.7 412.2 L119.2 413 L119.7 409.1 L120.2 410.2 L120.7 407.3 L121.2 410.7 L121.7 411.9 L122.2 407.5 L122.7 406.7 L123.2 410.8 L123.7 408.1 L124.2 406.1 L124.7 413.6 L125.2 412 L125.7 412.8 L126.2 412.1 L126.7 416.1 L127.2 416.8 L127.7 417 L128.2 418.2 L128.7 420.9 L129.2 421.1 L129.7 422.7 L130.2 423.4 L130.7 423.7 L131.2 424.7 L131.3 426.5Z" fill="#8c8c8c" stroke="#a0a0a0" stroke-width="0.4" stroke-linejoin="round"/><path d="M125.6 397.7V426.5" stroke="#9a9a9a" stroke-width="0.6"/><path d="M143.5 426.5 L143.5 426 L144 425.5 L144.5 425 L145 423.9 L145.5 422.7 L146 420.8 L146.5 418.7 L147 415.8 L147.5 412.7 L148 408.1 L148.5 405.9 L149 405.9 L149.5 408.8 L150 412.5 L150.5 416 L151 418.9 L151.5 421.1 L152 422.7 L152.5 424 L153 425 L153.5 425.6 L154 426 L154 426.5Z" fill="#0e8a0e" stroke="#006000" stroke-width="0.5" opacity="0.9"/><path d="M133.3 409.4H174.6" stroke="#8b2020" stroke-width="1.2"/><path d="M133.3 407.4V411.4M174.6 407.4V411.4" stroke="#5a1010" stroke-width="1.1"/><path d="M109.2 397.3H175V427.1" fill="none" stroke="#6e6e6e" stroke-width="0.9"/><path d="M109.2 397V427.1H175.3" fill="none" stroke="#111" stroke-width="1.3"/><text x="107.6" y="427.1" font-size="3.2" text-anchor="middle" font-family="Liberation Sans" fill="#444" transform="rotate(-90 107.6 427.1)">0</text><text x="107.6" y="419.7" font-size="3.2" text-anchor="middle" font-family="Liberation Sans" fill="#444" transform="rotate(-90 107.6 419.7)">8</text><text x="107.6" y="412.2" font-size="3.2" text-anchor="middle" font-family="Liberation Sans" fill="#444" transform="rotate(-90 107.6 412.2)">16</text><text x="107.6" y="404.8" font-size="3.2" text-anchor="middle" font-family="Liberation Sans" fill="#444" transform="rotate(-90 107.6 404.8)">24</text><text x="107.6" y="397.3" font-size="3.2" text-anchor="middle" font-family="Liberation Sans" fill="#444" transform="rotate(-90 107.6 397.3)">32</text><text x="109.8" y="433.5" font-size="3.1" text-anchor="middle" font-family="Liberation Sans" fill="#444" transform="rotate(-20 109.8 433.5)">10<tspan font-size="2.2" dy="-1.2">0</tspan></text><text x="126.2" y="433.5" font-size="3.1" text-anchor="middle" font-family="Liberation Sans" fill="#444" transform="rotate(-20 126.2 433.5)">10<tspan font-size="2.2" dy="-1.2">1</tspan></text><text x="142.7" y="433.5" font-size="3.1" text-anchor="middle" font-family="Liberation Sans" fill="#444" transform="rotate(-20 142.7 433.5)">10<tspan font-size="2.2" dy="-1.2">2</tspan></text><text x="159.2" y="433.5" font-size="3.1" text-anchor="middle" font-family="Liberation Sans" fill="#444" transform="rotate(-20 159.2 433.5)">10<tspan font-size="2.2" dy="-1.2">3</tspan></text><text x="175.6" y="433.5" font-size="3.1" text-anchor="middle" font-family="Liberation Sans" fill="#444" transform="rotate(-20 175.6 433.5)">10<tspan font-size="2.2" dy="-1.2">4</tspan></text><text x="102.2" y="414.2" font-size="4.9" text-anchor="middle" font-family="Liberation Sans" fill="#333" transform="rotate(-90 102.2 414.2)">Count</text><text x="142.1" y="438.1" font-size="4" text-anchor="middle" font-family="Liberation Sans" fill="#222">FITC-A</text><text x="171.8" y="404.6" font-size="4.5" text-anchor="end" font-family="Liberation Sans" fill="#222" >97.99</text><text x="222.9" y="391.5" font-size="5.6" text-anchor="middle" font-family="Liberation Serif" font-weight="bold" fill="#000" >OPM2</text><path d="M192 426.5 L192 423.3 L192.5 423.2 L193 423.8 L193.5 422 L194 422.1 L194.5 420.7 L195 421 L195.5 420.8 L196 421.1 L196.5 419.8 L197 419.1 L197.5 417.9 L198 415.5 L198.5 418.5 L199 415.1 L199.5 413.3 L200 414.5 L200.5 414.8 L201 409.8 L201.5 414 L202 409.6 L202.5 410 L203 406.6 L203.5 406.3 L204 411.9 L204.5 410.4 L205 405.2 L205.5 406.2 L206 409.7 L206.5 411 L207 410.5 L207.5 414.4 L208 413.6 L208.5 413.7 L209 412.9 L209.5 413.6 L210 418 L210.5 419.1 L211 418 L211.5 418.7 L212 421.7 L212.5 421.6 L213 421.8 L213.5 423.1 L214 423.3 L214.5 423.5 L215 424.5 L215.2 426.5Z" fill="#8c8c8c" stroke="#a0a0a0" stroke-width="0.4" stroke-linejoin="round"/><path d="M207.1 397.7V426.5" stroke="#9a9a9a" stroke-width="0.6"/><path d="M225.4 426.5 L225.4 425.9 L225.9 425.5 L226.4 424.7 L226.9 423.9 L227.4 422.2 L227.9 420.1 L228.4 417.8 L228.9 414.5 L229.4 411.1 L229.9 407.4 L230.4 405.1 L230.9 405.2 L231.4 404.5 L231.9 407.6 L232.4 408.5 L232.9 409.6 L233.4 412.5 L233.9 413.5 L234.4 415.7 L234.9 417.3 L235.4 418.8 L235.9 419.9 L236.4 421 L236.9 422.2 L237.4 423.1 L237.9 423.5 L238.4 424.2 L238.9 424.7 L239.4 425.2 L239.9 425.4 L240.4 425.7 L240.9 425.9 L241 426.5Z" fill="#0e8a0e" stroke="#006000" stroke-width="0.5" opacity="0.9"/><path d="M217.1 409.4H256.5" stroke="#8b2020" stroke-width="1.2"/><path d="M217.1 407.4V411.4M256.5 407.4V411.4" stroke="#5a1010" stroke-width="1.1"/><path d="M190.2 396.9H256.5V427.1" fill="none" stroke="#6e6e6e" stroke-width="0.9"/><path d="M190.2 396.6V427.1H256.8" fill="none" stroke="#111" stroke-width="1.3"/><text x="188.6" y="427.1" font-size="3.2" text-anchor="middle" font-family="Liberation Sans" fill="#444" transform="rotate(-90 188.6 427.1)">0</text><text x="188.6" y="419.6" font-size="3.2" text-anchor="middle" font-family="Liberation Sans" fill="#444" transform="rotate(-90 188.6 419.6)">8</text><text x="188.6" y="412" font-size="3.2" text-anchor="middle" font-family="Liberation Sans" fill="#444" transform="rotate(-90 188.6 412)">16</text><text x="188.6" y="404.4" font-size="3.2" text-anchor="middle" font-family="Liberation Sans" fill="#444" transform="rotate(-90 188.6 404.4)">24</text><text x="188.6" y="396.9" font-size="3.2" text-anchor="middle" font-family="Liberation Sans" fill="#444" transform="rotate(-90 188.6 396.9)">32</text><text x="190.8" y="433.5" font-size="3.1" text-anchor="middle" font-family="Liberation Sans" fill="#444" transform="rotate(-20 190.8 433.5)">10<tspan font-size="2.2" dy="-1.2">0</tspan></text><text x="207.4" y="433.5" font-size="3.1" text-anchor="middle" font-family="Liberation Sans" fill="#444" transform="rotate(-20 207.4 433.5)">10<tspan font-size="2.2" dy="-1.2">1</tspan></text><text x="223.9" y="433.5" font-size="3.1" text-anchor="middle" font-family="Liberation Sans" fill="#444" transform="rotate(-20 223.9 433.5)">10<tspan font-size="2.2" dy="-1.2">2</tspan></text><text x="240.5" y="433.5" font-size="3.1" text-anchor="middle" font-family="Liberation Sans" fill="#444" transform="rotate(-20 240.5 433.5)">10<tspan font-size="2.2" dy="-1.2">3</tspan></text><text x="257.1" y="433.5" font-size="3.1" text-anchor="middle" font-family="Liberation Sans" fill="#444" transform="rotate(-20 257.1 433.5)">10<tspan font-size="2.2" dy="-1.2">4</tspan></text><text x="183.2" y="414" font-size="4.9" text-anchor="middle" font-family="Liberation Sans" fill="#333" transform="rotate(-90 183.2 414)">Count</text><text x="223.3" y="438.1" font-size="4" text-anchor="middle" font-family="Liberation Sans" fill="#222">FITC-A</text><text x="253.3" y="404.2" font-size="4.5" text-anchor="end" font-family="Liberation Sans" fill="#222" >98.29</text><text x="59.6" y="445.6" font-size="5.6" text-anchor="middle" font-family="Liberation Serif" font-weight="bold" fill="#000" >RPMI8226</text><path d="M35.6 478.2 L35.6 475.7 L36.1 476.1 L36.6 474.5 L37.1 474.4 L37.6 473.8 L38.1 474.2 L38.6 471.1 L39.1 470.1 L39.6 471.9 L40.1 471.1 L40.6 467.8 L41.1 465.5 L41.6 467.2 L42.1 466.1 L42.6 465.4 L43.1 467.2 L43.6 465.9 L44.1 462 L44.6 466.1 L45.1 465.7 L45.6 466.9 L46.1 465.4 L46.6 468.1 L47.1 466.6 L47.6 470.8 L48.1 469.5 L48.6 471.7 L49.1 472.1 L49.6 472.8 L50.1 472.8 L50.6 473.6 L51.1 475.1 L51.6 475.1 L52.1 476.3 L52.6 476.7 L52.9 478.2Z" fill="#8c8c8c" stroke="#a0a0a0" stroke-width="0.4" stroke-linejoin="round"/><path d="M42.8 478.2L44.6 450.6L45.4 450.6L47.2 478.2Z" fill="#8c8c8c"/><path d="M60.3 478.2 L60.3 477.7 L60.8 477.6 L61.3 477.3 L61.8 476.9 L62.3 476.5 L62.8 475.8 L63.3 474.7 L63.8 473.9 L64.3 472.5 L64.8 471 L65.3 469 L65.8 467.4 L66.3 465.8 L66.8 463.5 L67.3 461.7 L67.8 462.2 L68.3 462.5 L68.8 464.5 L69.3 466 L69.8 466.8 L70.3 468.6 L70.8 470.3 L71.3 472 L71.8 473.1 L72.3 474.3 L72.8 475.2 L73.3 475.7 L73.8 476.4 L74.3 476.8 L74.8 477.2 L75.3 477.5 L75.8 477.7 L76 478.2Z" fill="#0e8a0e" stroke="#006000" stroke-width="0.5" opacity="0.9"/><path d="M55.8 461.3H93.3" stroke="#8b2020" stroke-width="1.2"/><path d="M55.8 459.3V463.3M93.3 459.3V463.3" stroke="#5a1010" stroke-width="1.1"/><path d="M27.5 448.8H94.2V478.8" fill="none" stroke="#6e6e6e" stroke-width="0.9"/><path d="M27.5 448.5V478.8H94.5" fill="none" stroke="#111" stroke-width="1.3"/><text x="25.9" y="478.8" font-size="3.2" text-anchor="middle" font-family="Liberation Sans" fill="#444" transform="rotate(-90 25.9 478.8)">0</text><text x="25.9" y="471.3" font-size="3.2" text-anchor="middle" font-family="Liberation Sans" fill="#444" transform="rotate(-90 25.9 471.3)">8</text><text x="25.9" y="463.8" font-size="3.2" text-anchor="middle" font-family="Liberation Sans" fill="#444" transform="rotate(-90 25.9 463.8)">16</text><text x="25.9" y="456.3" font-size="3.2" text-anchor="middle" font-family="Liberation Sans" fill="#444" transform="rotate(-90 25.9 456.3)">24</text><text x="25.9" y="448.8" font-size="3.2" text-anchor="middle" font-family="Liberation Sans" fill="#444" transform="rotate(-90 25.9 448.8)">32</text><text x="28.1" y="485.2" font-size="3.1" text-anchor="middle" font-family="Liberation Sans" fill="#444" transform="rotate(-20 28.1 485.2)">10<tspan font-size="2.2" dy="-1.2">0</tspan></text><text x="44.8" y="485.2" font-size="3.1" text-anchor="middle" font-family="Liberation Sans" fill="#444" transform="rotate(-20 44.8 485.2)">10<tspan font-size="2.2" dy="-1.2">1</tspan></text><text x="61.5" y="485.2" font-size="3.1" text-anchor="middle" font-family="Liberation Sans" fill="#444" transform="rotate(-20 61.5 485.2)">10<tspan font-size="2.2" dy="-1.2">2</tspan></text><text x="78.1" y="485.2" font-size="3.1" text-anchor="middle" font-family="Liberation Sans" fill="#444" transform="rotate(-20 78.1 485.2)">10<tspan font-size="2.2" dy="-1.2">3</tspan></text><text x="94.8" y="485.2" font-size="3.1" text-anchor="middle" font-family="Liberation Sans" fill="#444" transform="rotate(-20 94.8 485.2)">10<tspan font-size="2.2" dy="-1.2">4</tspan></text><text x="20.5" y="465.8" font-size="4.9" text-anchor="middle" font-family="Liberation Sans" fill="#333" transform="rotate(-90 20.5 465.8)">Count</text><text x="60.9" y="489.8" font-size="4" text-anchor="middle" font-family="Liberation Sans" fill="#222">FITC-A</text><text x="91" y="456.1" font-size="4.5" text-anchor="end" font-family="Liberation Sans" fill="#222" >95.61</text><text x="145.8" y="445.6" font-size="5.6" text-anchor="middle" font-family="Liberation Serif" font-weight="bold" fill="#000" >MM1S</text><path d="M110.2 477.7 L110.2 474.6 L110.7 472.8 L111.2 471.8 L111.7 472.5 L112.2 470.4 L112.7 471.1 L113.2 469.2 L113.7 468.3 L114.2 466.7 L114.7 468.4 L115.2 463.8 L115.7 465.8 L116.2 462 L116.7 459.8 L117.2 460.4 L117.7 456.9 L118.2 456.2 L118.7 461 L119.2 459.8 L119.7 459.1 L120.2 450.4 L120.7 450.6 L121.2 452.8 L121.7 448.5 L122.2 455 L122.7 451.2 L123.2 451.5 L123.7 454.8 L124.2 452.4 L124.7 456.6 L125.2 458.9 L125.7 463.4 L126.2 464.4 L126.7 467.5 L127.2 467.3 L127.7 469.1 L128.2 471.5 L128.7 470.4 L129.2 473 L129.7 473 L130.2 474.3 L130.4 477.7Z" fill="#8c8c8c" stroke="#a0a0a0" stroke-width="0.4" stroke-linejoin="round"/><path d="M125.6 449V477.7" stroke="#9a9a9a" stroke-width="0.6"/><path d="M141.3 477.7 L141.3 477.1 L141.8 476.6 L142.3 475.8 L142.8 474.4 L143.3 472.7 L143.8 470 L144.3 467 L144.8 462.7 L145.3 458.6 L145.8 455.2 L146.3 455.4 L146.8 455.7 L147.3 459.7 L147.8 462.7 L148.3 466.5 L148.8 469.8 L149.3 472.1 L149.8 474 L150.3 475 L150.8 476 L151.3 476.7 L151.8 477.1 L151.8 477.7Z" fill="#0e8a0e" stroke="#006000" stroke-width="0.5" opacity="0.9"/><path d="M133.8 460.6H174.6" stroke="#8b2020" stroke-width="1.2"/><path d="M133.8 458.6V462.6M174.6 458.6V462.6" stroke="#5a1010" stroke-width="1.1"/><path d="M109.2 448.5H175V478.3" fill="none" stroke="#6e6e6e" stroke-width="0.9"/><path d="M109.2 448.2V478.3H175.3" fill="none" stroke="#111" stroke-width="1.3"/><text x="107.6" y="478.3" font-size="3.2" text-anchor="middle" font-family="Liberation Sans" fill="#444" transform="rotate(-90 107.6 478.3)">0</text><text x="107.6" y="470.9" font-size="3.2" text-anchor="middle" font-family="Liberation Sans" fill="#444" transform="rotate(-90 107.6 470.9)">8</text><text x="107.6" y="463.4" font-size="3.2" text-anchor="middle" font-family="Liberation Sans" fill="#444" transform="rotate(-90 107.6 463.4)">16</text><text x="107.6" y="455.9" font-size="3.2" text-anchor="middle" font-family="Liberation Sans" fill="#444" transform="rotate(-90 107.6 455.9)">24</text><text x="107.6" y="448.5" font-size="3.2" text-anchor="middle" font-family="Liberation Sans" fill="#444" transform="rotate(-90 107.6 448.5)">32</text><text x="109.8" y="484.7" font-size="3.1" text-anchor="middle" font-family="Liberation Sans" fill="#444" transform="rotate(-20 109.8 484.7)">10<tspan font-size="2.2" dy="-1.2">0</tspan></text><text x="126.2" y="484.7" font-size="3.1" text-anchor="middle" font-family="Liberation Sans" fill="#444" transform="rotate(-20 126.2 484.7)">10<tspan font-size="2.2" dy="-1.2">1</tspan></text><text x="142.7" y="484.7" font-size="3.1" text-anchor="middle" font-family="Liberation Sans" fill="#444" transform="rotate(-20 142.7 484.7)">10<tspan font-size="2.2" dy="-1.2">2</tspan></text><text x="159.2" y="484.7" font-size="3.1" text-anchor="middle" font-family="Liberation Sans" fill="#444" transform="rotate(-20 159.2 484.7)">10<tspan font-size="2.2" dy="-1.2">3</tspan></text><text x="175.6" y="484.7" font-size="3.1" text-anchor="middle" font-family="Liberation Sans" fill="#444" transform="rotate(-20 175.6 484.7)">10<tspan font-size="2.2" dy="-1.2">4</tspan></text><text x="102.2" y="465.4" font-size="4.9" text-anchor="middle" font-family="Liberation Sans" fill="#333" transform="rotate(-90 102.2 465.4)">Count</text><text x="142.1" y="489.3" font-size="4" text-anchor="middle" font-family="Liberation Sans" fill="#222">FITC-A</text><text x="171.8" y="455.8" font-size="4.5" text-anchor="end" font-family="Liberation Sans" fill="#222" >97.06</text><text x="222" y="445.6" font-size="5.6" text-anchor="middle" font-family="Liberation Serif" font-weight="bold" fill="#000" >MM1R</text><path d="M192 477.7 L192 474 L192.5 473.9 L193 473.4 L193.5 473.1 L194 471.9 L194.5 472 L195 471.5 L195.5 471.9 L196 468.5 L196.5 467.9 L197 467.9 L197.5 467.2 L198 463.9 L198.5 466.2 L199 465.8 L199.5 465.1 L200 460.5 L200.5 458.9 L201 457.1 L201.5 459.7 L202 462.1 L202.5 460.9 L203 459.8 L203.5 452.6 L204 454.5 L204.5 457.3 L205 454.6 L205.5 462.5 L206 462.2 L206.5 456.8 L207 459.7 L207.5 461.1 L208 465.2 L208.5 467.3 L209 464.4 L209.5 469.8 L210 468.7 L210.5 469.5 L211 469.8 L211.5 471.4 L212 472.6 L212.5 474.2 L213 474.3 L213.5 475.5 L213.8 477.7Z" fill="#8c8c8c" stroke="#a0a0a0" stroke-width="0.4" stroke-linejoin="round"/><path d="M206.5 449.4V477.7" stroke="#9a9a9a" stroke-width="0.6"/><path d="M223.3 477.7 L223.3 477.1 L223.8 476.8 L224.3 476.2 L224.8 475.5 L225.3 474.2 L225.8 472.6 L226.3 470.7 L226.8 468.7 L227.3 465.5 L227.8 462.9 L228.3 459.9 L228.8 457.2 L229.3 455.8 L229.8 455.8 L230.3 458.3 L230.8 459.2 L231.3 460.5 L231.8 463.1 L232.3 465.4 L232.8 466.4 L233.3 468.5 L233.8 469.8 L234.3 471.1 L234.8 472.4 L235.3 473 L235.8 473.9 L236.3 474.6 L236.8 475.4 L237.3 475.8 L237.8 476.2 L238.3 476.6 L238.8 476.8 L239.3 477 L239.5 477.7Z" fill="#0e8a0e" stroke="#006000" stroke-width="0.5" opacity="0.9"/><path d="M216.7 460.6H255.6" stroke="#8b2020" stroke-width="1.2"/><path d="M216.7 458.6V462.6M255.6 458.6V462.6" stroke="#5a1010" stroke-width="1.1"/><path d="M190.2 448.5H256V478.3" fill="none" stroke="#6e6e6e" stroke-width="0.9"/><path d="M190.2 448.2V478.3H256.3" fill="none" stroke="#111" stroke-width="1.3"/><text x="188.6" y="478.3" font-size="3.2" text-anchor="middle" font-family="Liberation Sans" fill="#444" transform="rotate(-90 188.6 478.3)">0</text><text x="188.6" y="470.9" font-size="3.2" text-anchor="middle" font-family="Liberation Sans" fill="#444" transform="rotate(-90 188.6 470.9)">8</text><text x="188.6" y="463.4" font-size="3.2" text-anchor="middle" font-family="Liberation Sans" fill="#444" transform="rotate(-90 188.6 463.4)">16</text><text x="188.6" y="455.9" font-size="3.2" text-anchor="middle" font-family="Liberation Sans" fill="#444" transform="rotate(-90 188.6 455.9)">24</text><text x="188.6" y="448.5" font-size="3.2" text-anchor="middle" font-family="Liberation Sans" fill="#444" transform="rotate(-90 188.6 448.5)">32</text><text x="190.8" y="484.7" font-size="3.1" text-anchor="middle" font-family="Liberation Sans" fill="#444" transform="rotate(-20 190.8 484.7)">10<tspan font-size="2.2" dy="-1.2">0</tspan></text><text x="207.2" y="484.7" font-size="3.1" text-anchor="middle" font-family="Liberation Sans" fill="#444" transform="rotate(-20 207.2 484.7)">10<tspan font-size="2.2" dy="-1.2">1</tspan></text><text x="223.7" y="484.7" font-size="3.1" text-anchor="middle" font-family="Liberation Sans" fill="#444" transform="rotate(-20 223.7 484.7)">10<tspan font-size="2.2" dy="-1.2">2</tspan></text><text x="240.2" y="484.7" font-size="3.1" text-anchor="middle" font-family="Liberation Sans" fill="#444" transform="rotate(-20 240.2 484.7)">10<tspan font-size="2.2" dy="-1.2">3</tspan></text><text x="256.6" y="484.7" font-size="3.1" text-anchor="middle" font-family="Liberation Sans" fill="#444" transform="rotate(-20 256.6 484.7)">10<tspan font-size="2.2" dy="-1.2">4</tspan></text><text x="183.2" y="465.4" font-size="4.9" text-anchor="middle" font-family="Liberation Sans" fill="#333" transform="rotate(-90 183.2 465.4)">Count</text><text x="223.1" y="489.3" font-size="4" text-anchor="middle" font-family="Liberation Sans" fill="#222">FITC-A</text><text x="252.8" y="455.8" font-size="4.5" text-anchor="end" font-family="Liberation Sans" fill="#222" >97.19</text><text x="58.7" y="505.6" font-size="5.6" text-anchor="middle" font-family="Liberation Serif" font-weight="bold" fill="#000" >KMS12BM</text><path d="M31.7 538.6 L31.7 536.2 L32.2 535.2 L32.7 535.6 L33.2 535.1 L33.7 534.3 L34.2 532.6 L34.7 533.9 L35.2 532.9 L35.7 532.8 L36.2 529.4 L36.7 530.9 L37.2 526.4 L37.7 529.8 L38.2 529.1 L38.7 527.3 L39.2 527.5 L39.7 523.1 L40.2 520.8 L40.7 518.8 L41.2 523.1 L41.7 523.2 L42.2 521.7 L42.7 520.4 L43.2 525 L43.7 519.7 L44.2 520.2 L44.7 521.6 L45.2 522.8 L45.7 525.5 L46.2 528.2 L46.7 528.3 L47.2 529 L47.7 530.2 L48.2 532.6 L48.7 532.5 L49.2 534.9 L49.7 535.8 L50.2 535.3 L50.7 535.9 L51 538.6Z" fill="#8c8c8c" stroke="#a0a0a0" stroke-width="0.4" stroke-linejoin="round"/><path d="M44.2 510V538.6" stroke="#9a9a9a" stroke-width="0.6"/><path d="M61.3 538.6 L61.3 538.1 L61.8 537.9 L62.3 537.4 L62.8 536.9 L63.3 536.2 L63.8 534.9 L64.3 533.6 L64.8 531.9 L65.3 530 L65.8 527.9 L66.3 526 L66.8 522.3 L67.3 520.8 L67.8 520.5 L68.3 521 L68.8 523.9 L69.3 524.6 L69.8 526.9 L70.3 529.2 L70.8 531 L71.3 532.4 L71.8 533.8 L72.3 534.9 L72.8 535.8 L73.3 536.6 L73.8 537.2 L74.3 537.6 L74.8 537.9 L75.3 538.1 L75.3 538.6Z" fill="#0e8a0e" stroke="#006000" stroke-width="0.5" opacity="0.9"/><path d="M51.9 521H94.2" stroke="#8b2020" stroke-width="1.2"/><path d="M51.9 519V523M94.2 519V523" stroke="#5a1010" stroke-width="1.1"/><path d="M27.5 508.5H94.6V539.2" fill="none" stroke="#6e6e6e" stroke-width="0.9"/><path d="M27.5 508.2V539.2H94.9" fill="none" stroke="#111" stroke-width="1.3"/><text x="25.9" y="539.2" font-size="3.2" text-anchor="middle" font-family="Liberation Sans" fill="#444" transform="rotate(-90 25.9 539.2)">0</text><text x="25.9" y="531.5" font-size="3.2" text-anchor="middle" font-family="Liberation Sans" fill="#444" transform="rotate(-90 25.9 531.5)">8</text><text x="25.9" y="523.9" font-size="3.2" text-anchor="middle" font-family="Liberation Sans" fill="#444" transform="rotate(-90 25.9 523.9)">16</text><text x="25.9" y="516.2" font-size="3.2" text-anchor="middle" font-family="Liberation Sans" fill="#444" transform="rotate(-90 25.9 516.2)">24</text><text x="25.9" y="508.5" font-size="3.2" text-anchor="middle" font-family="Liberation Sans" fill="#444" transform="rotate(-90 25.9 508.5)">32</text><text x="28.1" y="545.6" font-size="3.1" text-anchor="middle" font-family="Liberation Sans" fill="#444" transform="rotate(-20 28.1 545.6)">10<tspan font-size="2.2" dy="-1.2">0</tspan></text><text x="44.9" y="545.6" font-size="3.1" text-anchor="middle" font-family="Liberation Sans" fill="#444" transform="rotate(-20 44.9 545.6)">10<tspan font-size="2.2" dy="-1.2">1</tspan></text><text x="61.6" y="545.6" font-size="3.1" text-anchor="middle" font-family="Liberation Sans" fill="#444" transform="rotate(-20 61.6 545.6)">10<tspan font-size="2.2" dy="-1.2">2</tspan></text><text x="78.4" y="545.6" font-size="3.1" text-anchor="middle" font-family="Liberation Sans" fill="#444" transform="rotate(-20 78.4 545.6)">10<tspan font-size="2.2" dy="-1.2">3</tspan></text><text x="95.2" y="545.6" font-size="3.1" text-anchor="middle" font-family="Liberation Sans" fill="#444" transform="rotate(-20 95.2 545.6)">10<tspan font-size="2.2" dy="-1.2">4</tspan></text><text x="20.5" y="525.9" font-size="4.9" text-anchor="middle" font-family="Liberation Sans" fill="#333" transform="rotate(-90 20.5 525.9)">Count</text><text x="61" y="550.2" font-size="4" text-anchor="middle" font-family="Liberation Sans" fill="#222">FITC-A</text><text x="91.4" y="515.8" font-size="4.5" text-anchor="end" font-family="Liberation Sans" fill="#222" >96.05</text><text x="145.8" y="505.6" font-size="5.6" text-anchor="middle" font-family="Liberation Serif" font-weight="bold" fill="#000" >KMS12PE</text><path d="M116 537.7 L116 535.4 L116.5 534.8 L117 534.1 L117.5 533.9 L118 533.8 L118.5 533 L119 531.8 L119.5 530.1 L120 529.1 L120.5 527.7 L121 525 L121.5 523.6 L122 524.2 L122.5 523.6 L123 520.4 L123.5 525 L124 520.7 L124.5 517.6 L125 517.7 L125.5 522.4 L126 519.2 L126.5 523.4 L127 521.4 L127.5 524.1 L128 523.4 L128.5 527.8 L129 528.9 L129.5 529.3 L130 528.3 L130.5 529.1 L131 530.8 L131.5 533 L132 533.2 L132.5 533.2 L133 535 L133.5 535.2 L134 535.1 L134.5 535.9 L134.5 537.7Z" fill="#8c8c8c" stroke="#a0a0a0" stroke-width="0.4" stroke-linejoin="round"/><path d="M123.9 537.7L125.9 510L126.5 510L128.5 537.7Z" fill="#8c8c8c"/><path d="M142 537.7 L142 537.2 L142.5 537 L143 536.6 L143.5 536 L144 535.3 L144.5 534 L145 532.4 L145.5 530.8 L146 528.5 L146.5 527 L147 524.8 L147.5 521.7 L148 520.2 L148.5 521.5 L149 522.2 L149.5 523 L150 523.8 L150.5 525.9 L151 527.2 L151.5 527.8 L152 528.9 L152.5 530 L153 531.5 L153.5 532.2 L154 532.9 L154.5 533.8 L155 534.6 L155.5 535.1 L156 535.4 L156.5 536 L157 536.3 L157.5 536.5 L158 536.8 L158.5 536.9 L159 537.1 L159.5 537.2 L159.5 537.7Z" fill="#0e8a0e" stroke="#006000" stroke-width="0.5" opacity="0.9"/><path d="M137.1 520H174.6" stroke="#8b2020" stroke-width="1.2"/><path d="M137.1 518V522M174.6 518V522" stroke="#5a1010" stroke-width="1.1"/><path d="M108.7 508.5H175V538.3" fill="none" stroke="#6e6e6e" stroke-width="0.9"/><path d="M108.7 508.2V538.3H175.3" fill="none" stroke="#111" stroke-width="1.3"/><text x="107.1" y="538.3" font-size="3.2" text-anchor="middle" font-family="Liberation Sans" fill="#444" transform="rotate(-90 107.1 538.3)">0</text><text x="107.1" y="530.8" font-size="3.2" text-anchor="middle" font-family="Liberation Sans" fill="#444" transform="rotate(-90 107.1 530.8)">8</text><text x="107.1" y="523.4" font-size="3.2" text-anchor="middle" font-family="Liberation Sans" fill="#444" transform="rotate(-90 107.1 523.4)">16</text><text x="107.1" y="516" font-size="3.2" text-anchor="middle" font-family="Liberation Sans" fill="#444" transform="rotate(-90 107.1 516)">24</text><text x="107.1" y="508.5" font-size="3.2" text-anchor="middle" font-family="Liberation Sans" fill="#444" transform="rotate(-90 107.1 508.5)">32</text><text x="109.3" y="544.7" font-size="3.1" text-anchor="middle" font-family="Liberation Sans" fill="#444" transform="rotate(-20 109.3 544.7)">10<tspan font-size="2.2" dy="-1.2">0</tspan></text><text x="125.9" y="544.7" font-size="3.1" text-anchor="middle" font-family="Liberation Sans" fill="#444" transform="rotate(-20 125.9 544.7)">10<tspan font-size="2.2" dy="-1.2">1</tspan></text><text x="142.4" y="544.7" font-size="3.1" text-anchor="middle" font-family="Liberation Sans" fill="#444" transform="rotate(-20 142.4 544.7)">10<tspan font-size="2.2" dy="-1.2">2</tspan></text><text x="159" y="544.7" font-size="3.1" text-anchor="middle" font-family="Liberation Sans" fill="#444" transform="rotate(-20 159 544.7)">10<tspan font-size="2.2" dy="-1.2">3</tspan></text><text x="175.6" y="544.7" font-size="3.1" text-anchor="middle" font-family="Liberation Sans" fill="#444" transform="rotate(-20 175.6 544.7)">10<tspan font-size="2.2" dy="-1.2">4</tspan></text><text x="101.7" y="525.4" font-size="4.9" text-anchor="middle" font-family="Liberation Sans" fill="#333" transform="rotate(-90 101.7 525.4)">Count</text><text x="141.8" y="549.3" font-size="4" text-anchor="middle" font-family="Liberation Sans" fill="#222">FITC-A</text><text x="171.8" y="515.8" font-size="4.5" text-anchor="end" font-family="Liberation Sans" fill="#222" >99.08</text><text x="222" y="505.6" font-size="5.6" text-anchor="middle" font-family="Liberation Serif" font-weight="bold" fill="#000" >NCIH929</text><path d="M197.9 537.7 L197.9 534.9 L198.4 534.4 L198.9 533.8 L199.4 533.8 L199.9 531.6 L200.4 532.7 L200.9 531.9 L201.4 529.3 L201.9 526.5 L202.4 529.5 L202.9 523.6 L203.4 523.8 L203.9 521.1 L204.4 521.5 L204.9 519.5 L205.4 522.7 L205.9 522.4 L206.4 519.7 L206.9 522.8 L207.4 521 L207.9 523.5 L208.4 524.2 L208.9 521.3 L209.4 521.8 L209.9 527.9 L210.4 528 L210.9 528.8 L211.4 530.9 L211.9 531.3 L212.4 532.1 L212.9 531.6 L213.4 532.5 L213.9 534.4 L214.4 534.3 L214.9 535.6 L215.2 537.7Z" fill="#8c8c8c" stroke="#a0a0a0" stroke-width="0.4" stroke-linejoin="round"/><path d="M207.5 509.4V537.7" stroke="#9a9a9a" stroke-width="0.6"/><path d="M224.5 537.7 L224.5 537.3 L225 537.1 L225.5 536.8 L226 536.4 L226.5 535.9 L227 535.1 L227.5 534 L228 533 L228.5 531.6 L229 529.7 L229.5 527.9 L230 525.8 L230.5 524.7 L231 523.5 L231.5 523.8 L232 524.6 L232.5 526.3 L233 527.2 L233.5 529.3 L234 530.9 L234.5 532.2 L235 533.6 L235.5 534.6 L236 535.3 L236.5 536 L237 536.5 L237.5 536.9 L238 537.1 L238.5 537.3 L238.5 537.7Z" fill="#0e8a0e" stroke="#006000" stroke-width="0.5" opacity="0.9"/><path d="M217.7 520H257.5" stroke="#8b2020" stroke-width="1.2"/><path d="M217.7 518V522M257.5 518V522" stroke="#5a1010" stroke-width="1.1"/><path d="M190.8 508.5H257.5V538.3" fill="none" stroke="#6e6e6e" stroke-width="0.9"/><path d="M190.8 508.2V538.3H257.8" fill="none" stroke="#111" stroke-width="1.3"/><text x="189.2" y="538.3" font-size="3.2" text-anchor="middle" font-family="Liberation Sans" fill="#444" transform="rotate(-90 189.2 538.3)">0</text><text x="189.2" y="530.8" font-size="3.2" text-anchor="middle" font-family="Liberation Sans" fill="#444" transform="rotate(-90 189.2 530.8)">8</text><text x="189.2" y="523.4" font-size="3.2" text-anchor="middle" font-family="Liberation Sans" fill="#444" transform="rotate(-90 189.2 523.4)">16</text><text x="189.2" y="516" font-size="3.2" text-anchor="middle" font-family="Liberation Sans" fill="#444" transform="rotate(-90 189.2 516)">24</text><text x="189.2" y="508.5" font-size="3.2" text-anchor="middle" font-family="Liberation Sans" fill="#444" transform="rotate(-90 189.2 508.5)">32</text><text x="191.4" y="544.7" font-size="3.1" text-anchor="middle" font-family="Liberation Sans" fill="#444" transform="rotate(-20 191.4 544.7)">10<tspan font-size="2.2" dy="-1.2">0</tspan></text><text x="208.1" y="544.7" font-size="3.1" text-anchor="middle" font-family="Liberation Sans" fill="#444" transform="rotate(-20 208.1 544.7)">10<tspan font-size="2.2" dy="-1.2">1</tspan></text><text x="224.8" y="544.7" font-size="3.1" text-anchor="middle" font-family="Liberation Sans" fill="#444" transform="rotate(-20 224.8 544.7)">10<tspan font-size="2.2" dy="-1.2">2</tspan></text><text x="241.4" y="544.7" font-size="3.1" text-anchor="middle" font-family="Liberation Sans" fill="#444" transform="rotate(-20 241.4 544.7)">10<tspan font-size="2.2" dy="-1.2">3</tspan></text><text x="258.1" y="544.7" font-size="3.1" text-anchor="middle" font-family="Liberation Sans" fill="#444" transform="rotate(-20 258.1 544.7)">10<tspan font-size="2.2" dy="-1.2">4</tspan></text><text x="183.8" y="525.4" font-size="4.9" text-anchor="middle" font-family="Liberation Sans" fill="#333" transform="rotate(-90 183.8 525.4)">Count</text><text x="224.2" y="549.3" font-size="4" text-anchor="middle" font-family="Liberation Sans" fill="#222">FITC-A</text><text x="254.3" y="515.8" font-size="4.5" text-anchor="end" font-family="Liberation Sans" fill="#222" >98.37</text><text x="61.2" y="561.4" font-size="5.6" text-anchor="middle" font-family="Liberation Serif" font-weight="bold" fill="#000" >KMS11</text><path d="M33.5 594.4 L33.5 591.7 L34 591.7 L34.5 591.2 L35 590.6 L35.5 590.9 L36 589.2 L36.5 589.7 L37 586.6 L37.5 588.5 L38 586.5 L38.5 585.6 L39 583.4 L39.5 583.2 L40 581.9 L40.5 578.7 L41 577.7 L41.5 582.3 L42 581.9 L42.5 576.7 L43 576.3 L43.5 575.1 L44 580.8 L44.5 582.5 L45 578.5 L45.5 583 L46 582.6 L46.5 583 L47 583.6 L47.5 585.5 L48 588.2 L48.5 589.9 L49 590.4 L49.5 590.9 L50 592 L50.5 592.3 L50.8 594.4Z" fill="#8c8c8c" stroke="#a0a0a0" stroke-width="0.4" stroke-linejoin="round"/><path d="M42.3 594.4L43.8 565.7L44.5 565.7L45.9 594.4Z" fill="#8c8c8c"/><path d="M59.3 594.4 L59.3 594 L59.8 593.7 L60.3 593.3 L60.8 592.8 L61.3 592 L61.8 591.1 L62.3 589.8 L62.8 588.1 L63.3 586.1 L63.8 584.1 L64.3 580.9 L64.8 578.5 L65.3 578 L65.8 577.3 L66.3 579.9 L66.8 580.4 L67.3 583.1 L67.8 584.6 L68.3 586.9 L68.8 588.2 L69.3 589.9 L69.8 590.8 L70.3 591.8 L70.8 592.5 L71.3 593.1 L71.8 593.4 L72.3 593.7 L72.8 594 L72.8 594.4Z" fill="#0e8a0e" stroke="#006000" stroke-width="0.5" opacity="0.9"/><path d="M53.8 577H93" stroke="#8b2020" stroke-width="1.2"/><path d="M53.8 575V579M93 575V579" stroke="#5a1010" stroke-width="1.1"/><path d="M27.5 565H93V595" fill="none" stroke="#6e6e6e" stroke-width="0.9"/><path d="M27.5 564.7V595H93.3" fill="none" stroke="#111" stroke-width="1.3"/><text x="25.9" y="595" font-size="3.2" text-anchor="middle" font-family="Liberation Sans" fill="#444" transform="rotate(-90 25.9 595)">0</text><text x="25.9" y="587.5" font-size="3.2" text-anchor="middle" font-family="Liberation Sans" fill="#444" transform="rotate(-90 25.9 587.5)">8</text><text x="25.9" y="580" font-size="3.2" text-anchor="middle" font-family="Liberation Sans" fill="#444" transform="rotate(-90 25.9 580)">16</text><text x="25.9" y="572.5" font-size="3.2" text-anchor="middle" font-family="Liberation Sans" fill="#444" transform="rotate(-90 25.9 572.5)">24</text><text x="25.9" y="565" font-size="3.2" text-anchor="middle" font-family="Liberation Sans" fill="#444" transform="rotate(-90 25.9 565)">32</text><text x="28.1" y="601.4" font-size="3.1" text-anchor="middle" font-family="Liberation Sans" fill="#444" transform="rotate(-20 28.1 601.4)">10<tspan font-size="2.2" dy="-1.2">0</tspan></text><text x="44.5" y="601.4" font-size="3.1" text-anchor="middle" font-family="Liberation Sans" fill="#444" transform="rotate(-20 44.5 601.4)">10<tspan font-size="2.2" dy="-1.2">1</tspan></text><text x="60.9" y="601.4" font-size="3.1" text-anchor="middle" font-family="Liberation Sans" fill="#444" transform="rotate(-20 60.9 601.4)">10<tspan font-size="2.2" dy="-1.2">2</tspan></text><text x="77.2" y="601.4" font-size="3.1" text-anchor="middle" font-family="Liberation Sans" fill="#444" transform="rotate(-20 77.2 601.4)">10<tspan font-size="2.2" dy="-1.2">3</tspan></text><text x="93.6" y="601.4" font-size="3.1" text-anchor="middle" font-family="Liberation Sans" fill="#444" transform="rotate(-20 93.6 601.4)">10<tspan font-size="2.2" dy="-1.2">4</tspan></text><text x="20.5" y="582" font-size="4.9" text-anchor="middle" font-family="Liberation Sans" fill="#333" transform="rotate(-90 20.5 582)">Count</text><text x="60.2" y="606" font-size="4" text-anchor="middle" font-family="Liberation Sans" fill="#222">FITC-A</text><text x="89.8" y="572.3" font-size="4.5" text-anchor="end" font-family="Liberation Sans" fill="#222" >97.33</text><text x="148.7" y="561.7" font-size="5.6" text-anchor="middle" font-family="Liberation Serif" font-weight="bold" fill="#000" >S6B45</text><path d="M116 592.5 L116 589 L116.5 588.1 L117 588.2 L117.5 588.4 L118 587.2 L118.5 587.1 L119 585 L119.5 585 L120 582.7 L120.5 584.6 L121 583.2 L121.5 580.8 L122 579 L122.5 577.9 L123 574.7 L123.5 575.5 L124 572 L124.5 571.9 L125 572.3 L125.5 573.1 L126 568.9 L126.5 575.9 L127 575.3 L127.5 569.2 L128 570.5 L128.5 572.8 L129 576.6 L129.5 577.5 L130 579.7 L130.5 575.6 L131 579.9 L131.5 580.5 L132 582.8 L132.5 586.1 L133 586.9 L133.5 586 L134 587.9 L134.5 588.6 L135 590.2 L135.2 592.5Z" fill="#8c8c8c" stroke="#a0a0a0" stroke-width="0.4" stroke-linejoin="round"/><path d="M129.3 564.5V592.5" stroke="#9a9a9a" stroke-width="0.6"/><path d="M146.5 592.5 L146.5 591.9 L147 591.5 L147.5 590.9 L148 589.9 L148.5 588.6 L149 586.6 L149.5 583.9 L150 581.6 L150.5 577.3 L151 574.9 L151.5 570.7 L152 570.4 L152.5 571.8 L153 572.9 L153.5 574.8 L154 576.8 L154.5 580 L155 581.7 L155.5 583.1 L156 585.1 L156.5 586.6 L157 588 L157.5 588.8 L158 589.8 L158.5 590.5 L159 591 L159.5 591.4 L160 591.7 L160.5 591.9 L160.5 592.5Z" fill="#0e8a0e" stroke="#006000" stroke-width="0.5" opacity="0.9"/><path d="M137.1 575.2H177.5" stroke="#8b2020" stroke-width="1.2"/><path d="M137.1 573.2V577.2M177.5 573.2V577.2" stroke="#5a1010" stroke-width="1.1"/><path d="M113.5 563.7H178V593.1" fill="none" stroke="#6e6e6e" stroke-width="0.9"/><path d="M113.5 563.4V593.1H178.3" fill="none" stroke="#111" stroke-width="1.3"/><text x="111.9" y="593.1" font-size="3.2" text-anchor="middle" font-family="Liberation Sans" fill="#444" transform="rotate(-90 111.9 593.1)">0</text><text x="111.9" y="585.8" font-size="3.2" text-anchor="middle" font-family="Liberation Sans" fill="#444" transform="rotate(-90 111.9 585.8)">8</text><text x="111.9" y="578.4" font-size="3.2" text-anchor="middle" font-family="Liberation Sans" fill="#444" transform="rotate(-90 111.9 578.4)">16</text><text x="111.9" y="571.1" font-size="3.2" text-anchor="middle" font-family="Liberation Sans" fill="#444" transform="rotate(-90 111.9 571.1)">24</text><text x="111.9" y="563.7" font-size="3.2" text-anchor="middle" font-family="Liberation Sans" fill="#444" transform="rotate(-90 111.9 563.7)">32</text><text x="114.1" y="599.5" font-size="3.1" text-anchor="middle" font-family="Liberation Sans" fill="#444" transform="rotate(-20 114.1 599.5)">10<tspan font-size="2.2" dy="-1.2">0</tspan></text><text x="130.2" y="599.5" font-size="3.1" text-anchor="middle" font-family="Liberation Sans" fill="#444" transform="rotate(-20 130.2 599.5)">10<tspan font-size="2.2" dy="-1.2">1</tspan></text><text x="146.3" y="599.5" font-size="3.1" text-anchor="middle" font-family="Liberation Sans" fill="#444" transform="rotate(-20 146.3 599.5)">10<tspan font-size="2.2" dy="-1.2">2</tspan></text><text x="162.5" y="599.5" font-size="3.1" text-anchor="middle" font-family="Liberation Sans" fill="#444" transform="rotate(-20 162.5 599.5)">10<tspan font-size="2.2" dy="-1.2">3</tspan></text><text x="178.6" y="599.5" font-size="3.1" text-anchor="middle" font-family="Liberation Sans" fill="#444" transform="rotate(-20 178.6 599.5)">10<tspan font-size="2.2" dy="-1.2">4</tspan></text><text x="106.5" y="580.4" font-size="4.9" text-anchor="middle" font-family="Liberation Sans" fill="#333" transform="rotate(-90 106.5 580.4)">Count</text><text x="145.8" y="604.1" font-size="4" text-anchor="middle" font-family="Liberation Sans" fill="#222">FITC-A</text><text x="174.8" y="571" font-size="4.5" text-anchor="end" font-family="Liberation Sans" fill="#222" >99.23</text><text x="314.2" y="394.4" font-size="5.6" text-anchor="middle" font-family="Liberation Serif" font-weight="bold" fill="#000" >U266</text><path d="M297.9 428.4 L297.9 426.8 L298.4 427.1 L298.9 426.8 L299.4 426.1 L299.9 426 L300.4 425.1 L300.9 424.4 L301.4 424.2 L301.9 424.4 L302.4 421.8 L302.9 423.2 L303.4 420.8 L303.9 420.7 L304.4 416.9 L304.9 417.7 L305.4 417 L305.9 416.4 L306.4 414.2 L306.9 413.3 L307.4 411 L307.9 409 L308.4 404.2 L308.9 408.1 L309.4 403.3 L309.9 407.3 L310.4 404.9 L310.9 406.7 L311.4 409 L311.9 406 L312.4 409.7 L312.9 414.1 L313.4 417.4 L313.9 416.1 L314.4 417.3 L314.9 421.8 L315.4 423.4 L315.9 424.3 L316.4 424.8 L316.9 426.4 L317.4 426.9 L317.9 427.3 L318.4 427.7 L318.5 428.4Z" fill="#8c8c8c" stroke="#a0a0a0" stroke-width="0.4" stroke-linejoin="round"/><path d="M317 428.4 L317 428 L317.5 427.5 L318 426.5 L318.5 424.5 L319 421 L319.5 416.6 L320 409.5 L320.5 401.8 L321 398.1 L321.5 398.5 L322 402 L322.5 403.3 L323 404.9 L323.5 408.8 L324 411.5 L324.5 414.6 L325 416.4 L325.5 419 L326 420.3 L326.5 422 L327 423.1 L327.5 424.6 L328 425.2 L328.5 426.1 L329 426.7 L329.5 427.1 L330 427.4 L330.5 427.7 L331 427.9 L331.5 428 L331.5 428.4Z" fill="#0e8a0e" stroke="#006000" stroke-width="0.5" opacity="0.9"/><path d="M319.6 409.8H349.2" stroke="#8b2020" stroke-width="1.2"/><path d="M319.6 407.8V411.8M349.2 407.8V411.8" stroke="#5a1010" stroke-width="1.1"/><path d="M285 396.3H349.8V429" fill="none" stroke="#6e6e6e" stroke-width="0.9"/><path d="M285 396V429H350.1" fill="none" stroke="#111" stroke-width="1.3"/><text x="283.4" y="429" font-size="3.2" text-anchor="middle" font-family="Liberation Sans" fill="#444" transform="rotate(-90 283.4 429)">0</text><text x="283.4" y="420.8" font-size="3.2" text-anchor="middle" font-family="Liberation Sans" fill="#444" transform="rotate(-90 283.4 420.8)">8</text><text x="283.4" y="412.6" font-size="3.2" text-anchor="middle" font-family="Liberation Sans" fill="#444" transform="rotate(-90 283.4 412.6)">16</text><text x="283.4" y="404.5" font-size="3.2" text-anchor="middle" font-family="Liberation Sans" fill="#444" transform="rotate(-90 283.4 404.5)">24</text><text x="283.4" y="396.3" font-size="3.2" text-anchor="middle" font-family="Liberation Sans" fill="#444" transform="rotate(-90 283.4 396.3)">32</text><text x="285.6" y="435.4" font-size="3.1" text-anchor="middle" font-family="Liberation Sans" fill="#444" transform="rotate(-20 285.6 435.4)">10<tspan font-size="2.2" dy="-1.2">0</tspan></text><text x="301.8" y="435.4" font-size="3.1" text-anchor="middle" font-family="Liberation Sans" fill="#444" transform="rotate(-20 301.8 435.4)">10<tspan font-size="2.2" dy="-1.2">1</tspan></text><text x="318" y="435.4" font-size="3.1" text-anchor="middle" font-family="Liberation Sans" fill="#444" transform="rotate(-20 318 435.4)">10<tspan font-size="2.2" dy="-1.2">2</tspan></text><text x="334.2" y="435.4" font-size="3.1" text-anchor="middle" font-family="Liberation Sans" fill="#444" transform="rotate(-20 334.2 435.4)">10<tspan font-size="2.2" dy="-1.2">3</tspan></text><text x="350.4" y="435.4" font-size="3.1" text-anchor="middle" font-family="Liberation Sans" fill="#444" transform="rotate(-20 350.4 435.4)">10<tspan font-size="2.2" dy="-1.2">4</tspan></text><text x="278" y="414.6" font-size="4.9" text-anchor="middle" font-family="Liberation Sans" fill="#333" transform="rotate(-90 278 414.6)">Count</text><text x="317.4" y="440" font-size="4" text-anchor="middle" font-family="Liberation Sans" fill="#222">FITC-A</text><text x="346.6" y="403.6" font-size="4.5" text-anchor="end" font-family="Liberation Sans" fill="#222" >79.92</text><text x="393.3" y="394.4" font-size="5.6" text-anchor="middle" font-family="Liberation Serif" font-weight="bold" fill="#000" >OPM1</text><path d="M376 427.5 L376 426.8 L376.5 426.2 L377 426.1 L377.5 425 L378 424.8 L378.5 423.8 L379 423 L379.5 421.3 L380 418.9 L380.5 416.1 L381 410.4 L381.5 412 L382 407.2 L382.5 403.1 L383 398 L383.5 403.5 L384 402.9 L384.5 401 L385 397 L385.5 405 L386 403 L386.5 407.5 L387 414.5 L387.5 415.6 L388 417.1 L388.5 420.5 L389 423.5 L389.5 424.1 L390 425.6 L390.5 426.1 L391 426.6 L391.5 426.9 L392 427.2 L392.5 427.3 L392.5 427.5Z" fill="#8c8c8c" stroke="#a0a0a0" stroke-width="0.4" stroke-linejoin="round"/><path d="M399 427.5 L399 426.9 L399.5 426.3 L400 425.4 L400.5 423.9 L401 421.3 L401.5 417.8 L402 413.2 L402.5 407 L403 401.1 L403.5 399.8 L404 399.4 L404.5 403.8 L405 405.1 L405.5 408 L406 411.5 L406.5 414.4 L407 417.1 L407.5 418.7 L408 421.1 L408.5 422.5 L409 423.7 L409.5 424.6 L410 425.4 L410.5 426 L411 426.4 L411.5 426.7 L411.8 427.5Z" fill="#0e8a0e" stroke="#006000" stroke-width="0.5" opacity="0.9"/><path d="M394.2 409.8H427" stroke="#8b2020" stroke-width="1.2"/><path d="M394.2 407.8V411.8M427 407.8V411.8" stroke="#5a1010" stroke-width="1.1"/><path d="M362.5 396.3H427.3V428.1" fill="none" stroke="#6e6e6e" stroke-width="0.9"/><path d="M362.5 396V428.1H427.6" fill="none" stroke="#111" stroke-width="1.3"/><text x="360.9" y="428.1" font-size="3.2" text-anchor="middle" font-family="Liberation Sans" fill="#444" transform="rotate(-90 360.9 428.1)">0</text><text x="360.9" y="420.2" font-size="3.2" text-anchor="middle" font-family="Liberation Sans" fill="#444" transform="rotate(-90 360.9 420.2)">8</text><text x="360.9" y="412.2" font-size="3.2" text-anchor="middle" font-family="Liberation Sans" fill="#444" transform="rotate(-90 360.9 412.2)">16</text><text x="360.9" y="404.2" font-size="3.2" text-anchor="middle" font-family="Liberation Sans" fill="#444" transform="rotate(-90 360.9 404.2)">24</text><text x="360.9" y="396.3" font-size="3.2" text-anchor="middle" font-family="Liberation Sans" fill="#444" transform="rotate(-90 360.9 396.3)">32</text><text x="363.1" y="434.5" font-size="3.1" text-anchor="middle" font-family="Liberation Sans" fill="#444" transform="rotate(-20 363.1 434.5)">10<tspan font-size="2.2" dy="-1.2">0</tspan></text><text x="379.3" y="434.5" font-size="3.1" text-anchor="middle" font-family="Liberation Sans" fill="#444" transform="rotate(-20 379.3 434.5)">10<tspan font-size="2.2" dy="-1.2">1</tspan></text><text x="395.5" y="434.5" font-size="3.1" text-anchor="middle" font-family="Liberation Sans" fill="#444" transform="rotate(-20 395.5 434.5)">10<tspan font-size="2.2" dy="-1.2">2</tspan></text><text x="411.7" y="434.5" font-size="3.1" text-anchor="middle" font-family="Liberation Sans" fill="#444" transform="rotate(-20 411.7 434.5)">10<tspan font-size="2.2" dy="-1.2">3</tspan></text><text x="427.9" y="434.5" font-size="3.1" text-anchor="middle" font-family="Liberation Sans" fill="#444" transform="rotate(-20 427.9 434.5)">10<tspan font-size="2.2" dy="-1.2">4</tspan></text><text x="355.5" y="414.2" font-size="4.9" text-anchor="middle" font-family="Liberation Sans" fill="#333" transform="rotate(-90 355.5 414.2)">Count</text><text x="394.9" y="439.1" font-size="4" text-anchor="middle" font-family="Liberation Sans" fill="#222">FITC-A</text><text x="424.1" y="403.6" font-size="4.5" text-anchor="end" font-family="Liberation Sans" fill="#222" >95.79</text><text x="471" y="394.4" font-size="5.6" text-anchor="middle" font-family="Liberation Serif" font-weight="bold" fill="#000" >OPM2</text><path d="M449.8 427.5 L449.8 426.2 L450.3 425.9 L450.8 424.7 L451.3 424.3 L451.8 423.3 L452.3 423.1 L452.8 421.9 L453.3 420.3 L453.8 419.5 L454.3 419.9 L454.8 415.1 L455.3 416.3 L455.8 411.1 L456.3 414 L456.8 412 L457.3 410.7 L457.8 401.6 L458.3 404.2 L458.8 398.4 L459.3 399 L459.8 399.5 L460.3 400.1 L460.8 399 L461.3 397.9 L461.8 398.4 L462.3 403 L462.8 401.8 L463.3 403.9 L463.8 411.1 L464.3 408.3 L464.8 410.3 L465.3 412.5 L465.8 414.6 L466.3 417.9 L466.8 420.8 L467.3 421 L467.8 423.5 L468.3 424.5 L468.8 424.1 L469.3 425.8 L469.8 426.2 L470.3 426.4 L470.8 426.5 L471 427.5Z" fill="#8c8c8c" stroke="#a0a0a0" stroke-width="0.4" stroke-linejoin="round"/><path d="M472.8 427.5 L472.8 427 L473.3 426.5 L473.8 425.8 L474.3 424.7 L474.8 423 L475.3 419.8 L475.8 416.8 L476.3 412.4 L476.8 407.4 L477.3 403.6 L477.8 402.3 L478.3 402.3 L478.8 405.8 L479.3 406 L479.8 409.9 L480.3 411.6 L480.8 414.2 L481.3 415.9 L481.8 417.7 L482.3 419.3 L482.8 421.1 L483.3 422.2 L483.8 423.3 L484.3 424.2 L484.8 425 L485.3 425.7 L485.8 426 L486.3 426.4 L486.8 426.7 L487.3 426.9 L487.5 427.5Z" fill="#0e8a0e" stroke="#006000" stroke-width="0.5" opacity="0.9"/><path d="M470.6 409.4H508.8" stroke="#8b2020" stroke-width="1.2"/><path d="M470.6 407.4V411.4M508.8 407.4V411.4" stroke="#5a1010" stroke-width="1.1"/><path d="M443.7 396.3H509.4V428.1" fill="none" stroke="#6e6e6e" stroke-width="0.9"/><path d="M443.7 396V428.1H509.7" fill="none" stroke="#111" stroke-width="1.3"/><text x="442.1" y="428.1" font-size="3.2" text-anchor="middle" font-family="Liberation Sans" fill="#444" transform="rotate(-90 442.1 428.1)">0</text><text x="442.1" y="420.2" font-size="3.2" text-anchor="middle" font-family="Liberation Sans" fill="#444" transform="rotate(-90 442.1 420.2)">8</text><text x="442.1" y="412.2" font-size="3.2" text-anchor="middle" font-family="Liberation Sans" fill="#444" transform="rotate(-90 442.1 412.2)">16</text><text x="442.1" y="404.2" font-size="3.2" text-anchor="middle" font-family="Liberation Sans" fill="#444" transform="rotate(-90 442.1 404.2)">24</text><text x="442.1" y="396.3" font-size="3.2" text-anchor="middle" font-family="Liberation Sans" fill="#444" transform="rotate(-90 442.1 396.3)">32</text><text x="444.3" y="434.5" font-size="3.1" text-anchor="middle" font-family="Liberation Sans" fill="#444" transform="rotate(-20 444.3 434.5)">10<tspan font-size="2.2" dy="-1.2">0</tspan></text><text x="460.7" y="434.5" font-size="3.1" text-anchor="middle" font-family="Liberation Sans" fill="#444" transform="rotate(-20 460.7 434.5)">10<tspan font-size="2.2" dy="-1.2">1</tspan></text><text x="477.1" y="434.5" font-size="3.1" text-anchor="middle" font-family="Liberation Sans" fill="#444" transform="rotate(-20 477.1 434.5)">10<tspan font-size="2.2" dy="-1.2">2</tspan></text><text x="493.6" y="434.5" font-size="3.1" text-anchor="middle" font-family="Liberation Sans" fill="#444" transform="rotate(-20 493.6 434.5)">10<tspan font-size="2.2" dy="-1.2">3</tspan></text><text x="510" y="434.5" font-size="3.1" text-anchor="middle" font-family="Liberation Sans" fill="#444" transform="rotate(-20 510 434.5)">10<tspan font-size="2.2" dy="-1.2">4</tspan></text><text x="436.7" y="414.2" font-size="4.9" text-anchor="middle" font-family="Liberation Sans" fill="#333" transform="rotate(-90 436.7 414.2)">Count</text><text x="476.5" y="439.1" font-size="4" text-anchor="middle" font-family="Liberation Sans" fill="#222">FITC-A</text><text x="506.2" y="403.6" font-size="4.5" text-anchor="end" font-family="Liberation Sans" fill="#222" >97.67</text><text x="313.3" y="445.6" font-size="5.6" text-anchor="middle" font-family="Liberation Serif" font-weight="bold" fill="#000" >RPMI8226</text><path d="M296.9 479.6 L296.9 478 L297.4 477.3 L297.9 477 L298.4 475.9 L298.9 475.6 L299.4 473.8 L299.9 472.7 L300.4 469.7 L300.9 467.2 L301.4 468.2 L301.9 465.7 L302.4 461.6 L302.9 458.1 L303.4 461.8 L303.9 452.6 L304.4 448.1 L304.9 452.4 L305.4 448.1 L305.9 449.6 L306.4 451.3 L306.9 454.5 L307.4 461.1 L307.9 457 L308.4 465.2 L308.9 469.4 L309.4 471.3 L309.9 473.7 L310.4 474.7 L310.9 476.9 L311.4 477.4 L311.9 478.5 L312.4 478.8 L312.5 479.6Z" fill="#8c8c8c" stroke="#a0a0a0" stroke-width="0.4" stroke-linejoin="round"/><path d="M308.3 479.6 L308.3 479.2 L308.8 479.1 L309.3 478.7 L309.8 478.4 L310.3 477.8 L310.8 476.9 L311.3 475.7 L311.8 474.1 L312.3 472.3 L312.8 470 L313.3 467.6 L313.8 464.3 L314.3 460.8 L314.8 455.7 L315.3 453.1 L315.8 451.5 L316.3 448.5 L316.8 450.1 L317.3 453.4 L317.8 458.1 L318.3 460.7 L318.8 464.3 L319.3 465.8 L319.8 469.4 L320.3 471.5 L320.8 473.4 L321.3 474.7 L321.8 476 L322.3 477 L322.8 477.7 L323.3 478.3 L323.8 478.7 L324.3 479 L324.8 479.2 L325 479.6Z" fill="#0e8a0e" stroke="#006000" stroke-width="0.5" opacity="0.9"/><path d="M317.1 460.6H348.5" stroke="#8b2020" stroke-width="1.2"/><path d="M317.1 458.6V462.6M348.5 458.6V462.6" stroke="#5a1010" stroke-width="1.1"/><path d="M285.4 448.1H348.8V480.2" fill="none" stroke="#6e6e6e" stroke-width="0.9"/><path d="M285.4 447.8V480.2H349.1" fill="none" stroke="#111" stroke-width="1.3"/><text x="283.8" y="480.2" font-size="3.2" text-anchor="middle" font-family="Liberation Sans" fill="#444" transform="rotate(-90 283.8 480.2)">0</text><text x="283.8" y="472.2" font-size="3.2" text-anchor="middle" font-family="Liberation Sans" fill="#444" transform="rotate(-90 283.8 472.2)">8</text><text x="283.8" y="464.1" font-size="3.2" text-anchor="middle" font-family="Liberation Sans" fill="#444" transform="rotate(-90 283.8 464.1)">16</text><text x="283.8" y="456.1" font-size="3.2" text-anchor="middle" font-family="Liberation Sans" fill="#444" transform="rotate(-90 283.8 456.1)">24</text><text x="283.8" y="448.1" font-size="3.2" text-anchor="middle" font-family="Liberation Sans" fill="#444" transform="rotate(-90 283.8 448.1)">32</text><text x="286" y="486.6" font-size="3.1" text-anchor="middle" font-family="Liberation Sans" fill="#444" transform="rotate(-20 286 486.6)">10<tspan font-size="2.2" dy="-1.2">0</tspan></text><text x="301.9" y="486.6" font-size="3.1" text-anchor="middle" font-family="Liberation Sans" fill="#444" transform="rotate(-20 301.9 486.6)">10<tspan font-size="2.2" dy="-1.2">1</tspan></text><text x="317.7" y="486.6" font-size="3.1" text-anchor="middle" font-family="Liberation Sans" fill="#444" transform="rotate(-20 317.7 486.6)">10<tspan font-size="2.2" dy="-1.2">2</tspan></text><text x="333.6" y="486.6" font-size="3.1" text-anchor="middle" font-family="Liberation Sans" fill="#444" transform="rotate(-20 333.6 486.6)">10<tspan font-size="2.2" dy="-1.2">3</tspan></text><text x="349.4" y="486.6" font-size="3.1" text-anchor="middle" font-family="Liberation Sans" fill="#444" transform="rotate(-20 349.4 486.6)">10<tspan font-size="2.2" dy="-1.2">4</tspan></text><text x="278.4" y="466.1" font-size="4.9" text-anchor="middle" font-family="Liberation Sans" fill="#333" transform="rotate(-90 278.4 466.1)">Count</text><text x="317.1" y="491.2" font-size="4" text-anchor="middle" font-family="Liberation Sans" fill="#222">FITC-A</text><text x="345.6" y="455.4" font-size="4.5" text-anchor="end" font-family="Liberation Sans" fill="#222" >47.57</text><text x="397.1" y="445.6" font-size="5.6" text-anchor="middle" font-family="Liberation Serif" font-weight="bold" fill="#000" >MM1S</text><path d="M368.3 479.2 L368.3 477.6 L368.8 476.9 L369.3 476.1 L369.8 475.6 L370.3 475.7 L370.8 474.9 L371.3 472.7 L371.8 473.4 L372.3 473.1 L372.8 471.4 L373.3 470.8 L373.8 467.3 L374.3 467.8 L374.8 466.1 L375.3 463.2 L375.8 459.2 L376.3 460.7 L376.8 451.4 L377.3 452.3 L377.8 454.5 L378.3 452.4 L378.8 447.5 L379.3 455.7 L379.8 455.6 L380.3 451.8 L380.8 457.9 L381.3 463.1 L381.8 466.8 L382.3 471 L382.8 473.8 L383.3 475.7 L383.8 476.9 L384.3 477.6 L384.8 478.4 L384.8 479.2Z" fill="#8c8c8c" stroke="#a0a0a0" stroke-width="0.4" stroke-linejoin="round"/><path d="M388.3 479.2 L388.3 478.9 L388.8 478.6 L389.3 478.2 L389.8 477.4 L390.3 476 L390.8 474.1 L391.3 471.3 L391.8 467.3 L392.3 463.8 L392.8 459.9 L393.3 457.6 L393.8 458.2 L394.3 460.4 L394.8 463 L395.3 466 L395.8 468.6 L396.3 470.7 L396.8 472.3 L397.3 473.8 L397.8 475.3 L398.3 476.6 L398.8 477.3 L399.3 477.8 L399.8 478.3 L400.3 478.6 L400.8 478.8 L401.3 478.9 L401.3 479.2Z" fill="#0e8a0e" stroke="#006000" stroke-width="0.5" opacity="0.9"/><path d="M386.5 460.6H427.5" stroke="#8b2020" stroke-width="1.2"/><path d="M386.5 458.6V462.6M427.5 458.6V462.6" stroke="#5a1010" stroke-width="1.1"/><path d="M362.5 447.5H427.9V479.8" fill="none" stroke="#6e6e6e" stroke-width="0.9"/><path d="M362.5 447.2V479.8H428.2" fill="none" stroke="#111" stroke-width="1.3"/><text x="360.9" y="479.8" font-size="3.2" text-anchor="middle" font-family="Liberation Sans" fill="#444" transform="rotate(-90 360.9 479.8)">0</text><text x="360.9" y="471.7" font-size="3.2" text-anchor="middle" font-family="Liberation Sans" fill="#444" transform="rotate(-90 360.9 471.7)">8</text><text x="360.9" y="463.6" font-size="3.2" text-anchor="middle" font-family="Liberation Sans" fill="#444" transform="rotate(-90 360.9 463.6)">16</text><text x="360.9" y="455.6" font-size="3.2" text-anchor="middle" font-family="Liberation Sans" fill="#444" transform="rotate(-90 360.9 455.6)">24</text><text x="360.9" y="447.5" font-size="3.2" text-anchor="middle" font-family="Liberation Sans" fill="#444" transform="rotate(-90 360.9 447.5)">32</text><text x="363.1" y="486.2" font-size="3.1" text-anchor="middle" font-family="Liberation Sans" fill="#444" transform="rotate(-20 363.1 486.2)">10<tspan font-size="2.2" dy="-1.2">0</tspan></text><text x="379.5" y="486.2" font-size="3.1" text-anchor="middle" font-family="Liberation Sans" fill="#444" transform="rotate(-20 379.5 486.2)">10<tspan font-size="2.2" dy="-1.2">1</tspan></text><text x="395.8" y="486.2" font-size="3.1" text-anchor="middle" font-family="Liberation Sans" fill="#444" transform="rotate(-20 395.8 486.2)">10<tspan font-size="2.2" dy="-1.2">2</tspan></text><text x="412.1" y="486.2" font-size="3.1" text-anchor="middle" font-family="Liberation Sans" fill="#444" transform="rotate(-20 412.1 486.2)">10<tspan font-size="2.2" dy="-1.2">3</tspan></text><text x="428.5" y="486.2" font-size="3.1" text-anchor="middle" font-family="Liberation Sans" fill="#444" transform="rotate(-20 428.5 486.2)">10<tspan font-size="2.2" dy="-1.2">4</tspan></text><text x="355.5" y="465.6" font-size="4.9" text-anchor="middle" font-family="Liberation Sans" fill="#333" transform="rotate(-90 355.5 465.6)">Count</text><text x="395.2" y="490.8" font-size="4" text-anchor="middle" font-family="Liberation Sans" fill="#222">FITC-A</text><text x="424.7" y="454.8" font-size="4.5" text-anchor="end" font-family="Liberation Sans" fill="#222" >97.12</text><text x="469.6" y="445.6" font-size="5.6" text-anchor="middle" font-family="Liberation Serif" font-weight="bold" fill="#000" >MM1R</text><path d="M454.6 479.2 L454.6 477.2 L455.1 476.9 L455.6 476.1 L456.1 475.4 L456.6 475.2 L457.1 473.9 L457.6 473.7 L458.1 471.7 L458.6 468.3 L459.1 467.3 L459.6 466.9 L460.1 458.4 L460.6 462.4 L461.1 455.9 L461.6 450.2 L462.1 457.2 L462.6 454.8 L463.1 452 L463.6 451.7 L464.1 448.2 L464.6 452.2 L465.1 452.8 L465.6 454.9 L466.1 457.1 L466.6 463.1 L467.1 468 L467.6 469.2 L468.1 473.5 L468.6 474 L469.1 475.8 L469.6 476.5 L470.1 477.6 L470.6 478.4 L471 479.2Z" fill="#8c8c8c" stroke="#a0a0a0" stroke-width="0.4" stroke-linejoin="round"/><path d="M470 479.2 L470 478.9 L470.5 478.5 L471 477.9 L471.5 476.7 L472 474.8 L472.5 472.2 L473 468.1 L473.5 463.2 L474 457.7 L474.5 453.2 L475 451 L475.5 453.6 L476 456 L476.5 457.6 L477 459.8 L477.5 462 L478 463.7 L478.5 465.4 L479 467.8 L479.5 469.6 L480 470.9 L480.5 472.1 L481 473.5 L481.5 474.9 L482 475.7 L482.5 476.5 L483 476.9 L483.5 477.4 L484 477.8 L484.5 478.1 L485 478.4 L485.5 478.6 L486 478.7 L486.5 478.9 L486.5 479.2Z" fill="#0e8a0e" stroke="#006000" stroke-width="0.5" opacity="0.9"/><path d="M474.8 460.6H508.8" stroke="#8b2020" stroke-width="1.2"/><path d="M474.8 458.6V462.6M508.8 458.6V462.6" stroke="#5a1010" stroke-width="1.1"/><path d="M442.7 447.5H509.4V479.8" fill="none" stroke="#6e6e6e" stroke-width="0.9"/><path d="M442.7 447.2V479.8H509.7" fill="none" stroke="#111" stroke-width="1.3"/><text x="441.1" y="479.8" font-size="3.2" text-anchor="middle" font-family="Liberation Sans" fill="#444" transform="rotate(-90 441.1 479.8)">0</text><text x="441.1" y="471.7" font-size="3.2" text-anchor="middle" font-family="Liberation Sans" fill="#444" transform="rotate(-90 441.1 471.7)">8</text><text x="441.1" y="463.6" font-size="3.2" text-anchor="middle" font-family="Liberation Sans" fill="#444" transform="rotate(-90 441.1 463.6)">16</text><text x="441.1" y="455.6" font-size="3.2" text-anchor="middle" font-family="Liberation Sans" fill="#444" transform="rotate(-90 441.1 455.6)">24</text><text x="441.1" y="447.5" font-size="3.2" text-anchor="middle" font-family="Liberation Sans" fill="#444" transform="rotate(-90 441.1 447.5)">32</text><text x="443.3" y="486.2" font-size="3.1" text-anchor="middle" font-family="Liberation Sans" fill="#444" transform="rotate(-20 443.3 486.2)">10<tspan font-size="2.2" dy="-1.2">0</tspan></text><text x="460" y="486.2" font-size="3.1" text-anchor="middle" font-family="Liberation Sans" fill="#444" transform="rotate(-20 460 486.2)">10<tspan font-size="2.2" dy="-1.2">1</tspan></text><text x="476.6" y="486.2" font-size="3.1" text-anchor="middle" font-family="Liberation Sans" fill="#444" transform="rotate(-20 476.6 486.2)">10<tspan font-size="2.2" dy="-1.2">2</tspan></text><text x="493.3" y="486.2" font-size="3.1" text-anchor="middle" font-family="Liberation Sans" fill="#444" transform="rotate(-20 493.3 486.2)">10<tspan font-size="2.2" dy="-1.2">3</tspan></text><text x="510" y="486.2" font-size="3.1" text-anchor="middle" font-family="Liberation Sans" fill="#444" transform="rotate(-20 510 486.2)">10<tspan font-size="2.2" dy="-1.2">4</tspan></text><text x="435.7" y="465.6" font-size="4.9" text-anchor="middle" font-family="Liberation Sans" fill="#333" transform="rotate(-90 435.7 465.6)">Count</text><text x="476" y="490.8" font-size="4" text-anchor="middle" font-family="Liberation Sans" fill="#222">FITC-A</text><text x="506.2" y="454.8" font-size="4.5" text-anchor="end" font-family="Liberation Sans" fill="#222" >76.88</text><text x="314.2" y="502.9" font-size="5.6" text-anchor="middle" font-family="Liberation Serif" font-weight="bold" fill="#000" >KMS12BM</text><path d="M291.2 537.9 L291.2 536.8 L291.7 536.6 L292.2 536.1 L292.7 535.6 L293.2 534.4 L293.7 532.6 L294.2 532.2 L294.7 529.7 L295.2 527.9 L295.7 529.5 L296.2 525 L296.7 520.6 L297.2 522 L297.7 518.5 L298.2 518.2 L298.7 523.1 L299.2 522.6 L299.7 523.6 L300.2 525.4 L300.7 525.9 L301.2 527.5 L301.7 527 L302.2 526.5 L302.7 531 L303.2 529.2 L303.7 531.1 L304.2 533.8 L304.7 533.3 L305.2 534.8 L305.7 535.8 L306.2 536.1 L306.7 536.2 L307.2 536.7 L307.7 537.2 L308.2 537.3 L308.5 537.9Z" fill="#8c8c8c" stroke="#a0a0a0" stroke-width="0.4" stroke-linejoin="round"/><path d="M301.7 508.3V537.9" stroke="#9a9a9a" stroke-width="0.6"/><path d="M314.5 537.9 L314.5 537.5 L315 537.2 L315.5 536.4 L316 535 L316.5 533 L317 529.7 L317.5 525 L318 517.9 L318.5 511.9 L319 509.9 L319.5 510.5 L320 513.8 L320.5 515 L321 519.6 L321.5 523 L322 525.1 L322.5 528.1 L323 530.1 L323.5 532.2 L324 533.4 L324.5 534.8 L325 535.6 L325.5 536.2 L326 536.8 L326.5 537.1 L327 537.4 L327.5 537.5 L327.5 537.9Z" fill="#0e8a0e" stroke="#006000" stroke-width="0.5" opacity="0.9"/><path d="M311.3 519.8H350.4" stroke="#8b2020" stroke-width="1.2"/><path d="M311.3 517.8V521.8M350.4 517.8V521.8" stroke="#5a1010" stroke-width="1.1"/><path d="M285 506.9H350.4V538.5" fill="none" stroke="#6e6e6e" stroke-width="0.9"/><path d="M285 506.6V538.5H350.7" fill="none" stroke="#111" stroke-width="1.3"/><text x="283.4" y="538.5" font-size="3.2" text-anchor="middle" font-family="Liberation Sans" fill="#444" transform="rotate(-90 283.4 538.5)">0</text><text x="283.4" y="530.6" font-size="3.2" text-anchor="middle" font-family="Liberation Sans" fill="#444" transform="rotate(-90 283.4 530.6)">8</text><text x="283.4" y="522.7" font-size="3.2" text-anchor="middle" font-family="Liberation Sans" fill="#444" transform="rotate(-90 283.4 522.7)">16</text><text x="283.4" y="514.8" font-size="3.2" text-anchor="middle" font-family="Liberation Sans" fill="#444" transform="rotate(-90 283.4 514.8)">24</text><text x="283.4" y="506.9" font-size="3.2" text-anchor="middle" font-family="Liberation Sans" fill="#444" transform="rotate(-90 283.4 506.9)">32</text><text x="285.6" y="544.9" font-size="3.1" text-anchor="middle" font-family="Liberation Sans" fill="#444" transform="rotate(-20 285.6 544.9)">10<tspan font-size="2.2" dy="-1.2">0</tspan></text><text x="302" y="544.9" font-size="3.1" text-anchor="middle" font-family="Liberation Sans" fill="#444" transform="rotate(-20 302 544.9)">10<tspan font-size="2.2" dy="-1.2">1</tspan></text><text x="318.3" y="544.9" font-size="3.1" text-anchor="middle" font-family="Liberation Sans" fill="#444" transform="rotate(-20 318.3 544.9)">10<tspan font-size="2.2" dy="-1.2">2</tspan></text><text x="334.6" y="544.9" font-size="3.1" text-anchor="middle" font-family="Liberation Sans" fill="#444" transform="rotate(-20 334.6 544.9)">10<tspan font-size="2.2" dy="-1.2">3</tspan></text><text x="351" y="544.9" font-size="3.1" text-anchor="middle" font-family="Liberation Sans" fill="#444" transform="rotate(-20 351 544.9)">10<tspan font-size="2.2" dy="-1.2">4</tspan></text><text x="278" y="524.7" font-size="4.9" text-anchor="middle" font-family="Liberation Sans" fill="#333" transform="rotate(-90 278 524.7)">Count</text><text x="317.7" y="549.5" font-size="4" text-anchor="middle" font-family="Liberation Sans" fill="#222">FITC-A</text><text x="347.2" y="514.2" font-size="4.5" text-anchor="end" font-family="Liberation Sans" fill="#222" >94.44</text><text x="395.2" y="502.9" font-size="5.6" text-anchor="middle" font-family="Liberation Serif" font-weight="bold" fill="#000" >KMS12PE</text><path d="M376.9 537.5 L376.9 536.3 L377.4 536 L377.9 535.5 L378.4 534 L378.9 533.1 L379.4 532.6 L379.9 532.1 L380.4 530.2 L380.9 529.8 L381.4 528 L381.9 526.3 L382.4 525.8 L382.9 521.4 L383.4 521.4 L383.9 516.4 L384.4 517 L384.9 512.6 L385.4 518.6 L385.9 514.7 L386.4 512.5 L386.9 507.9 L387.4 515.3 L387.9 515.7 L388.4 514.7 L388.9 521.7 L389.4 520 L389.9 522.6 L390.4 523 L390.9 529.3 L391.4 528.1 L391.9 531.9 L392.4 532.6 L392.9 534.6 L393.4 535.5 L393.9 535.8 L394.4 536.2 L394.9 536.9 L395.2 537.5Z" fill="#8c8c8c" stroke="#a0a0a0" stroke-width="0.4" stroke-linejoin="round"/><path d="M393.3 537.5 L393.3 537.2 L393.8 536.8 L394.3 536.4 L394.8 535.6 L395.3 534.3 L395.8 532.3 L396.3 530.1 L396.8 526 L397.3 522.4 L397.8 516.5 L398.3 511.7 L398.8 510 L399.3 508.3 L399.8 510.3 L400.3 511.6 L400.8 513.9 L401.3 516.5 L401.8 517.1 L402.3 519.6 L402.8 522.5 L403.3 523.8 L403.8 525.7 L404.3 528 L404.8 528.7 L405.3 530.3 L405.8 531.8 L406.3 532.7 L406.8 533.5 L407.3 534.2 L407.8 534.9 L408.3 535.5 L408.8 535.8 L409.3 536.2 L409.8 536.5 L410.3 536.7 L410.8 536.9 L411.3 537 L411.8 537.2 L411.8 537.5Z" fill="#0e8a0e" stroke="#006000" stroke-width="0.5" opacity="0.9"/><path d="M401.5 519.4H429.2" stroke="#8b2020" stroke-width="1.2"/><path d="M401.5 517.4V521.4M429.2 517.4V521.4" stroke="#5a1010" stroke-width="1.1"/><path d="M365.4 506.3H429.8V538.1" fill="none" stroke="#6e6e6e" stroke-width="0.9"/><path d="M365.4 506V538.1H430.1" fill="none" stroke="#111" stroke-width="1.3"/><text x="363.8" y="538.1" font-size="3.2" text-anchor="middle" font-family="Liberation Sans" fill="#444" transform="rotate(-90 363.8 538.1)">0</text><text x="363.8" y="530.1" font-size="3.2" text-anchor="middle" font-family="Liberation Sans" fill="#444" transform="rotate(-90 363.8 530.1)">8</text><text x="363.8" y="522.2" font-size="3.2" text-anchor="middle" font-family="Liberation Sans" fill="#444" transform="rotate(-90 363.8 522.2)">16</text><text x="363.8" y="514.2" font-size="3.2" text-anchor="middle" font-family="Liberation Sans" fill="#444" transform="rotate(-90 363.8 514.2)">24</text><text x="363.8" y="506.3" font-size="3.2" text-anchor="middle" font-family="Liberation Sans" fill="#444" transform="rotate(-90 363.8 506.3)">32</text><text x="366" y="544.5" font-size="3.1" text-anchor="middle" font-family="Liberation Sans" fill="#444" transform="rotate(-20 366 544.5)">10<tspan font-size="2.2" dy="-1.2">0</tspan></text><text x="382.1" y="544.5" font-size="3.1" text-anchor="middle" font-family="Liberation Sans" fill="#444" transform="rotate(-20 382.1 544.5)">10<tspan font-size="2.2" dy="-1.2">1</tspan></text><text x="398.2" y="544.5" font-size="3.1" text-anchor="middle" font-family="Liberation Sans" fill="#444" transform="rotate(-20 398.2 544.5)">10<tspan font-size="2.2" dy="-1.2">2</tspan></text><text x="414.3" y="544.5" font-size="3.1" text-anchor="middle" font-family="Liberation Sans" fill="#444" transform="rotate(-20 414.3 544.5)">10<tspan font-size="2.2" dy="-1.2">3</tspan></text><text x="430.4" y="544.5" font-size="3.1" text-anchor="middle" font-family="Liberation Sans" fill="#444" transform="rotate(-20 430.4 544.5)">10<tspan font-size="2.2" dy="-1.2">4</tspan></text><text x="358.4" y="524.2" font-size="4.9" text-anchor="middle" font-family="Liberation Sans" fill="#333" transform="rotate(-90 358.4 524.2)">Count</text><text x="397.6" y="549.1" font-size="4" text-anchor="middle" font-family="Liberation Sans" fill="#222">FITC-A</text><text x="426.6" y="513.6" font-size="4.5" text-anchor="end" font-family="Liberation Sans" fill="#222" >37.22</text><text x="471" y="505.7" font-size="5.6" text-anchor="middle" font-family="Liberation Serif" font-weight="bold" fill="#000" >NCIH929</text><path d="M450.8 537.5 L450.8 535.5 L451.3 535.4 L451.8 534.6 L452.3 534.6 L452.8 534.3 L453.3 533.2 L453.8 531.3 L454.3 531.6 L454.8 531.4 L455.3 529.8 L455.8 527.1 L456.3 525.2 L456.8 521.7 L457.3 522.3 L457.8 522.6 L458.3 517.1 L458.8 513.3 L459.3 515.5 L459.8 515.5 L460.3 513.3 L460.8 510.8 L461.3 506.3 L461.8 508.2 L462.3 510.6 L462.8 515.1 L463.3 519 L463.8 519.4 L464.3 525.4 L464.8 528.3 L465.3 533.1 L465.8 534.5 L466.3 535.4 L466.8 536.3 L467.3 536.9 L467.3 537.5Z" fill="#8c8c8c" stroke="#a0a0a0" stroke-width="0.4" stroke-linejoin="round"/><path d="M470.8 537.5 L470.8 537.2 L471.3 537 L471.8 536.7 L472.3 536.2 L472.8 535.5 L473.3 534.5 L473.8 533 L474.3 531 L474.8 528.8 L475.3 525.9 L475.8 522.2 L476.3 520.2 L476.8 515.6 L477.3 515 L477.8 516.3 L478.3 519.3 L478.8 521.8 L479.3 524.4 L479.8 527.3 L480.3 529.4 L480.8 531.8 L481.3 533.2 L481.8 534.6 L482.3 535.5 L482.8 536.1 L483.3 536.6 L483.8 536.9 L484.3 537.1 L484.6 537.5Z" fill="#0e8a0e" stroke="#006000" stroke-width="0.5" opacity="0.9"/><path d="M470.6 519.8H510" stroke="#8b2020" stroke-width="1.2"/><path d="M470.6 517.8V521.8M510 517.8V521.8" stroke="#5a1010" stroke-width="1.1"/><path d="M443.7 506.3H510.4V538.1" fill="none" stroke="#6e6e6e" stroke-width="0.9"/><path d="M443.7 506V538.1H510.7" fill="none" stroke="#111" stroke-width="1.3"/><text x="442.1" y="538.1" font-size="3.2" text-anchor="middle" font-family="Liberation Sans" fill="#444" transform="rotate(-90 442.1 538.1)">0</text><text x="442.1" y="530.1" font-size="3.2" text-anchor="middle" font-family="Liberation Sans" fill="#444" transform="rotate(-90 442.1 530.1)">8</text><text x="442.1" y="522.2" font-size="3.2" text-anchor="middle" font-family="Liberation Sans" fill="#444" transform="rotate(-90 442.1 522.2)">16</text><text x="442.1" y="514.2" font-size="3.2" text-anchor="middle" font-family="Liberation Sans" fill="#444" transform="rotate(-90 442.1 514.2)">24</text><text x="442.1" y="506.3" font-size="3.2" text-anchor="middle" font-family="Liberation Sans" fill="#444" transform="rotate(-90 442.1 506.3)">32</text><text x="444.3" y="544.5" font-size="3.1" text-anchor="middle" font-family="Liberation Sans" fill="#444" transform="rotate(-20 444.3 544.5)">10<tspan font-size="2.2" dy="-1.2">0</tspan></text><text x="461" y="544.5" font-size="3.1" text-anchor="middle" font-family="Liberation Sans" fill="#444" transform="rotate(-20 461 544.5)">10<tspan font-size="2.2" dy="-1.2">1</tspan></text><text x="477.6" y="544.5" font-size="3.1" text-anchor="middle" font-family="Liberation Sans" fill="#444" transform="rotate(-20 477.6 544.5)">10<tspan font-size="2.2" dy="-1.2">2</tspan></text><text x="494.3" y="544.5" font-size="3.1" text-anchor="middle" font-family="Liberation Sans" fill="#444" transform="rotate(-20 494.3 544.5)">10<tspan font-size="2.2" dy="-1.2">3</tspan></text><text x="511" y="544.5" font-size="3.1" text-anchor="middle" font-family="Liberation Sans" fill="#444" transform="rotate(-20 511 544.5)">10<tspan font-size="2.2" dy="-1.2">4</tspan></text><text x="436.7" y="524.2" font-size="4.9" text-anchor="middle" font-family="Liberation Sans" fill="#333" transform="rotate(-90 436.7 524.2)">Count</text><text x="477" y="549.1" font-size="4" text-anchor="middle" font-family="Liberation Sans" fill="#222">FITC-A</text><text x="507.2" y="513.6" font-size="4.5" text-anchor="end" font-family="Liberation Sans" fill="#222" >95.86</text><text x="314.6" y="561.7" font-size="5.6" text-anchor="middle" font-family="Liberation Serif" font-weight="bold" fill="#000" >KMS11</text><path d="M293 595.4 L293 593.9 L293.5 593.1 L294 593 L294.5 591.3 L295 591.8 L295.5 589.3 L296 587.7 L296.5 588.8 L297 584.6 L297.5 583 L298 584.5 L298.5 576.6 L299 573.6 L299.5 573.7 L300 575.1 L300.5 566.3 L301 563.7 L301.5 567.3 L302 563.7 L302.5 566.9 L303 573.2 L303.5 573.6 L304 575.4 L304.5 574.8 L305 579.4 L305.5 582.6 L306 585.3 L306.5 587.7 L307 586.8 L307.5 588.7 L308 591.4 L308.5 591.8 L309 593 L309.5 593.8 L310 594.6 L310.4 595.4Z" fill="#8c8c8c" stroke="#a0a0a0" stroke-width="0.4" stroke-linejoin="round"/><path d="M314 595.4 L314 595.1 L314.5 594.9 L315 594.4 L315.5 593.8 L316 592.7 L316.5 591 L317 588.7 L317.5 585.3 L318 581.6 L318.5 578.3 L319 574.8 L319.5 570.6 L320 571 L320.5 573.3 L321 575.8 L321.5 578.4 L322 581 L322.5 583.5 L323 585.1 L323.5 587.5 L324 588.8 L324.5 590.2 L325 591.4 L325.5 592.5 L326 593.2 L326.5 593.7 L327 594.2 L327.5 594.6 L328 594.8 L328.5 595 L329 595.1 L329 595.4Z" fill="#0e8a0e" stroke="#006000" stroke-width="0.5" opacity="0.9"/><path d="M312.3 576.7H350.4" stroke="#8b2020" stroke-width="1.2"/><path d="M312.3 574.7V578.7M350.4 574.7V578.7" stroke="#5a1010" stroke-width="1.1"/><path d="M284.4 563.7H350.8V596" fill="none" stroke="#6e6e6e" stroke-width="0.9"/><path d="M284.4 563.4V596H351.1" fill="none" stroke="#111" stroke-width="1.3"/><text x="282.8" y="596" font-size="3.2" text-anchor="middle" font-family="Liberation Sans" fill="#444" transform="rotate(-90 282.8 596)">0</text><text x="282.8" y="587.9" font-size="3.2" text-anchor="middle" font-family="Liberation Sans" fill="#444" transform="rotate(-90 282.8 587.9)">8</text><text x="282.8" y="579.9" font-size="3.2" text-anchor="middle" font-family="Liberation Sans" fill="#444" transform="rotate(-90 282.8 579.9)">16</text><text x="282.8" y="571.8" font-size="3.2" text-anchor="middle" font-family="Liberation Sans" fill="#444" transform="rotate(-90 282.8 571.8)">24</text><text x="282.8" y="563.7" font-size="3.2" text-anchor="middle" font-family="Liberation Sans" fill="#444" transform="rotate(-90 282.8 563.7)">32</text><text x="285" y="602.4" font-size="3.1" text-anchor="middle" font-family="Liberation Sans" fill="#444" transform="rotate(-20 285 602.4)">10<tspan font-size="2.2" dy="-1.2">0</tspan></text><text x="301.6" y="602.4" font-size="3.1" text-anchor="middle" font-family="Liberation Sans" fill="#444" transform="rotate(-20 301.6 602.4)">10<tspan font-size="2.2" dy="-1.2">1</tspan></text><text x="318.2" y="602.4" font-size="3.1" text-anchor="middle" font-family="Liberation Sans" fill="#444" transform="rotate(-20 318.2 602.4)">10<tspan font-size="2.2" dy="-1.2">2</tspan></text><text x="334.8" y="602.4" font-size="3.1" text-anchor="middle" font-family="Liberation Sans" fill="#444" transform="rotate(-20 334.8 602.4)">10<tspan font-size="2.2" dy="-1.2">3</tspan></text><text x="351.4" y="602.4" font-size="3.1" text-anchor="middle" font-family="Liberation Sans" fill="#444" transform="rotate(-20 351.4 602.4)">10<tspan font-size="2.2" dy="-1.2">4</tspan></text><text x="277.4" y="581.9" font-size="4.9" text-anchor="middle" font-family="Liberation Sans" fill="#333" transform="rotate(-90 277.4 581.9)">Count</text><text x="317.6" y="607" font-size="4" text-anchor="middle" font-family="Liberation Sans" fill="#222">FITC-A</text><text x="347.6" y="571" font-size="4.5" text-anchor="end" font-family="Liberation Sans" fill="#222" >96.42</text><text x="398" y="561.7" font-size="5.6" text-anchor="middle" font-family="Liberation Serif" font-weight="bold" fill="#000" >S6B45</text><path d="M377 595.4 L377 593.5 L377.5 592.7 L378 592.7 L378.5 591.5 L379 589.5 L379.5 588 L380 585.4 L380.5 583.8 L381 581 L381.5 577.8 L382 579.2 L382.5 570.4 L383 572 L383.5 563.7 L384 563.7 L384.5 567.6 L385 572.7 L385.5 571 L386 572.5 L386.5 574.1 L387 573.2 L387.5 578.8 L388 581.2 L388.5 582 L389 584.3 L389.5 583.5 L390 585.4 L390.5 589.6 L391 589.9 L391.5 590.7 L392 592.6 L392.5 593.5 L393 593.3 L393.5 593.9 L394 594.6 L394.4 595.4Z" fill="#8c8c8c" stroke="#a0a0a0" stroke-width="0.4" stroke-linejoin="round"/><path d="M399.8 595.4 L399.8 595.1 L400.3 594.9 L400.8 594.5 L401.3 594.1 L401.8 593.5 L402.3 592.7 L402.8 591.3 L403.3 589.8 L403.8 587.8 L404.3 585 L404.8 581.9 L405.3 578.7 L405.8 575.8 L406.3 570.9 L406.8 569.8 L407.3 567.5 L407.8 569.1 L408.3 570.5 L408.8 571.3 L409.3 575.8 L409.8 576.8 L410.3 580.1 L410.8 582.2 L411.3 585.1 L411.8 586.8 L412.3 588.5 L412.8 589.9 L413.3 590.9 L413.8 592.1 L414.3 592.9 L414.8 593.4 L415.3 593.9 L415.8 594.3 L416.3 594.6 L416.8 594.9 L417.3 595 L417.5 595.4Z" fill="#0e8a0e" stroke="#006000" stroke-width="0.5" opacity="0.9"/><path d="M394.2 576.7H432.3" stroke="#8b2020" stroke-width="1.2"/><path d="M394.2 574.7V578.7M432.3 574.7V578.7" stroke="#5a1010" stroke-width="1.1"/><path d="M366.3 563.7H432.7V596" fill="none" stroke="#6e6e6e" stroke-width="0.9"/><path d="M366.3 563.4V596H433" fill="none" stroke="#111" stroke-width="1.3"/><text x="364.7" y="596" font-size="3.2" text-anchor="middle" font-family="Liberation Sans" fill="#444" transform="rotate(-90 364.7 596)">0</text><text x="364.7" y="587.9" font-size="3.2" text-anchor="middle" font-family="Liberation Sans" fill="#444" transform="rotate(-90 364.7 587.9)">8</text><text x="364.7" y="579.9" font-size="3.2" text-anchor="middle" font-family="Liberation Sans" fill="#444" transform="rotate(-90 364.7 579.9)">16</text><text x="364.7" y="571.8" font-size="3.2" text-anchor="middle" font-family="Liberation Sans" fill="#444" transform="rotate(-90 364.7 571.8)">24</text><text x="364.7" y="563.7" font-size="3.2" text-anchor="middle" font-family="Liberation Sans" fill="#444" transform="rotate(-90 364.7 563.7)">32</text><text x="366.9" y="602.4" font-size="3.1" text-anchor="middle" font-family="Liberation Sans" fill="#444" transform="rotate(-20 366.9 602.4)">10<tspan font-size="2.2" dy="-1.2">0</tspan></text><text x="383.5" y="602.4" font-size="3.1" text-anchor="middle" font-family="Liberation Sans" fill="#444" transform="rotate(-20 383.5 602.4)">10<tspan font-size="2.2" dy="-1.2">1</tspan></text><text x="400.1" y="602.4" font-size="3.1" text-anchor="middle" font-family="Liberation Sans" fill="#444" transform="rotate(-20 400.1 602.4)">10<tspan font-size="2.2" dy="-1.2">2</tspan></text><text x="416.7" y="602.4" font-size="3.1" text-anchor="middle" font-family="Liberation Sans" fill="#444" transform="rotate(-20 416.7 602.4)">10<tspan font-size="2.2" dy="-1.2">3</tspan></text><text x="433.3" y="602.4" font-size="3.1" text-anchor="middle" font-family="Liberation Sans" fill="#444" transform="rotate(-20 433.3 602.4)">10<tspan font-size="2.2" dy="-1.2">4</tspan></text><text x="359.3" y="581.9" font-size="4.9" text-anchor="middle" font-family="Liberation Sans" fill="#333" transform="rotate(-90 359.3 581.9)">Count</text><text x="399.5" y="607" font-size="4" text-anchor="middle" font-family="Liberation Sans" fill="#222">FITC-A</text><text x="429.5" y="571" font-size="4.5" text-anchor="end" font-family="Liberation Sans" fill="#222" >99.21</text><rect x="442" y="296.5" width="69.3" height="26.5" fill="#ececec" stroke="#2a2a2a" stroke-width="1.1"/><text x="447.5" y="305" font-size="5.6" text-anchor="start" font-family="Liberation Serif" font-weight="bold" fill="#111" >Blue: Ptch1-ab</text><text x="447.5" y="311.6" font-size="5.6" text-anchor="start" font-family="Liberation Serif" font-weight="bold" fill="#111" >Violet: Ptch1-sc</text><text x="447.5" y="319" font-size="5.6" text-anchor="start" font-family="Liberation Serif" font-weight="bold" fill="#111" >Grey: IgG-neg FITC</text><rect x="187.3" y="566.2" width="66.5" height="19.7" fill="#7f7f7f" stroke="#2a2a2a" stroke-width="1.1"/><text x="193.1" y="574.6" font-size="5.7" text-anchor="start" font-family="Liberation Serif" font-weight="bold" fill="#151515" >Green: Smo-ab</text><text x="193.1" y="580.9" font-size="5.7" text-anchor="start" font-family="Liberation Serif" font-weight="bold" fill="#151515" >Grey: IgG-negFITC</text><rect x="440.1" y="566.1" width="67.1" height="19.9" fill="#7f7f7f" stroke="#2a2a2a" stroke-width="1.1"/><text x="446" y="574.4" font-size="5.55" text-anchor="start" font-family="Liberation Serif" font-weight="bold" fill="#151515" >Green: Smo-sc</text><text x="446" y="580.9" font-size="5.55" text-anchor="start" font-family="Liberation Serif" font-weight="bold" fill="#151515" >Grey: IgG-negFITC</text><text x="60" y="634.4" font-size="5.25" text-anchor="start" font-family="Liberation Serif" font-weight="bold" fill="#111" stroke="#111" stroke-width="0.22">Heart</text><text x="78.8" y="634.4" font-size="5.25" text-anchor="start" font-family="Liberation Serif" font-weight="bold" fill="#111" stroke="#111" stroke-width="0.22">MM1S</text><text x="98.8" y="634.4" font-size="5.25" text-anchor="start" font-family="Liberation Serif" font-weight="bold" fill="#111" stroke="#111" stroke-width="0.22">MM1R</text><text x="118.8" y="634.4" font-size="5.25" text-anchor="start" font-family="Liberation Serif" font-weight="bold" fill="#111" stroke="#111" stroke-width="0.22">OPM1</text><text x="136.3" y="634.4" font-size="5.25" text-anchor="start" font-family="Liberation Serif" font-weight="bold" fill="#111" stroke="#111" stroke-width="0.22">OPM2</text><text x="154.5" y="634.4" font-size="5.25" text-anchor="start" font-family="Liberation Serif" font-weight="bold" fill="#111" stroke="#111" stroke-width="0.22">RPMI</text><text x="170" y="634.4" font-size="5.25" text-anchor="start" font-family="Liberation Serif" font-weight="bold" fill="#111" stroke="#111" stroke-width="0.22">U266</text><text x="60" y="660.2" font-size="5.25" text-anchor="start" font-family="Liberation Serif" font-weight="bold" fill="#111" stroke="#111" stroke-width="0.22">Heart</text><text x="77" y="660.2" font-size="5.25" text-anchor="start" font-family="Liberation Serif" font-weight="bold" fill="#111" stroke="#111" stroke-width="0.22">INA6</text><text x="93" y="660.2" font-size="5.25" text-anchor="start" font-family="Liberation Serif" font-weight="bold" fill="#111" stroke="#111" stroke-width="0.22">NCIH929</text><text x="118" y="660.2" font-size="5.25" text-anchor="start" font-family="Liberation Serif" font-weight="bold" fill="#111" stroke="#111" stroke-width="0.22">12BM</text><text x="134.5" y="660.2" font-size="5.25" text-anchor="start" font-family="Liberation Serif" font-weight="bold" fill="#111" stroke="#111" stroke-width="0.22">12PE</text><text x="150.8" y="660.2" font-size="5.25" text-anchor="start" font-family="Liberation Serif" font-weight="bold" fill="#111" stroke="#111" stroke-width="0.22">KMS11</text><text x="170" y="660.2" font-size="5.25" text-anchor="start" font-family="Liberation Serif" font-weight="bold" fill="#111" stroke="#111" stroke-width="0.22">S6B45</text><text x="25" y="644" font-size="5.8" text-anchor="start" font-family="Liberation Serif" font-weight="bold" fill="#111" stroke="#111" stroke-width="0.2">Smo (ab)</text><text x="27" y="650.8" font-size="5.8" text-anchor="start" font-family="Liberation Serif" font-weight="bold" fill="#111" stroke="#111" stroke-width="0.2">75-80kda</text><text x="25" y="669" font-size="5.8" text-anchor="start" font-family="Liberation Serif" font-weight="bold" fill="#111" stroke="#111" stroke-width="0.2">Smo (ab)</text><text x="27" y="675.8" font-size="5.8" text-anchor="start" font-family="Liberation Serif" font-weight="bold" fill="#111" stroke="#111" stroke-width="0.2">75-80kda</text><text x="25" y="695" font-size="5.8" text-anchor="start" font-family="Liberation Serif" font-weight="bold" fill="#111" stroke="#111" stroke-width="0.2">α-tubulin</text><text x="27" y="701.8" font-size="5.8" text-anchor="start" font-family="Liberation Serif" font-weight="bold" fill="#111" stroke="#111" stroke-width="0.2">55kda</text><rect x="58.8" y="639.5" width="126.2" height="13" fill="#fff" stroke="#222" stroke-width="0.9"/><rect x="58.8" y="664.5" width="126.2" height="17.5" fill="#fff" stroke="#222" stroke-width="0.9"/><rect x="58.8" y="690.8" width="126.2" height="18" fill="#fff" stroke="#222" stroke-width="0.9"/><rect x="61" y="644.1" width="16.2" height="5.4" rx="2.7" fill="#161616" opacity="1.0" filter="url(#b2)"/><rect x="79.2" y="644.8" width="14.8" height="3.2" rx="1.6" fill="#161616" opacity="0.85" filter="url(#b2)"/><rect x="97.4" y="646.1" width="14.1" height="2.7" rx="1.4" fill="#161616" opacity="0.9" filter="url(#b2)"/><rect x="114.2" y="646" width="16.3" height="4" rx="2" fill="#161616" opacity="1.0" filter="url(#b2)"/><rect x="133" y="646.4" width="14.5" height="2.8" rx="1.4" fill="#161616" opacity="0.85" filter="url(#b2)"/><rect x="151" y="647" width="11.5" height="2" rx="1" fill="#161616" opacity="0.6" filter="url(#b2)"/><rect x="166.5" y="644.8" width="17.5" height="5" rx="2.5" fill="#161616" opacity="1.0" filter="url(#b2)"/><rect x="60.4" y="671.7" width="15.6" height="8" rx="3" fill="#161616" opacity="1.0" filter="url(#b2)"/><rect x="77.2" y="671.3" width="16.4" height="7.8" rx="3" fill="#161616" opacity="1.0" filter="url(#b2)"/><rect x="94.7" y="673" width="17.5" height="6.7" rx="3" fill="#161616" opacity="1.0" filter="url(#b2)"/><rect x="114" y="675" width="13.5" height="3.4" rx="1.7" fill="#161616" opacity="0.9" filter="url(#b2)"/><rect x="132.5" y="675.9" width="12.5" height="2.2" rx="1.1" fill="#161616" opacity="0.85" filter="url(#b2)"/><rect x="150" y="675.4" width="12.5" height="2.8" rx="1.4" fill="#161616" opacity="0.95" filter="url(#b2)"/><rect x="165.5" y="673.1" width="17.5" height="6.2" rx="3" fill="#161616" opacity="1.0" filter="url(#b2)"/><rect x="61.7" y="696.9" width="37.3" height="6.2" rx="3" fill="#161616" opacity="1.0" filter="url(#b2)"/><rect x="95" y="696.4" width="36" height="6.8" rx="3" fill="#161616" opacity="1.0" filter="url(#b2)"/><rect x="128" y="697.1" width="32" height="5.8" rx="2.9" fill="#161616" opacity="1.0" filter="url(#b2)"/><rect x="156" y="696.5" width="25" height="6.6" rx="3" fill="#161616" opacity="1.0" filter="url(#b2)"/></svg></body></html>
